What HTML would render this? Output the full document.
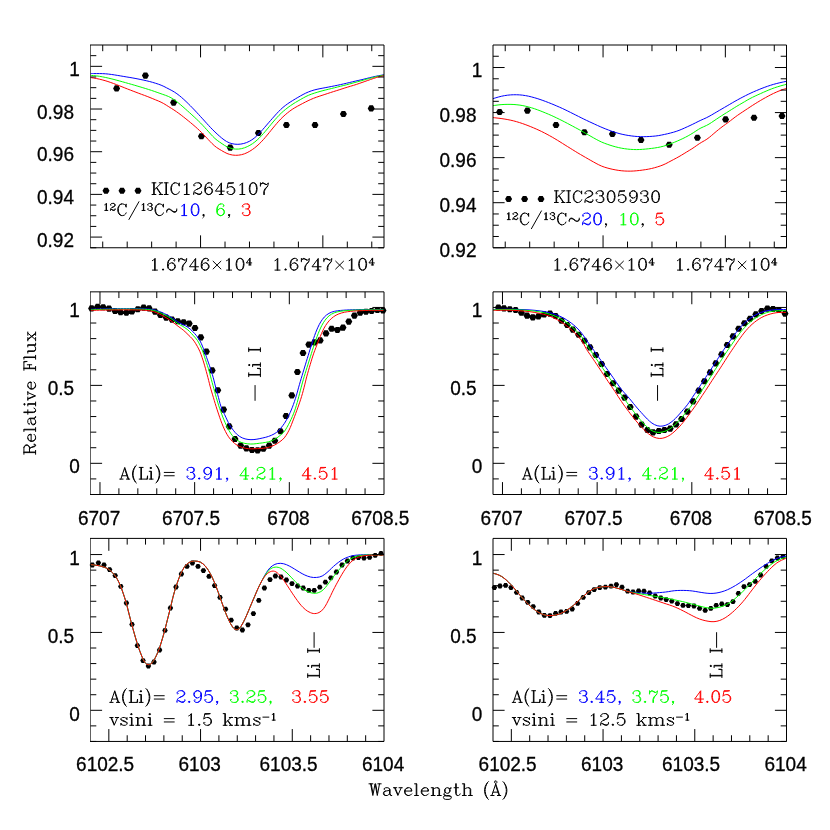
<!DOCTYPE html>
<html><head><meta charset="utf-8"><title>Spectra</title>
<style>
html,body{margin:0;padding:0;background:#fff;}
body{width:830px;height:830px;overflow:hidden;font-family:"Liberation Sans",sans-serif;}
svg{display:block;}
.t{font-family:"Liberation Sans",sans-serif;font-size:19px;fill:#000;stroke:#000;stroke-width:0.3px;}
.h{font-family:"Liberation Serif",serif;fill:#000;}
</style></head><body>
<svg width="830" height="830" viewBox="0 0 830 830">
<rect width="830" height="830" fill="#fff"/>
<clipPath id="c1"><rect x="90.5" y="45" width="293.5" height="202.75"/></clipPath>
<clipPath id="c2"><rect x="493" y="45" width="293.5" height="202.75"/></clipPath>
<clipPath id="c3"><rect x="90.5" y="291.85" width="293.5" height="202.65"/></clipPath>
<clipPath id="c4"><rect x="493" y="291.85" width="293.5" height="202.65"/></clipPath>
<clipPath id="c5"><rect x="90.5" y="538.4" width="293.5" height="203.05"/></clipPath>
<clipPath id="c6"><rect x="493" y="538.4" width="293.5" height="203.05"/></clipPath>
<g fill="#000">
<path d="M120.1 88.4l-1.75 3.03h-3.5l-1.75 -3.03l1.75 -3.03h3.5zM148.9 75.6l-1.75 3.03h-3.5l-1.75 -3.03l1.75 -3.03h3.5zM177.1 102.6l-1.75 3.03h-3.5l-1.75 -3.03l1.75 -3.03h3.5zM204.9 136.2l-1.75 3.03h-3.5l-1.75 -3.03l1.75 -3.03h3.5zM233.7 147.6l-1.75 3.03h-3.5l-1.75 -3.03l1.75 -3.03h3.5zM261.9 133l-1.75 3.03h-3.5l-1.75 -3.03l1.75 -3.03h3.5zM289.9 125l-1.75 3.03h-3.5l-1.75 -3.03l1.75 -3.03h3.5zM318.5 125l-1.75 3.03h-3.5l-1.75 -3.03l1.75 -3.03h3.5zM346.9 114l-1.75 3.03h-3.5l-1.75 -3.03l1.75 -3.03h3.5zM374.7 108.4l-1.75 3.03h-3.5l-1.75 -3.03l1.75 -3.03h3.5zM109.5 190.8l-1.75 3.03h-3.5l-1.75 -3.03l1.75 -3.03h3.5zM125.5 190.8l-1.75 3.03h-3.5l-1.75 -3.03l1.75 -3.03h3.5zM141.5 190.8l-1.75 3.03h-3.5l-1.75 -3.03l1.75 -3.03h3.5z"/>
</g>
<g clip-path="url(#c1)" fill="none" stroke-width="1" stroke-linejoin="round">
<path stroke="#0000ff" d="M90.41 73.55C90.91 73.55 92.41 73.55 93.41 73.55C94.41 73.55 95.41 73.55 96.41 73.55C97.41 73.56 98.41 73.56 99.41 73.57C100.41 73.58 101.41 73.59 102.41 73.63C103.41 73.67 104.41 73.72 105.4 73.79C106.4 73.86 107.39 73.96 108.39 74.07C109.38 74.18 110.37 74.31 111.36 74.44C112.35 74.58 113.34 74.73 114.33 74.89C115.32 75.04 116.3 75.21 117.29 75.37C118.28 75.54 119.26 75.71 120.25 75.87C121.23 76.04 122.22 76.2 123.21 76.37C124.19 76.53 125.18 76.7 126.17 76.86C127.15 77.02 128.14 77.18 129.13 77.35C130.11 77.52 131.1 77.68 132.08 77.85C133.07 78.03 134.05 78.21 135.04 78.39C136.02 78.58 137 78.77 137.98 78.96C138.96 79.16 139.94 79.36 140.92 79.56C141.9 79.77 142.88 79.97 143.86 80.18C144.83 80.39 145.81 80.61 146.78 80.84C147.76 81.07 148.73 81.31 149.69 81.56C150.66 81.81 151.63 82.08 152.59 82.35C153.55 82.63 154.5 82.92 155.46 83.22C156.41 83.52 157.36 83.82 158.31 84.15C159.25 84.48 160.19 84.82 161.11 85.2C162.04 85.57 162.95 85.98 163.85 86.41C164.75 86.84 165.63 87.32 166.51 87.78C167.4 88.23 168.29 88.7 169.17 89.16C170.06 89.63 170.95 90.07 171.83 90.55C172.7 91.03 173.57 91.52 174.42 92.05C175.26 92.57 176.09 93.14 176.9 93.72C177.71 94.3 178.5 94.91 179.28 95.53C180.06 96.16 180.83 96.8 181.59 97.45C182.35 98.1 183.09 98.77 183.83 99.44C184.57 100.12 185.3 100.8 186.02 101.49C186.75 102.18 187.47 102.87 188.18 103.58C188.89 104.28 189.6 104.99 190.3 105.7C191 106.41 191.7 107.13 192.39 107.84C193.09 108.56 193.78 109.29 194.47 110.01C195.16 110.74 195.84 111.47 196.53 112.2C197.21 112.93 197.89 113.66 198.57 114.4C199.24 115.13 199.92 115.87 200.59 116.61C201.27 117.35 201.94 118.09 202.61 118.83C203.28 119.57 203.95 120.31 204.62 121.06C205.29 121.8 205.96 122.54 206.63 123.28C207.31 124.02 207.98 124.76 208.66 125.49C209.34 126.23 210.02 126.96 210.71 127.68C211.4 128.4 212.1 129.12 212.81 129.83C213.51 130.54 214.22 131.24 214.94 131.94C215.66 132.63 216.38 133.32 217.12 134C217.85 134.68 218.6 135.35 219.35 136C220.1 136.66 220.86 137.31 221.64 137.94C222.41 138.57 223.19 139.21 223.99 139.79C224.8 140.37 225.61 140.95 226.47 141.44C227.33 141.94 228.22 142.38 229.13 142.75C230.04 143.12 231 143.42 231.95 143.66C232.91 143.9 233.9 144.07 234.88 144.18C235.86 144.29 236.86 144.34 237.85 144.32C238.84 144.31 239.84 144.22 240.82 144.09C241.8 143.95 242.78 143.75 243.73 143.49C244.69 143.24 245.64 142.93 246.57 142.57C247.49 142.21 248.41 141.8 249.29 141.35C250.17 140.89 251.03 140.38 251.86 139.83C252.69 139.29 253.49 138.69 254.27 138.07C255.05 137.45 255.8 136.8 256.54 136.12C257.27 135.45 257.98 134.74 258.68 134.03C259.37 133.31 260.05 132.57 260.72 131.83C261.39 131.09 262.05 130.34 262.71 129.58C263.37 128.83 264.02 128.08 264.68 127.32C265.33 126.57 265.98 125.81 266.64 125.05C267.29 124.29 267.94 123.53 268.59 122.78C269.25 122.02 269.9 121.26 270.56 120.51C271.21 119.75 271.87 119 272.53 118.25C273.19 117.5 273.85 116.75 274.52 116C275.19 115.26 275.85 114.51 276.53 113.78C277.21 113.04 277.88 112.3 278.58 111.58C279.27 110.86 279.97 110.15 280.69 109.46C281.42 108.77 282.16 108.1 282.91 107.45C283.67 106.8 284.45 106.18 285.24 105.57C286.03 104.96 286.84 104.37 287.66 103.79C288.48 103.22 289.31 102.66 290.15 102.12C290.98 101.57 291.83 101.05 292.68 100.52C293.53 100 294.39 99.48 295.25 98.97C296.11 98.45 296.97 97.94 297.83 97.44C298.69 96.93 299.56 96.43 300.43 95.94C301.3 95.45 302.18 94.96 303.06 94.5C303.94 94.03 304.83 93.57 305.73 93.14C306.64 92.72 307.55 92.31 308.47 91.93C309.4 91.56 310.33 91.21 311.28 90.89C312.22 90.57 313.18 90.28 314.14 90.01C315.1 89.75 316.08 89.51 317.05 89.29C318.02 89.06 319 88.86 319.98 88.67C320.96 88.47 321.95 88.29 322.93 88.11C323.91 87.92 324.9 87.74 325.88 87.56C326.86 87.37 327.85 87.18 328.83 86.99C329.81 86.8 330.79 86.6 331.77 86.41C332.75 86.21 333.73 86.02 334.71 85.82C335.69 85.62 336.67 85.42 337.65 85.22C338.63 85.01 339.61 84.81 340.59 84.59C341.56 84.38 342.54 84.16 343.51 83.94C344.49 83.72 345.46 83.49 346.44 83.26C347.41 83.03 348.38 82.8 349.35 82.56C350.33 82.33 351.3 82.09 352.27 81.86C353.24 81.63 354.22 81.4 355.19 81.17C356.17 80.95 357.14 80.73 358.12 80.5C359.09 80.28 360.07 80.06 361.04 79.84C362.01 79.61 362.99 79.37 363.96 79.13C364.93 78.89 365.9 78.64 366.86 78.4C367.83 78.15 368.8 77.9 369.77 77.67C370.75 77.43 371.72 77.19 372.69 76.97C373.67 76.75 374.64 76.53 375.62 76.32C376.6 76.11 377.58 75.92 378.56 75.73C379.54 75.54 380.61 75.35 381.51 75.18C382.41 75.02 383.57 74.83 383.98 74.76"/>
<path stroke="#00ff00" d="M90.41 75.36C90.91 75.4 92.4 75.51 93.4 75.59C94.4 75.68 95.39 75.77 96.38 75.89C97.38 76 98.37 76.14 99.36 76.29C100.34 76.44 101.33 76.62 102.31 76.8C103.29 76.99 104.27 77.19 105.25 77.4C106.23 77.6 107.2 77.82 108.18 78.05C109.15 78.27 110.12 78.51 111.09 78.75C112.07 78.99 113.04 79.23 114 79.48C114.97 79.73 115.94 79.99 116.9 80.25C117.87 80.51 118.83 80.78 119.8 81.04C120.76 81.31 121.72 81.58 122.69 81.85C123.65 82.12 124.61 82.4 125.57 82.67C126.54 82.94 127.5 83.22 128.46 83.49C129.42 83.76 130.38 84.03 131.35 84.31C132.31 84.58 133.27 84.86 134.23 85.14C135.19 85.42 136.15 85.71 137.1 85.99C138.06 86.28 139.02 86.57 139.98 86.85C140.94 87.14 141.9 87.43 142.85 87.71C143.81 88 144.77 88.29 145.73 88.58C146.68 88.87 147.64 89.17 148.59 89.47C149.54 89.77 150.5 90.08 151.45 90.4C152.39 90.71 153.34 91.03 154.29 91.36C155.23 91.69 156.17 92.02 157.12 92.36C158.06 92.69 159 93.04 159.94 93.37C160.88 93.71 161.82 94.04 162.77 94.37C163.71 94.69 164.66 95 165.6 95.35C166.53 95.7 167.47 96.05 168.38 96.45C169.28 96.86 170.18 97.3 171.05 97.78C171.92 98.26 172.78 98.78 173.61 99.33C174.44 99.88 175.25 100.46 176.05 101.06C176.85 101.66 177.62 102.29 178.4 102.92C179.17 103.56 179.93 104.2 180.69 104.85C181.45 105.5 182.21 106.16 182.96 106.82C183.71 107.48 184.46 108.15 185.21 108.81C185.95 109.47 186.7 110.14 187.44 110.81C188.19 111.48 188.93 112.14 189.68 112.81C190.42 113.48 191.16 114.15 191.9 114.83C192.64 115.5 193.38 116.17 194.12 116.85C194.85 117.53 195.59 118.21 196.31 118.89C197.04 119.58 197.76 120.27 198.48 120.97C199.2 121.67 199.9 122.37 200.61 123.08C201.31 123.79 202.01 124.51 202.69 125.24C203.38 125.96 204.06 126.7 204.73 127.44C205.41 128.18 206.07 128.93 206.73 129.67C207.4 130.42 208.05 131.18 208.72 131.92C209.38 132.67 210.05 133.42 210.72 134.15C211.4 134.89 212.07 135.63 212.77 136.34C213.47 137.06 214.17 137.77 214.91 138.44C215.64 139.11 216.41 139.75 217.19 140.35C217.98 140.96 218.81 141.51 219.63 142.08C220.45 142.64 221.29 143.19 222.12 143.75C222.94 144.31 223.76 144.89 224.6 145.41C225.45 145.93 226.3 146.46 227.18 146.89C228.07 147.32 229 147.69 229.93 147.99C230.87 148.3 231.85 148.54 232.82 148.72C233.79 148.9 234.78 149.03 235.77 149.09C236.76 149.14 237.75 149.14 238.74 149.06C239.72 148.98 240.7 148.83 241.67 148.61C242.64 148.4 243.59 148.11 244.53 147.78C245.47 147.45 246.39 147.07 247.29 146.65C248.2 146.23 249.08 145.77 249.95 145.28C250.81 144.78 251.66 144.25 252.48 143.69C253.3 143.13 254.11 142.53 254.89 141.92C255.67 141.3 256.43 140.65 257.18 139.98C257.92 139.32 258.64 138.62 259.35 137.92C260.06 137.21 260.74 136.49 261.42 135.76C262.1 135.02 262.77 134.28 263.43 133.53C264.09 132.78 264.74 132.02 265.39 131.25C266.03 130.49 266.67 129.72 267.31 128.95C267.94 128.18 268.58 127.4 269.21 126.63C269.85 125.86 270.48 125.09 271.12 124.32C271.76 123.55 272.4 122.78 273.04 122.01C273.69 121.25 274.33 120.49 274.99 119.73C275.65 118.98 276.31 118.23 276.99 117.49C277.66 116.76 278.35 116.03 279.04 115.31C279.74 114.59 280.45 113.89 281.17 113.2C281.9 112.51 282.64 111.84 283.39 111.18C284.14 110.53 284.91 109.89 285.69 109.26C286.47 108.64 287.26 108.02 288.06 107.42C288.86 106.83 289.67 106.24 290.49 105.67C291.31 105.1 292.15 104.55 292.98 104C293.82 103.46 294.68 102.94 295.53 102.42C296.38 101.9 297.25 101.39 298.11 100.88C298.97 100.38 299.84 99.88 300.71 99.38C301.58 98.89 302.44 98.39 303.32 97.91C304.2 97.43 305.07 96.95 305.96 96.5C306.86 96.05 307.76 95.62 308.67 95.23C309.59 94.83 310.52 94.47 311.46 94.13C312.4 93.78 313.35 93.47 314.3 93.16C315.25 92.85 316.2 92.56 317.16 92.27C318.12 91.98 319.08 91.7 320.04 91.44C321 91.17 321.97 90.91 322.94 90.65C323.9 90.4 324.87 90.15 325.84 89.91C326.81 89.67 327.79 89.43 328.76 89.19C329.73 88.95 330.7 88.72 331.67 88.48C332.64 88.24 333.61 87.99 334.58 87.74C335.55 87.5 336.52 87.25 337.49 87C338.46 86.76 339.43 86.52 340.4 86.28C341.37 86.04 342.34 85.81 343.31 85.57C344.29 85.33 345.26 85.09 346.22 84.84C347.19 84.59 348.16 84.34 349.13 84.08C350.09 83.82 351.06 83.56 352.02 83.29C352.99 83.03 353.95 82.76 354.92 82.5C355.88 82.23 356.85 81.98 357.81 81.72C358.78 81.46 359.75 81.2 360.71 80.94C361.67 80.67 362.64 80.4 363.6 80.13C364.56 79.86 365.52 79.57 366.48 79.3C367.44 79.02 368.4 78.74 369.37 78.48C370.33 78.21 371.3 77.96 372.27 77.71C373.23 77.46 374.2 77.21 375.17 76.97C376.15 76.73 377.12 76.5 378.09 76.28C379.07 76.06 380.05 75.86 381.03 75.66C382.01 75.47 383.48 75.21 383.98 75.12"/>
<path stroke="#ff0000" d="M90.41 77.53C90.9 77.61 92.39 77.84 93.37 78.01C94.36 78.18 95.34 78.35 96.33 78.53C97.31 78.72 98.29 78.92 99.26 79.14C100.24 79.36 101.21 79.6 102.18 79.85C103.15 80.1 104.11 80.37 105.07 80.65C106.03 80.94 106.98 81.24 107.93 81.54C108.88 81.85 109.83 82.18 110.78 82.51C111.72 82.84 112.66 83.18 113.6 83.53C114.54 83.88 115.47 84.23 116.4 84.59C117.34 84.95 118.27 85.32 119.2 85.68C120.13 86.05 121.06 86.42 121.99 86.79C122.92 87.16 123.85 87.53 124.78 87.9C125.71 88.27 126.64 88.63 127.57 89C128.5 89.36 129.44 89.72 130.37 90.08C131.31 90.44 132.24 90.8 133.17 91.16C134.11 91.51 135.04 91.87 135.98 92.23C136.91 92.59 137.85 92.95 138.78 93.3C139.72 93.65 140.65 94.01 141.59 94.35C142.53 94.7 143.47 95.05 144.41 95.39C145.34 95.74 146.28 96.09 147.22 96.45C148.15 96.81 149.08 97.18 150.01 97.55C150.94 97.92 151.86 98.31 152.79 98.69C153.71 99.07 154.64 99.45 155.56 99.83C156.48 100.21 157.41 100.58 158.33 100.98C159.25 101.37 160.17 101.76 161.07 102.19C161.97 102.63 162.85 103.09 163.72 103.59C164.58 104.08 165.42 104.62 166.27 105.15C167.11 105.68 167.95 106.23 168.8 106.76C169.64 107.29 170.5 107.81 171.35 108.34C172.19 108.87 173.05 109.4 173.88 109.94C174.72 110.49 175.55 111.05 176.37 111.62C177.19 112.19 178 112.78 178.81 113.37C179.61 113.97 180.41 114.57 181.21 115.17C182 115.78 182.79 116.39 183.58 117.01C184.37 117.63 185.15 118.25 185.93 118.87C186.72 119.5 187.5 120.12 188.27 120.76C189.05 121.39 189.82 122.02 190.59 122.66C191.36 123.3 192.13 123.94 192.89 124.59C193.65 125.24 194.41 125.89 195.16 126.55C195.91 127.21 196.66 127.87 197.4 128.55C198.14 129.22 198.87 129.91 199.59 130.6C200.31 131.29 201.02 132 201.73 132.7C202.44 133.41 203.13 134.13 203.83 134.85C204.52 135.57 205.2 136.3 205.89 137.03C206.57 137.76 207.25 138.5 207.93 139.23C208.61 139.96 209.3 140.69 209.99 141.41C210.68 142.13 211.38 142.86 212.09 143.55C212.81 144.25 213.52 144.95 214.27 145.61C215.02 146.26 215.79 146.89 216.6 147.47C217.4 148.05 218.25 148.57 219.1 149.09C219.95 149.62 220.82 150.1 221.68 150.61C222.55 151.11 223.4 151.63 224.28 152.1C225.16 152.57 226.03 153.04 226.94 153.44C227.85 153.83 228.79 154.17 229.74 154.44C230.69 154.71 231.67 154.92 232.64 155.06C233.62 155.2 234.62 155.28 235.61 155.3C236.6 155.32 237.6 155.28 238.58 155.17C239.57 155.07 240.55 154.9 241.52 154.68C242.48 154.45 243.44 154.17 244.38 153.83C245.31 153.49 246.23 153.1 247.12 152.66C248.02 152.23 248.89 151.75 249.75 151.24C250.61 150.73 251.45 150.19 252.27 149.62C253.09 149.06 253.9 148.46 254.69 147.85C255.47 147.24 256.24 146.6 257 145.95C257.75 145.29 258.49 144.61 259.21 143.92C259.93 143.23 260.64 142.52 261.33 141.8C262.02 141.08 262.7 140.35 263.37 139.6C264.04 138.86 264.69 138.1 265.34 137.34C265.99 136.58 266.63 135.81 267.26 135.04C267.9 134.26 268.53 133.49 269.16 132.71C269.79 131.93 270.41 131.15 271.04 130.37C271.67 129.59 272.29 128.81 272.93 128.04C273.56 127.26 274.19 126.48 274.83 125.72C275.47 124.95 276.12 124.18 276.77 123.43C277.42 122.67 278.08 121.92 278.76 121.18C279.43 120.44 280.11 119.71 280.81 118.99C281.51 118.28 282.22 117.57 282.95 116.89C283.67 116.2 284.41 115.53 285.16 114.87C285.92 114.21 286.68 113.56 287.45 112.93C288.23 112.3 289.01 111.68 289.81 111.08C290.62 110.48 291.43 109.9 292.26 109.35C293.09 108.79 293.94 108.27 294.8 107.75C295.65 107.24 296.53 106.76 297.4 106.27C298.28 105.79 299.16 105.32 300.05 104.85C300.93 104.38 301.81 103.91 302.7 103.45C303.59 102.98 304.47 102.52 305.36 102.06C306.25 101.61 307.15 101.16 308.05 100.73C308.95 100.29 309.86 99.87 310.77 99.47C311.69 99.06 312.61 98.67 313.54 98.31C314.47 97.94 315.4 97.59 316.34 97.25C317.29 96.91 318.24 96.6 319.18 96.28C320.13 95.97 321.09 95.66 322.04 95.35C322.99 95.04 323.94 94.74 324.89 94.43C325.84 94.11 326.79 93.8 327.74 93.48C328.69 93.17 329.64 92.85 330.59 92.54C331.54 92.23 332.49 91.92 333.45 91.62C334.4 91.32 335.36 91.03 336.31 90.73C337.27 90.43 338.22 90.13 339.17 89.82C340.13 89.52 341.07 89.2 342.02 88.88C342.98 88.57 343.93 88.26 344.88 87.96C345.83 87.66 346.79 87.36 347.75 87.07C348.7 86.78 349.66 86.5 350.62 86.21C351.58 85.93 352.54 85.64 353.5 85.35C354.45 85.05 355.41 84.75 356.35 84.44C357.3 84.12 358.25 83.79 359.19 83.46C360.14 83.14 361.08 82.8 362.02 82.47C362.97 82.14 363.91 81.81 364.86 81.48C365.8 81.15 366.75 80.82 367.69 80.49C368.64 80.16 369.58 79.83 370.52 79.5C371.47 79.17 372.41 78.83 373.36 78.51C374.31 78.19 375.25 77.87 376.21 77.58C377.17 77.29 378.13 77.01 379.09 76.76C380.06 76.51 381.2 76.27 382.01 76.1C382.83 75.92 383.65 75.79 383.98 75.72"/>
</g>
<g fill="#000">
<path d="M503.1 112l-1.75 3.03h-3.5l-1.75 -3.03l1.75 -3.03h3.5zM530.9 110.6l-1.75 3.03h-3.5l-1.75 -3.03l1.75 -3.03h3.5zM559.5 125l-1.75 3.03h-3.5l-1.75 -3.03l1.75 -3.03h3.5zM587.9 132.2l-1.75 3.03h-3.5l-1.75 -3.03l1.75 -3.03h3.5zM615.9 134l-1.75 3.03h-3.5l-1.75 -3.03l1.75 -3.03h3.5zM644.5 140l-1.75 3.03h-3.5l-1.75 -3.03l1.75 -3.03h3.5zM672.7 144.8l-1.75 3.03h-3.5l-1.75 -3.03l1.75 -3.03h3.5zM700.9 137.8l-1.75 3.03h-3.5l-1.75 -3.03l1.75 -3.03h3.5zM729.1 119.4l-1.75 3.03h-3.5l-1.75 -3.03l1.75 -3.03h3.5zM757.5 117.8l-1.75 3.03h-3.5l-1.75 -3.03l1.75 -3.03h3.5zM785.5 116l-1.75 3.03h-3.5l-1.75 -3.03l1.75 -3.03h3.5zM512.1 199l-1.75 3.03h-3.5l-1.75 -3.03l1.75 -3.03h3.5zM528.1 199l-1.75 3.03h-3.5l-1.75 -3.03l1.75 -3.03h3.5zM544.5 199l-1.75 3.03h-3.5l-1.75 -3.03l1.75 -3.03h3.5z"/>
</g>
<g clip-path="url(#c2)" fill="none" stroke-width="1" stroke-linejoin="round">
<path stroke="#0000ff" d="M493.01 98.67C493.49 98.52 494.92 98.06 495.88 97.77C496.84 97.48 497.79 97.2 498.76 96.93C499.73 96.67 500.7 96.43 501.67 96.21C502.65 95.99 503.63 95.79 504.61 95.62C505.6 95.45 506.59 95.3 507.58 95.18C508.57 95.06 509.57 94.97 510.57 94.9C511.57 94.83 512.57 94.79 513.57 94.76C514.57 94.74 515.57 94.74 516.57 94.76C517.57 94.78 518.57 94.81 519.57 94.88C520.56 94.95 521.56 95.05 522.55 95.17C523.54 95.29 524.53 95.44 525.52 95.61C526.51 95.78 527.49 95.97 528.47 96.18C529.44 96.4 530.42 96.63 531.39 96.88C532.36 97.13 533.32 97.39 534.28 97.67C535.25 97.94 536.2 98.23 537.16 98.53C538.12 98.83 539.07 99.14 540.02 99.46C540.96 99.78 541.91 100.11 542.85 100.45C543.8 100.79 544.73 101.14 545.67 101.49C546.61 101.84 547.54 102.2 548.48 102.57C549.41 102.93 550.34 103.31 551.27 103.68C552.19 104.06 553.12 104.44 554.04 104.82C554.97 105.21 555.89 105.6 556.81 106C557.73 106.39 558.65 106.79 559.56 107.2C560.48 107.6 561.39 108.01 562.3 108.43C563.21 108.85 564.12 109.27 565.02 109.71C565.93 110.14 566.83 110.58 567.72 111.02C568.62 111.47 569.52 111.92 570.41 112.37C571.31 112.81 572.2 113.26 573.1 113.71C573.99 114.16 574.89 114.61 575.78 115.06C576.68 115.51 577.57 115.96 578.47 116.41C579.36 116.85 580.26 117.3 581.15 117.75C582.05 118.2 582.95 118.65 583.84 119.09C584.74 119.53 585.64 119.97 586.55 120.4C587.45 120.83 588.36 121.25 589.27 121.67C590.18 122.1 591.09 122.51 592 122.93C592.9 123.35 593.81 123.78 594.72 124.2C595.63 124.62 596.54 125.04 597.45 125.45C598.36 125.87 599.28 126.28 600.19 126.67C601.11 127.07 602.04 127.46 602.96 127.85C603.89 128.23 604.81 128.61 605.74 128.97C606.68 129.34 607.61 129.7 608.55 130.05C609.49 130.41 610.43 130.75 611.37 131.08C612.31 131.41 613.26 131.74 614.21 132.05C615.17 132.36 616.12 132.66 617.08 132.95C618.04 133.23 619 133.5 619.97 133.75C620.94 134 621.92 134.23 622.89 134.45C623.87 134.66 624.85 134.85 625.84 135.04C626.82 135.22 627.81 135.39 628.8 135.54C629.79 135.7 630.78 135.84 631.77 135.97C632.76 136.09 633.76 136.21 634.75 136.3C635.75 136.4 636.75 136.48 637.75 136.54C638.75 136.6 639.75 136.64 640.75 136.67C641.75 136.69 642.75 136.7 643.75 136.69C644.75 136.68 645.75 136.65 646.75 136.62C647.75 136.58 648.75 136.53 649.75 136.48C650.75 136.42 651.75 136.36 652.75 136.28C653.75 136.2 654.74 136.11 655.74 135.99C656.73 135.88 657.72 135.73 658.71 135.57C659.7 135.41 660.68 135.22 661.66 135.03C662.64 134.84 663.62 134.63 664.6 134.42C665.58 134.2 666.56 133.98 667.53 133.75C668.51 133.52 669.48 133.29 670.45 133.04C671.42 132.79 672.39 132.53 673.35 132.25C674.31 131.97 675.27 131.68 676.22 131.37C677.17 131.05 678.11 130.72 679.04 130.36C679.98 130.01 680.9 129.63 681.83 129.24C682.75 128.85 683.66 128.44 684.57 128.03C685.49 127.62 686.4 127.2 687.31 126.78C688.22 126.37 689.13 125.95 690.04 125.52C690.94 125.1 691.85 124.67 692.75 124.23C693.65 123.79 694.54 123.34 695.44 122.89C696.33 122.44 697.22 121.98 698.12 121.54C699.02 121.1 699.92 120.66 700.83 120.24C701.73 119.82 702.66 119.43 703.57 119.02C704.48 118.61 705.4 118.22 706.3 117.79C707.21 117.36 708.1 116.91 708.98 116.43C709.86 115.96 710.73 115.46 711.59 114.96C712.46 114.46 713.32 113.94 714.18 113.43C715.04 112.92 715.91 112.41 716.77 111.91C717.63 111.4 718.5 110.9 719.36 110.39C720.23 109.89 721.09 109.38 721.96 108.88C722.82 108.37 723.69 107.87 724.55 107.36C725.42 106.86 726.28 106.35 727.15 105.85C728.01 105.34 728.88 104.84 729.74 104.33C730.61 103.83 731.47 103.32 732.33 102.81C733.2 102.31 734.07 101.81 734.94 101.31C735.81 100.82 736.68 100.33 737.56 99.85C738.44 99.37 739.32 98.89 740.2 98.42C741.09 97.95 741.97 97.48 742.86 97.02C743.75 96.56 744.64 96.1 745.53 95.65C746.43 95.2 747.32 94.75 748.22 94.31C749.12 93.87 750.03 93.44 750.94 93.02C751.84 92.6 752.76 92.19 753.67 91.78C754.59 91.38 755.51 90.99 756.43 90.6C757.36 90.21 758.28 89.82 759.21 89.44C760.13 89.06 761.06 88.69 761.99 88.32C762.92 87.95 763.86 87.59 764.8 87.25C765.74 86.9 766.68 86.56 767.63 86.24C768.57 85.91 769.52 85.6 770.48 85.3C771.43 84.99 772.39 84.7 773.35 84.42C774.32 84.15 775.28 83.88 776.25 83.62C777.22 83.37 778.19 83.13 779.16 82.9C780.14 82.66 781.11 82.45 782.09 82.24C783.07 82.02 784.3 81.77 785.03 81.62C785.77 81.47 786.26 81.37 786.51 81.33"/>
<path stroke="#00ff00" d="M493.01 105.66C493.51 105.59 494.99 105.36 495.98 105.22C496.97 105.08 497.96 104.95 498.96 104.84C499.95 104.74 500.95 104.65 501.95 104.58C502.95 104.51 503.94 104.46 504.94 104.42C505.94 104.39 506.95 104.37 507.95 104.36C508.95 104.35 509.95 104.36 510.95 104.38C511.95 104.41 512.95 104.45 513.94 104.51C514.94 104.58 515.94 104.66 516.93 104.77C517.93 104.87 518.92 105 519.91 105.14C520.9 105.29 521.89 105.45 522.87 105.64C523.85 105.82 524.83 106.02 525.81 106.25C526.78 106.47 527.75 106.71 528.72 106.97C529.68 107.23 530.65 107.51 531.6 107.81C532.56 108.1 533.51 108.41 534.46 108.73C535.4 109.06 536.35 109.39 537.29 109.73C538.23 110.08 539.16 110.43 540.1 110.79C541.03 111.15 541.96 111.52 542.89 111.89C543.82 112.26 544.75 112.64 545.67 113.02C546.6 113.4 547.52 113.79 548.44 114.19C549.36 114.58 550.28 114.98 551.19 115.39C552.1 115.8 553.01 116.22 553.92 116.64C554.83 117.06 555.73 117.49 556.64 117.93C557.54 118.36 558.44 118.8 559.34 119.24C560.23 119.68 561.13 120.13 562.02 120.58C562.92 121.03 563.81 121.49 564.7 121.95C565.59 122.41 566.47 122.87 567.36 123.34C568.24 123.81 569.12 124.28 570.01 124.75C570.89 125.22 571.78 125.69 572.66 126.16C573.55 126.63 574.43 127.09 575.31 127.57C576.2 128.04 577.08 128.51 577.95 128.99C578.83 129.48 579.71 129.96 580.58 130.45C581.45 130.95 582.32 131.44 583.19 131.94C584.06 132.43 584.93 132.93 585.8 133.43C586.66 133.93 587.53 134.43 588.4 134.93C589.27 135.42 590.14 135.92 591.01 136.42C591.88 136.91 592.74 137.41 593.62 137.9C594.49 138.39 595.36 138.88 596.24 139.36C597.12 139.84 598 140.32 598.89 140.76C599.79 141.21 600.68 141.65 601.6 142.06C602.51 142.46 603.44 142.83 604.37 143.19C605.3 143.56 606.25 143.89 607.19 144.22C608.13 144.55 609.08 144.87 610.03 145.18C610.98 145.49 611.94 145.79 612.9 146.08C613.86 146.36 614.82 146.64 615.79 146.89C616.76 147.14 617.73 147.38 618.7 147.6C619.68 147.82 620.66 148.03 621.64 148.21C622.62 148.39 623.61 148.55 624.6 148.7C625.59 148.84 626.58 148.97 627.58 149.08C628.57 149.19 629.57 149.29 630.57 149.36C631.56 149.44 632.56 149.49 633.56 149.53C634.56 149.57 635.56 149.58 636.56 149.58C637.56 149.58 638.56 149.55 639.56 149.51C640.56 149.47 641.56 149.41 642.56 149.34C643.56 149.27 644.55 149.18 645.55 149.09C646.55 148.99 647.54 148.89 648.54 148.77C649.53 148.66 650.53 148.55 651.52 148.42C652.51 148.29 653.5 148.16 654.49 148.02C655.48 147.87 656.47 147.71 657.46 147.54C658.44 147.36 659.42 147.17 660.4 146.96C661.38 146.74 662.35 146.51 663.31 146.24C664.28 145.98 665.23 145.69 666.18 145.38C667.13 145.07 668.08 144.73 669.02 144.39C669.96 144.05 670.89 143.69 671.82 143.32C672.75 142.96 673.68 142.58 674.61 142.2C675.53 141.81 676.45 141.42 677.37 141.02C678.29 140.63 679.2 140.22 680.12 139.81C681.03 139.4 681.94 138.98 682.84 138.55C683.74 138.12 684.64 137.68 685.53 137.22C686.42 136.76 687.31 136.29 688.18 135.81C689.05 135.32 689.92 134.82 690.78 134.31C691.64 133.79 692.49 133.26 693.33 132.73C694.17 132.19 695 131.62 695.84 131.08C696.67 130.53 697.5 129.96 698.35 129.44C699.2 128.93 700.07 128.43 700.95 127.97C701.84 127.52 702.76 127.13 703.66 126.72C704.57 126.31 705.5 125.94 706.39 125.5C707.28 125.06 708.16 124.59 709.02 124.08C709.88 123.58 710.71 123.02 711.55 122.48C712.38 121.93 713.2 121.35 714.03 120.79C714.86 120.23 715.69 119.66 716.52 119.11C717.35 118.55 718.18 117.99 719.01 117.44C719.85 116.89 720.69 116.34 721.53 115.8C722.37 115.26 723.22 114.72 724.07 114.19C724.92 113.66 725.77 113.14 726.62 112.61C727.47 112.08 728.32 111.56 729.17 111.03C730.02 110.49 730.86 109.96 731.71 109.43C732.56 108.89 733.4 108.36 734.25 107.83C735.1 107.3 735.96 106.77 736.81 106.26C737.67 105.74 738.53 105.23 739.39 104.72C740.25 104.21 741.12 103.71 741.98 103.21C742.85 102.7 743.71 102.19 744.58 101.69C745.44 101.18 746.3 100.67 747.17 100.17C748.04 99.68 748.91 99.18 749.79 98.71C750.67 98.23 751.56 97.77 752.45 97.33C753.35 96.89 754.26 96.46 755.16 96.04C756.07 95.61 756.98 95.2 757.89 94.79C758.8 94.37 759.72 93.96 760.63 93.55C761.54 93.14 762.45 92.73 763.37 92.32C764.29 91.92 765.2 91.52 766.12 91.12C767.04 90.73 767.96 90.33 768.89 89.95C769.81 89.57 770.74 89.2 771.68 88.84C772.61 88.48 773.55 88.14 774.49 87.81C775.44 87.48 776.39 87.16 777.34 86.86C778.29 86.56 779.25 86.27 780.22 85.99C781.18 85.72 782.14 85.46 783.11 85.2C784.08 84.95 785.46 84.6 786.02 84.46C786.59 84.32 786.43 84.36 786.51 84.34"/>
<path stroke="#ff0000" d="M493.01 117.59C493.51 117.64 495 117.8 495.99 117.91C496.99 118.02 497.98 118.13 498.97 118.26C499.97 118.38 500.96 118.51 501.95 118.65C502.94 118.79 503.93 118.94 504.91 119.1C505.9 119.26 506.88 119.44 507.87 119.63C508.85 119.81 509.83 120.01 510.8 120.23C511.78 120.44 512.75 120.67 513.72 120.92C514.69 121.17 515.66 121.43 516.62 121.7C517.58 121.98 518.53 122.27 519.49 122.57C520.44 122.87 521.39 123.19 522.33 123.51C523.28 123.84 524.22 124.17 525.16 124.52C526.1 124.86 527.03 125.22 527.97 125.58C528.9 125.94 529.83 126.31 530.75 126.69C531.68 127.06 532.6 127.45 533.52 127.84C534.44 128.23 535.36 128.63 536.27 129.04C537.19 129.44 538.1 129.86 539.01 130.28C539.91 130.7 540.82 131.13 541.71 131.56C542.61 132 543.51 132.45 544.4 132.91C545.29 133.36 546.17 133.83 547.05 134.3C547.93 134.77 548.81 135.25 549.69 135.74C550.56 136.22 551.43 136.71 552.3 137.21C553.17 137.71 554.03 138.21 554.89 138.72C555.75 139.23 556.61 139.74 557.46 140.27C558.32 140.79 559.16 141.32 560.01 141.85C560.86 142.38 561.7 142.91 562.55 143.45C563.39 143.98 564.24 144.52 565.09 145.05C565.93 145.58 566.78 146.1 567.63 146.63C568.48 147.16 569.34 147.68 570.18 148.21C571.03 148.74 571.88 149.27 572.73 149.8C573.58 150.32 574.43 150.86 575.28 151.38C576.13 151.9 576.99 152.42 577.84 152.94C578.7 153.45 579.56 153.96 580.43 154.46C581.29 154.97 582.15 155.47 583.02 155.97C583.88 156.47 584.75 156.97 585.62 157.47C586.48 157.97 587.35 158.47 588.22 158.97C589.09 159.47 589.95 159.96 590.82 160.46C591.69 160.95 592.56 161.44 593.44 161.93C594.31 162.42 595.18 162.9 596.06 163.38C596.94 163.85 597.83 164.32 598.72 164.77C599.62 165.21 600.52 165.64 601.44 166.02C602.36 166.4 603.29 166.75 604.23 167.07C605.18 167.4 606.14 167.68 607.1 167.95C608.06 168.23 609.03 168.48 610 168.71C610.97 168.95 611.94 169.17 612.92 169.38C613.9 169.59 614.88 169.78 615.86 169.95C616.85 170.13 617.83 170.29 618.82 170.43C619.81 170.57 620.8 170.69 621.8 170.79C622.79 170.89 623.79 170.97 624.79 171.03C625.78 171.09 626.78 171.12 627.78 171.14C628.78 171.16 629.78 171.15 630.78 171.13C631.78 171.1 632.78 171.06 633.77 171C634.77 170.94 635.77 170.86 636.76 170.76C637.76 170.67 638.75 170.55 639.74 170.44C640.74 170.32 641.73 170.19 642.72 170.05C643.71 169.91 644.7 169.78 645.69 169.62C646.67 169.46 647.66 169.3 648.64 169.11C649.62 168.92 650.6 168.71 651.57 168.49C652.55 168.26 653.52 168.01 654.48 167.75C655.44 167.49 656.41 167.21 657.36 166.92C658.32 166.63 659.27 166.32 660.21 165.99C661.15 165.66 662.09 165.31 663.01 164.93C663.93 164.54 664.84 164.12 665.74 163.69C666.63 163.25 667.52 162.78 668.4 162.32C669.28 161.85 670.16 161.37 671.04 160.9C671.92 160.43 672.81 159.96 673.69 159.49C674.58 159.02 675.46 158.57 676.34 158.09C677.22 157.61 678.1 157.14 678.97 156.64C679.84 156.15 680.7 155.64 681.55 155.12C682.41 154.61 683.26 154.08 684.11 153.56C684.97 153.03 685.82 152.51 686.67 151.99C687.53 151.47 688.39 150.96 689.24 150.44C690.09 149.92 690.95 149.4 691.79 148.86C692.63 148.32 693.46 147.77 694.29 147.21C695.12 146.64 695.92 146.06 696.74 145.48C697.56 144.91 698.38 144.33 699.21 143.78C700.04 143.24 700.89 142.71 701.75 142.2C702.61 141.69 703.49 141.23 704.35 140.72C705.21 140.22 706.07 139.72 706.9 139.16C707.72 138.61 708.52 138.01 709.3 137.39C710.09 136.78 710.84 136.12 711.6 135.47C712.36 134.82 713.1 134.15 713.86 133.5C714.62 132.85 715.38 132.2 716.15 131.57C716.92 130.93 717.7 130.29 718.48 129.67C719.26 129.04 720.04 128.42 720.83 127.81C721.63 127.2 722.43 126.61 723.23 126.01C724.04 125.42 724.85 124.84 725.66 124.25C726.47 123.67 727.28 123.08 728.09 122.49C728.89 121.89 729.68 121.29 730.48 120.68C731.27 120.07 732.05 119.45 732.85 118.84C733.64 118.23 734.43 117.61 735.23 117.02C736.03 116.42 736.84 115.84 737.66 115.26C738.48 114.69 739.31 114.13 740.14 113.57C740.97 113.02 741.81 112.47 742.64 111.92C743.47 111.36 744.31 110.81 745.14 110.26C745.97 109.7 746.8 109.15 747.64 108.6C748.47 108.04 749.3 107.49 750.14 106.94C750.98 106.4 751.82 105.85 752.66 105.31C753.5 104.77 754.34 104.24 755.19 103.7C756.04 103.17 756.89 102.65 757.74 102.13C758.6 101.61 759.45 101.09 760.31 100.58C761.18 100.07 762.04 99.57 762.91 99.07C763.77 98.57 764.64 98.08 765.52 97.6C766.39 97.11 767.27 96.63 768.15 96.16C769.03 95.68 769.92 95.22 770.81 94.76C771.7 94.31 772.59 93.86 773.49 93.43C774.4 93 775.3 92.58 776.22 92.18C777.13 91.77 778.05 91.38 778.98 91.01C779.9 90.64 780.84 90.28 781.78 89.94C782.72 89.6 783.82 89.22 784.61 88.95C785.4 88.68 786.19 88.42 786.51 88.31"/>
</g>
<g fill="#000">
<path d="M95.1 308.4l-1.75 3.03h-3.5l-1.75 -3.03l1.75 -3.03h3.5zM101.1 306.8l-1.75 3.03h-3.5l-1.75 -3.03l1.75 -3.03h3.5zM106.7 307.2l-1.75 3.03h-3.5l-1.75 -3.03l1.75 -3.03h3.5zM112.5 308.6l-1.75 3.03h-3.5l-1.75 -3.03l1.75 -3.03h3.5zM118.5 311l-1.75 3.03h-3.5l-1.75 -3.03l1.75 -3.03h3.5zM124.1 312.2l-1.75 3.03h-3.5l-1.75 -3.03l1.75 -3.03h3.5zM129.9 312.6l-1.75 3.03h-3.5l-1.75 -3.03l1.75 -3.03h3.5zM135.5 311.4l-1.75 3.03h-3.5l-1.75 -3.03l1.75 -3.03h3.5zM141.3 309.2l-1.75 3.03h-3.5l-1.75 -3.03l1.75 -3.03h3.5zM147.1 307.6l-1.75 3.03h-3.5l-1.75 -3.03l1.75 -3.03h3.5zM152.7 308.4l-1.75 3.03h-3.5l-1.75 -3.03l1.75 -3.03h3.5zM158.5 311.6l-1.75 3.03h-3.5l-1.75 -3.03l1.75 -3.03h3.5zM163.9 315l-1.75 3.03h-3.5l-1.75 -3.03l1.75 -3.03h3.5zM169.7 317.6l-1.75 3.03h-3.5l-1.75 -3.03l1.75 -3.03h3.5zM175.5 319.6l-1.75 3.03h-3.5l-1.75 -3.03l1.75 -3.03h3.5zM181.3 321.2l-1.75 3.03h-3.5l-1.75 -3.03l1.75 -3.03h3.5zM187.1 322.2l-1.75 3.03h-3.5l-1.75 -3.03l1.75 -3.03h3.5zM192.7 323.6l-1.75 3.03h-3.5l-1.75 -3.03l1.75 -3.03h3.5zM198.5 328l-1.75 3.03h-3.5l-1.75 -3.03l1.75 -3.03h3.5zM204.3 337.4l-1.75 3.03h-3.5l-1.75 -3.03l1.75 -3.03h3.5zM209.9 351.6l-1.75 3.03h-3.5l-1.75 -3.03l1.75 -3.03h3.5zM215.7 370.4l-1.75 3.03h-3.5l-1.75 -3.03l1.75 -3.03h3.5zM221.3 390.2l-1.75 3.03h-3.5l-1.75 -3.03l1.75 -3.03h3.5zM227.1 409.6l-1.75 3.03h-3.5l-1.75 -3.03l1.75 -3.03h3.5zM232.7 426.4l-1.75 3.03h-3.5l-1.75 -3.03l1.75 -3.03h3.5zM238.5 439l-1.75 3.03h-3.5l-1.75 -3.03l1.75 -3.03h3.5zM244.1 445.6l-1.75 3.03h-3.5l-1.75 -3.03l1.75 -3.03h3.5zM249.9 448.4l-1.75 3.03h-3.5l-1.75 -3.03l1.75 -3.03h3.5zM255.5 450l-1.75 3.03h-3.5l-1.75 -3.03l1.75 -3.03h3.5zM261.1 450.4l-1.75 3.03h-3.5l-1.75 -3.03l1.75 -3.03h3.5zM266.9 448.8l-1.75 3.03h-3.5l-1.75 -3.03l1.75 -3.03h3.5zM272.7 445.6l-1.75 3.03h-3.5l-1.75 -3.03l1.75 -3.03h3.5zM278.3 440.8l-1.75 3.03h-3.5l-1.75 -3.03l1.75 -3.03h3.5zM283.9 431.2l-1.75 3.03h-3.5l-1.75 -3.03l1.75 -3.03h3.5zM289.5 416l-1.75 3.03h-3.5l-1.75 -3.03l1.75 -3.03h3.5zM295.3 395.4l-1.75 3.03h-3.5l-1.75 -3.03l1.75 -3.03h3.5zM300.9 372l-1.75 3.03h-3.5l-1.75 -3.03l1.75 -3.03h3.5zM306.5 353l-1.75 3.03h-3.5l-1.75 -3.03l1.75 -3.03h3.5zM312.3 344.6l-1.75 3.03h-3.5l-1.75 -3.03l1.75 -3.03h3.5zM317.9 342.4l-1.75 3.03h-3.5l-1.75 -3.03l1.75 -3.03h3.5zM323.7 340.4l-1.75 3.03h-3.5l-1.75 -3.03l1.75 -3.03h3.5zM329.5 333.4l-1.75 3.03h-3.5l-1.75 -3.03l1.75 -3.03h3.5zM335.1 328.8l-1.75 3.03h-3.5l-1.75 -3.03l1.75 -3.03h3.5zM340.9 330l-1.75 3.03h-3.5l-1.75 -3.03l1.75 -3.03h3.5zM346.5 327.6l-1.75 3.03h-3.5l-1.75 -3.03l1.75 -3.03h3.5zM352.3 321.6l-1.75 3.03h-3.5l-1.75 -3.03l1.75 -3.03h3.5zM357.9 315.6l-1.75 3.03h-3.5l-1.75 -3.03l1.75 -3.03h3.5zM363.7 312.6l-1.75 3.03h-3.5l-1.75 -3.03l1.75 -3.03h3.5zM369.5 311.8l-1.75 3.03h-3.5l-1.75 -3.03l1.75 -3.03h3.5zM375.1 311l-1.75 3.03h-3.5l-1.75 -3.03l1.75 -3.03h3.5zM380.9 310l-1.75 3.03h-3.5l-1.75 -3.03l1.75 -3.03h3.5zM386.5 310.4l-1.75 3.03h-3.5l-1.75 -3.03l1.75 -3.03h3.5z"/>
</g>
<g clip-path="url(#c3)" fill="none" stroke-width="1" stroke-linejoin="round">
<path stroke="#0000ff" d="M90.41 309.22C90.91 309.2 92.41 309.17 93.41 309.14C94.41 309.12 95.41 309.09 96.41 309.07C97.41 309.04 98.41 309.02 99.41 309C100.42 308.97 101.42 308.95 102.42 308.93C103.42 308.91 104.42 308.89 105.42 308.87C106.42 308.85 107.42 308.83 108.42 308.81C109.42 308.8 110.42 308.78 111.42 308.76C112.42 308.75 113.42 308.73 114.42 308.71C115.43 308.7 116.43 308.69 117.43 308.67C118.43 308.66 119.43 308.65 120.43 308.64C121.43 308.63 122.43 308.63 123.43 308.62C124.43 308.62 125.43 308.61 126.43 308.61C127.44 308.61 128.44 308.61 129.44 308.61C130.44 308.62 131.44 308.62 132.44 308.62C133.44 308.63 134.44 308.64 135.44 308.64C136.44 308.65 137.44 308.66 138.44 308.68C139.45 308.69 140.45 308.7 141.45 308.73C142.45 308.75 143.45 308.77 144.45 308.81C145.45 308.84 146.45 308.88 147.45 308.95C148.44 309.02 149.44 309.11 150.43 309.23C151.43 309.35 152.42 309.49 153.4 309.68C154.38 309.87 155.35 310.1 156.31 310.38C157.27 310.66 158.21 310.99 159.15 311.34C160.08 311.69 161 312.1 161.92 312.49C162.84 312.89 163.75 313.31 164.65 313.74C165.56 314.17 166.46 314.6 167.34 315.06C168.23 315.53 169.11 316.01 169.96 316.53C170.82 317.05 171.65 317.6 172.47 318.17C173.3 318.73 174.11 319.32 174.93 319.89C175.76 320.46 176.57 321.04 177.42 321.57C178.27 322.09 179.14 322.59 180.02 323.06C180.9 323.53 181.81 323.94 182.7 324.4C183.59 324.85 184.5 325.29 185.37 325.78C186.23 326.27 187.1 326.78 187.92 327.34C188.74 327.91 189.53 328.52 190.29 329.17C191.05 329.82 191.76 330.52 192.47 331.23C193.17 331.94 193.85 332.67 194.52 333.42C195.19 334.16 195.86 334.91 196.49 335.68C197.12 336.45 197.74 337.24 198.31 338.06C198.88 338.88 199.4 339.73 199.89 340.61C200.37 341.48 200.8 342.38 201.22 343.29C201.64 344.2 202.02 345.13 202.4 346.05C202.78 346.98 203.15 347.91 203.51 348.84C203.87 349.77 204.23 350.71 204.57 351.65C204.92 352.59 205.25 353.53 205.58 354.48C205.91 355.42 206.23 356.37 206.56 357.32C206.88 358.26 207.21 359.21 207.55 360.15C207.88 361.09 208.22 362.03 208.55 362.98C208.89 363.92 209.22 364.87 209.55 365.81C209.87 366.76 210.19 367.71 210.51 368.66C210.82 369.61 211.12 370.56 211.42 371.52C211.72 372.47 212.01 373.43 212.3 374.39C212.58 375.35 212.86 376.31 213.13 377.27C213.4 378.24 213.66 379.2 213.91 380.17C214.16 381.14 214.39 382.11 214.63 383.09C214.87 384.06 215.11 385.03 215.35 386C215.6 386.97 215.85 387.94 216.11 388.91C216.37 389.87 216.63 390.84 216.9 391.8C217.17 392.77 217.45 393.73 217.71 394.69C217.98 395.66 218.25 396.62 218.51 397.59C218.77 398.56 219.01 399.53 219.26 400.5C219.51 401.46 219.74 402.44 220.01 403.4C220.28 404.36 220.55 405.33 220.88 406.27C221.2 407.22 221.57 408.15 221.96 409.07C222.36 409.98 222.81 410.88 223.24 411.78C223.68 412.68 224.14 413.57 224.57 414.47C225 415.37 225.42 416.28 225.84 417.19C226.26 418.1 226.65 419.02 227.08 419.93C227.5 420.83 227.93 421.74 228.4 422.62C228.86 423.51 229.35 424.38 229.87 425.24C230.38 426.09 230.92 426.94 231.48 427.76C232.04 428.59 232.63 429.41 233.24 430.2C233.85 430.99 234.47 431.77 235.14 432.51C235.81 433.25 236.51 433.98 237.25 434.63C238 435.29 238.79 435.91 239.62 436.44C240.46 436.98 241.34 437.47 242.24 437.87C243.15 438.27 244.1 438.6 245.06 438.87C246.01 439.13 247 439.31 247.99 439.45C248.97 439.58 249.98 439.65 250.97 439.67C251.97 439.69 252.97 439.65 253.96 439.56C254.96 439.48 255.95 439.34 256.93 439.17C257.92 439.01 258.9 438.79 259.88 438.59C260.86 438.38 261.84 438.18 262.81 437.96C263.79 437.74 264.77 437.53 265.73 437.27C266.7 437.01 267.66 436.73 268.6 436.4C269.54 436.07 270.48 435.71 271.39 435.3C272.3 434.9 273.21 434.47 274.08 433.98C274.94 433.48 275.79 432.95 276.58 432.35C277.36 431.74 278.09 431.06 278.8 430.36C279.51 429.65 280.17 428.9 280.82 428.14C281.47 427.38 282.1 426.6 282.7 425.8C283.3 425 283.88 424.18 284.43 423.35C284.98 422.51 285.5 421.66 286 420.79C286.5 419.93 286.97 419.04 287.43 418.16C287.89 417.27 288.34 416.37 288.78 415.47C289.21 414.57 289.64 413.67 290.05 412.75C290.46 411.84 290.87 410.93 291.25 410C291.64 409.08 292.02 408.16 292.39 407.22C292.75 406.29 293.1 405.36 293.44 404.41C293.79 403.47 294.11 402.53 294.43 401.58C294.75 400.63 295.06 399.68 295.36 398.72C295.66 397.77 295.96 396.81 296.25 395.86C296.54 394.9 296.82 393.94 297.1 392.98C297.37 392.01 297.63 391.05 297.89 390.08C298.16 389.12 298.41 388.15 298.68 387.18C298.95 386.22 299.22 385.26 299.5 384.29C299.77 383.33 300.06 382.37 300.34 381.41C300.63 380.45 300.91 379.5 301.2 378.54C301.49 377.58 301.78 376.62 302.06 375.66C302.35 374.7 302.64 373.74 302.93 372.79C303.22 371.83 303.51 370.87 303.8 369.91C304.09 368.95 304.38 368 304.67 367.04C304.96 366.08 305.25 365.12 305.54 364.16C305.83 363.21 306.12 362.25 306.41 361.29C306.71 360.33 307 359.38 307.29 358.42C307.58 357.46 307.87 356.51 308.17 355.55C308.46 354.59 308.76 353.64 309.05 352.68C309.35 351.72 309.65 350.77 309.95 349.81C310.25 348.86 310.56 347.91 310.86 346.95C311.17 346 311.48 345.05 311.79 344.1C312.09 343.14 312.4 342.19 312.71 341.24C313.02 340.29 313.32 339.33 313.64 338.38C313.96 337.44 314.27 336.49 314.61 335.54C314.94 334.6 315.28 333.66 315.64 332.72C316 331.79 316.37 330.86 316.76 329.94C317.14 329.01 317.54 328.1 317.96 327.19C318.38 326.28 318.82 325.38 319.28 324.49C319.75 323.61 320.23 322.73 320.75 321.88C321.27 321.03 321.82 320.18 322.41 319.38C322.99 318.57 323.61 317.78 324.29 317.05C324.96 316.33 325.69 315.63 326.47 315.02C327.24 314.4 328.08 313.84 328.94 313.36C329.81 312.87 330.72 312.45 331.65 312.11C332.58 311.77 333.56 311.53 334.53 311.31C335.5 311.09 336.49 310.95 337.48 310.8C338.47 310.66 339.47 310.55 340.46 310.45C341.46 310.35 342.46 310.27 343.45 310.2C344.45 310.12 345.45 310.06 346.45 310.01C347.45 309.95 348.45 309.91 349.45 309.87C350.45 309.83 351.45 309.8 352.45 309.77C353.45 309.74 354.45 309.72 355.45 309.7C356.45 309.68 357.45 309.66 358.45 309.64C359.46 309.63 360.46 309.61 361.46 309.6C362.46 309.59 363.46 309.58 364.46 309.58C365.46 309.58 366.46 309.58 367.46 309.58C368.46 309.58 369.46 309.58 370.46 309.58C371.47 309.58 372.47 309.59 373.47 309.59C374.47 309.59 375.47 309.59 376.47 309.59C377.47 309.59 378.47 309.59 379.47 309.59C380.47 309.59 381.72 309.59 382.47 309.59C383.23 309.59 383.73 309.59 383.98 309.59"/>
<path stroke="#00ff00" d="M90.41 309.7C90.91 309.69 92.41 309.65 93.41 309.62C94.41 309.6 95.41 309.58 96.41 309.55C97.42 309.53 98.42 309.5 99.42 309.48C100.42 309.46 101.42 309.43 102.42 309.41C103.42 309.39 104.42 309.37 105.42 309.35C106.42 309.33 107.42 309.31 108.42 309.3C109.43 309.28 110.43 309.26 111.43 309.24C112.43 309.23 113.43 309.21 114.43 309.2C115.43 309.18 116.43 309.17 117.43 309.15C118.43 309.14 119.44 309.13 120.44 309.12C121.44 309.11 122.44 309.11 123.44 309.1C124.44 309.1 125.44 309.09 126.44 309.09C127.44 309.09 128.44 309.09 129.45 309.09C130.45 309.09 131.45 309.1 132.45 309.1C133.45 309.1 134.45 309.11 135.45 309.12C136.45 309.13 137.45 309.14 138.46 309.15C139.46 309.17 140.46 309.18 141.46 309.21C142.46 309.23 143.46 309.26 144.46 309.31C145.46 309.35 146.46 309.41 147.46 309.49C148.45 309.58 149.45 309.68 150.44 309.83C151.42 309.98 152.41 310.15 153.38 310.38C154.36 310.61 155.32 310.88 156.27 311.19C157.22 311.5 158.15 311.87 159.07 312.26C159.99 312.64 160.9 313.07 161.81 313.49C162.71 313.91 163.62 314.34 164.52 314.78C165.42 315.22 166.32 315.66 167.2 316.13C168.08 316.61 168.95 317.1 169.79 317.64C170.63 318.17 171.45 318.76 172.26 319.34C173.07 319.93 173.85 320.56 174.65 321.16C175.45 321.76 176.23 322.38 177.05 322.95C177.87 323.53 178.71 324.07 179.57 324.59C180.42 325.1 181.32 325.56 182.18 326.06C183.05 326.56 183.92 327.05 184.76 327.6C185.59 328.15 186.41 328.72 187.19 329.34C187.97 329.97 188.71 330.64 189.43 331.33C190.14 332.03 190.8 332.79 191.47 333.53C192.15 334.26 192.8 335.02 193.47 335.76C194.15 336.49 194.88 337.18 195.52 337.94C196.17 338.69 196.78 339.48 197.34 340.3C197.89 341.12 198.37 342.01 198.85 342.88C199.33 343.76 199.79 344.65 200.23 345.55C200.67 346.45 201.11 347.35 201.51 348.27C201.91 349.18 202.29 350.11 202.64 351.04C203 351.98 203.31 352.93 203.62 353.88C203.94 354.83 204.22 355.79 204.53 356.74C204.83 357.7 205.13 358.65 205.45 359.6C205.76 360.55 206.08 361.5 206.4 362.45C206.71 363.4 207.04 364.35 207.34 365.3C207.65 366.25 207.96 367.21 208.25 368.16C208.54 369.12 208.82 370.08 209.09 371.05C209.36 372.01 209.62 372.98 209.88 373.95C210.13 374.91 210.39 375.88 210.64 376.85C210.9 377.82 211.16 378.78 211.42 379.75C211.68 380.72 211.94 381.68 212.2 382.65C212.46 383.62 212.72 384.58 212.99 385.55C213.25 386.52 213.51 387.48 213.78 388.45C214.04 389.41 214.31 390.38 214.57 391.34C214.84 392.31 215.11 393.27 215.38 394.24C215.65 395.2 215.92 396.16 216.2 397.13C216.47 398.09 216.75 399.05 217.03 400.01C217.31 400.97 217.59 401.93 217.88 402.89C218.17 403.85 218.47 404.8 218.78 405.76C219.08 406.71 219.4 407.66 219.72 408.61C220.05 409.55 220.38 410.5 220.72 411.44C221.06 412.38 221.4 413.32 221.75 414.26C222.1 415.2 222.46 416.13 222.82 417.07C223.18 418 223.55 418.93 223.93 419.85C224.32 420.78 224.71 421.7 225.11 422.62C225.52 423.53 225.94 424.44 226.36 425.35C226.79 426.25 227.23 427.15 227.68 428.05C228.13 428.94 228.59 429.83 229.09 430.69C229.59 431.56 230.11 432.42 230.67 433.24C231.23 434.07 231.82 434.88 232.45 435.65C233.09 436.42 233.75 437.17 234.46 437.87C235.17 438.57 235.92 439.24 236.71 439.84C237.5 440.44 238.34 441 239.21 441.47C240.08 441.94 241 442.34 241.94 442.66C242.88 442.98 243.86 443.2 244.84 443.4C245.81 443.59 246.81 443.73 247.8 443.84C248.79 443.95 249.8 444.02 250.79 444.04C251.79 444.06 252.79 444.02 253.79 443.95C254.78 443.87 255.77 443.72 256.77 443.6C257.76 443.48 258.75 443.34 259.74 443.21C260.74 443.09 261.73 442.99 262.72 442.85C263.71 442.71 264.71 442.57 265.69 442.39C266.67 442.21 267.66 442.01 268.62 441.75C269.58 441.49 270.53 441.18 271.46 440.82C272.39 440.46 273.3 440.03 274.18 439.57C275.06 439.1 275.92 438.59 276.75 438.03C277.57 437.47 278.35 436.83 279.13 436.21C279.91 435.59 280.68 434.95 281.43 434.3C282.17 433.66 282.95 433.05 283.61 432.33C284.27 431.6 284.84 430.78 285.39 429.96C285.94 429.13 286.43 428.25 286.92 427.38C287.42 426.51 287.9 425.63 288.37 424.75C288.84 423.87 289.3 422.98 289.75 422.08C290.2 421.19 290.63 420.29 291.06 419.38C291.48 418.47 291.9 417.56 292.3 416.64C292.7 415.73 293.09 414.81 293.46 413.88C293.83 412.95 294.19 412.01 294.53 411.07C294.86 410.13 295.18 409.18 295.49 408.23C295.79 407.27 296.08 406.31 296.36 405.35C296.65 404.39 296.92 403.43 297.19 402.47C297.46 401.5 297.73 400.54 298 399.57C298.26 398.61 298.52 397.64 298.78 396.67C299.03 395.71 299.28 394.74 299.53 393.77C299.78 392.8 300.02 391.83 300.27 390.86C300.52 389.89 300.78 388.92 301.03 387.95C301.29 386.98 301.54 386.01 301.8 385.05C302.06 384.08 302.32 383.11 302.59 382.15C302.86 381.19 303.14 380.22 303.42 379.26C303.7 378.3 303.98 377.34 304.27 376.38C304.56 375.43 304.85 374.47 305.15 373.51C305.44 372.55 305.74 371.6 306.04 370.64C306.33 369.69 306.63 368.73 306.93 367.78C307.23 366.82 307.53 365.86 307.83 364.91C308.13 363.95 308.43 363 308.73 362.04C309.03 361.09 309.33 360.13 309.63 359.18C309.93 358.22 310.23 357.27 310.53 356.31C310.82 355.36 311.12 354.4 311.42 353.45C311.72 352.49 312.01 351.53 312.31 350.58C312.61 349.62 312.91 348.67 313.22 347.72C313.53 346.76 313.84 345.81 314.15 344.86C314.47 343.91 314.79 342.96 315.11 342.02C315.44 341.07 315.76 340.12 316.1 339.18C316.43 338.24 316.77 337.29 317.12 336.36C317.47 335.42 317.83 334.48 318.2 333.55C318.57 332.62 318.94 331.69 319.33 330.77C319.73 329.85 320.12 328.93 320.55 328.03C320.97 327.12 321.41 326.22 321.89 325.34C322.36 324.46 322.86 323.59 323.38 322.74C323.91 321.89 324.46 321.05 325.04 320.24C325.63 319.44 326.23 318.63 326.9 317.9C327.57 317.16 328.29 316.46 329.06 315.83C329.83 315.21 330.66 314.65 331.52 314.15C332.38 313.65 333.28 313.22 334.21 312.85C335.13 312.48 336.09 312.2 337.06 311.95C338.02 311.7 339.01 311.52 339.99 311.35C340.98 311.19 341.97 311.06 342.97 310.95C343.96 310.83 344.96 310.73 345.96 310.64C346.95 310.55 347.95 310.48 348.95 310.41C349.95 310.34 350.95 310.28 351.95 310.24C352.95 310.19 353.95 310.16 354.95 310.13C355.95 310.1 356.95 310.08 357.95 310.06C358.95 310.04 359.95 310.02 360.95 310.01C361.95 309.99 362.96 309.98 363.96 309.96C364.96 309.95 365.96 309.93 366.96 309.91C367.96 309.9 368.96 309.88 369.96 309.87C370.96 309.86 371.96 309.85 372.96 309.84C373.97 309.84 374.97 309.84 375.97 309.84C376.97 309.85 377.97 309.86 378.97 309.88C379.97 309.89 381.14 309.91 381.97 309.92C382.81 309.93 383.64 309.95 383.98 309.95"/>
<path stroke="#ff0000" d="M90.41 310.42C90.91 310.41 92.41 310.37 93.41 310.35C94.41 310.32 95.41 310.3 96.41 310.27C97.41 310.25 98.41 310.23 99.41 310.2C100.41 310.18 101.41 310.16 102.41 310.13C103.41 310.11 104.42 310.09 105.42 310.07C106.42 310.05 107.42 310.04 108.42 310.02C109.42 310 110.42 309.98 111.42 309.96C112.42 309.95 113.42 309.93 114.42 309.91C115.42 309.9 116.42 309.88 117.42 309.87C118.42 309.86 119.42 309.85 120.42 309.84C121.42 309.83 122.42 309.83 123.43 309.82C124.43 309.82 125.43 309.82 126.43 309.82C127.43 309.83 128.43 309.83 129.43 309.84C130.43 309.84 131.43 309.85 132.43 309.86C133.43 309.87 134.43 309.88 135.43 309.9C136.43 309.91 137.43 309.93 138.43 309.95C139.43 309.98 140.44 310 141.43 310.04C142.43 310.08 143.43 310.12 144.43 310.19C145.43 310.26 146.43 310.34 147.42 310.46C148.41 310.57 149.4 310.72 150.38 310.91C151.36 311.09 152.34 311.32 153.3 311.59C154.26 311.87 155.21 312.19 156.14 312.55C157.07 312.91 157.98 313.32 158.89 313.75C159.79 314.17 160.67 314.64 161.56 315.11C162.44 315.58 163.31 316.07 164.18 316.56C165.05 317.06 165.92 317.56 166.78 318.08C167.63 318.6 168.48 319.13 169.31 319.69C170.14 320.24 170.96 320.82 171.76 321.41C172.57 322 173.36 322.62 174.15 323.23C174.95 323.83 175.73 324.46 176.53 325.06C177.32 325.67 178.12 326.28 178.92 326.87C179.73 327.47 180.55 328.04 181.35 328.64C182.15 329.25 182.95 329.84 183.71 330.49C184.48 331.13 185.21 331.81 185.93 332.5C186.65 333.19 187.34 333.92 188.05 334.62C188.77 335.32 189.51 335.99 190.23 336.69C190.94 337.38 191.67 338.06 192.33 338.81C192.98 339.56 193.57 340.37 194.14 341.18C194.71 342 195.24 342.86 195.76 343.71C196.29 344.56 196.79 345.42 197.28 346.3C197.76 347.17 198.24 348.05 198.68 348.95C199.12 349.85 199.54 350.76 199.94 351.67C200.33 352.59 200.69 353.53 201.04 354.46C201.39 355.4 201.72 356.35 202.04 357.29C202.37 358.24 202.69 359.19 202.99 360.14C203.3 361.09 203.6 362.05 203.89 363.01C204.18 363.96 204.45 364.93 204.73 365.89C205 366.85 205.28 367.81 205.55 368.78C205.82 369.74 206.09 370.7 206.35 371.67C206.62 372.63 206.88 373.6 207.14 374.56C207.4 375.53 207.65 376.5 207.9 377.47C208.15 378.44 208.4 379.41 208.64 380.38C208.88 381.35 209.12 382.32 209.36 383.29C209.6 384.26 209.84 385.24 210.09 386.2C210.34 387.17 210.61 388.14 210.88 389.1C211.15 390.06 211.44 391.02 211.72 391.98C212.01 392.94 212.3 393.9 212.59 394.85C212.88 395.81 213.17 396.77 213.46 397.73C213.75 398.68 214.03 399.64 214.32 400.6C214.61 401.56 214.89 402.52 215.18 403.48C215.47 404.44 215.77 405.39 216.07 406.35C216.37 407.3 216.67 408.25 216.98 409.21C217.29 410.16 217.6 411.11 217.91 412.06C218.22 413.01 218.54 413.96 218.86 414.91C219.17 415.86 219.49 416.81 219.82 417.75C220.15 418.7 220.48 419.64 220.82 420.58C221.17 421.52 221.51 422.46 221.88 423.39C222.24 424.33 222.61 425.25 223 426.17C223.39 427.1 223.8 428.01 224.22 428.92C224.64 429.83 225.07 430.73 225.52 431.62C225.97 432.51 226.44 433.4 226.94 434.26C227.44 435.13 227.97 435.98 228.54 436.8C229.11 437.62 229.71 438.42 230.34 439.19C230.98 439.96 231.64 440.71 232.35 441.41C233.06 442.12 233.8 442.79 234.58 443.41C235.36 444.03 236.17 444.61 237.02 445.13C237.87 445.65 238.76 446.11 239.67 446.51C240.58 446.92 241.53 447.25 242.48 447.54C243.43 447.83 244.41 448.06 245.39 448.26C246.37 448.45 247.36 448.59 248.35 448.69C249.34 448.79 250.34 448.84 251.34 448.86C252.34 448.87 253.34 448.81 254.34 448.77C255.34 448.73 256.33 448.65 257.33 448.6C258.33 448.55 259.33 448.53 260.33 448.47C261.33 448.41 262.33 448.37 263.32 448.26C264.31 448.15 265.3 448 266.28 447.81C267.26 447.61 268.24 447.38 269.2 447.1C270.16 446.83 271.11 446.52 272.04 446.17C272.97 445.81 273.9 445.43 274.79 444.98C275.68 444.53 276.54 444.01 277.37 443.48C278.21 442.94 279.02 442.34 279.82 441.75C280.63 441.16 281.46 440.59 282.2 439.94C282.95 439.29 283.66 438.59 284.3 437.84C284.95 437.09 285.51 436.25 286.06 435.42C286.61 434.59 287.13 433.73 287.62 432.86C288.12 431.99 288.59 431.11 289.03 430.21C289.47 429.32 289.89 428.4 290.28 427.49C290.68 426.57 291.05 425.64 291.41 424.71C291.78 423.78 292.13 422.84 292.49 421.9C292.85 420.97 293.2 420.03 293.56 419.1C293.91 418.16 294.27 417.23 294.63 416.29C294.98 415.36 295.34 414.42 295.68 413.48C296.03 412.55 296.38 411.61 296.72 410.67C297.07 409.73 297.41 408.79 297.75 407.85C298.08 406.9 298.42 405.96 298.75 405.02C299.08 404.07 299.42 403.13 299.74 402.18C300.06 401.23 300.38 400.29 300.69 399.34C301 398.38 301.3 397.43 301.59 396.47C301.88 395.51 302.16 394.55 302.44 393.59C302.71 392.63 302.97 391.66 303.23 390.7C303.49 389.73 303.74 388.76 303.99 387.79C304.24 386.82 304.49 385.85 304.73 384.88C304.97 383.91 305.2 382.94 305.43 381.96C305.66 380.99 305.89 380.02 306.14 379.05C306.38 378.08 306.64 377.11 306.9 376.14C307.16 375.18 307.43 374.21 307.7 373.25C307.97 372.29 308.24 371.32 308.52 370.36C308.8 369.4 309.07 368.44 309.35 367.48C309.63 366.52 309.91 365.56 310.2 364.6C310.48 363.64 310.76 362.68 311.05 361.72C311.34 360.76 311.63 359.8 311.93 358.85C312.22 357.89 312.52 356.94 312.83 355.99C313.14 355.04 313.46 354.09 313.79 353.14C314.12 352.2 314.47 351.26 314.83 350.32C315.18 349.39 315.55 348.46 315.91 347.53C316.28 346.6 316.65 345.66 317.01 344.73C317.37 343.8 317.73 342.87 318.1 341.93C318.46 341 318.82 340.07 319.19 339.14C319.56 338.21 319.94 337.28 320.32 336.36C320.71 335.43 321.1 334.51 321.5 333.59C321.9 332.68 322.3 331.76 322.72 330.86C323.15 329.95 323.58 329.05 324.06 328.17C324.53 327.29 325.03 326.42 325.56 325.58C326.09 324.73 326.66 323.91 327.26 323.11C327.85 322.31 328.48 321.52 329.14 320.78C329.81 320.03 330.51 319.32 331.24 318.65C331.98 317.98 332.76 317.35 333.57 316.76C334.38 316.18 335.22 315.64 336.09 315.16C336.96 314.68 337.88 314.27 338.8 313.9C339.73 313.53 340.68 313.22 341.64 312.94C342.6 312.66 343.57 312.43 344.55 312.23C345.53 312.02 346.52 311.86 347.51 311.72C348.49 311.57 349.49 311.47 350.49 311.36C351.48 311.26 352.48 311.19 353.48 311.11C354.47 311.04 355.47 310.97 356.47 310.91C357.47 310.85 358.47 310.8 359.47 310.75C360.47 310.7 361.47 310.65 362.47 310.61C363.47 310.57 364.47 310.53 365.47 310.49C366.47 310.46 367.47 310.43 368.47 310.4C369.47 310.38 370.47 310.36 371.47 310.34C372.47 310.33 373.47 310.32 374.47 310.32C375.47 310.32 376.47 310.32 377.47 310.33C378.47 310.34 379.47 310.36 380.47 310.37C381.47 310.39 382.89 310.41 383.48 310.42C384.06 310.43 383.89 310.43 383.98 310.43"/>
</g>
<g fill="#000">
<path d="M501.9 307.6l-1.75 3.03h-3.5l-1.75 -3.03l1.75 -3.03h3.5zM507.5 308.4l-1.75 3.03h-3.5l-1.75 -3.03l1.75 -3.03h3.5zM513.3 309.2l-1.75 3.03h-3.5l-1.75 -3.03l1.75 -3.03h3.5zM519.1 310l-1.75 3.03h-3.5l-1.75 -3.03l1.75 -3.03h3.5zM524.9 312.8l-1.75 3.03h-3.5l-1.75 -3.03l1.75 -3.03h3.5zM530.5 315.6l-1.75 3.03h-3.5l-1.75 -3.03l1.75 -3.03h3.5zM536.3 317.4l-1.75 3.03h-3.5l-1.75 -3.03l1.75 -3.03h3.5zM541.9 316.4l-1.75 3.03h-3.5l-1.75 -3.03l1.75 -3.03h3.5zM547.7 314.4l-1.75 3.03h-3.5l-1.75 -3.03l1.75 -3.03h3.5zM553.5 313.6l-1.75 3.03h-3.5l-1.75 -3.03l1.75 -3.03h3.5zM559.1 316l-1.75 3.03h-3.5l-1.75 -3.03l1.75 -3.03h3.5zM564.9 320.6l-1.75 3.03h-3.5l-1.75 -3.03l1.75 -3.03h3.5zM570.7 325l-1.75 3.03h-3.5l-1.75 -3.03l1.75 -3.03h3.5zM576.3 329.6l-1.75 3.03h-3.5l-1.75 -3.03l1.75 -3.03h3.5zM582.1 334.8l-1.75 3.03h-3.5l-1.75 -3.03l1.75 -3.03h3.5zM587.9 340.8l-1.75 3.03h-3.5l-1.75 -3.03l1.75 -3.03h3.5zM593.5 347.4l-1.75 3.03h-3.5l-1.75 -3.03l1.75 -3.03h3.5zM599.3 355l-1.75 3.03h-3.5l-1.75 -3.03l1.75 -3.03h3.5zM605.1 364l-1.75 3.03h-3.5l-1.75 -3.03l1.75 -3.03h3.5zM610.7 374l-1.75 3.03h-3.5l-1.75 -3.03l1.75 -3.03h3.5zM616.5 383.2l-1.75 3.03h-3.5l-1.75 -3.03l1.75 -3.03h3.5zM622.3 390.6l-1.75 3.03h-3.5l-1.75 -3.03l1.75 -3.03h3.5zM628.1 397.6l-1.75 3.03h-3.5l-1.75 -3.03l1.75 -3.03h3.5zM633.7 407l-1.75 3.03h-3.5l-1.75 -3.03l1.75 -3.03h3.5zM639.5 416.6l-1.75 3.03h-3.5l-1.75 -3.03l1.75 -3.03h3.5zM645.1 424.6l-1.75 3.03h-3.5l-1.75 -3.03l1.75 -3.03h3.5zM650.9 430l-1.75 3.03h-3.5l-1.75 -3.03l1.75 -3.03h3.5zM656.5 432.4l-1.75 3.03h-3.5l-1.75 -3.03l1.75 -3.03h3.5zM662.3 431l-1.75 3.03h-3.5l-1.75 -3.03l1.75 -3.03h3.5zM667.9 430l-1.75 3.03h-3.5l-1.75 -3.03l1.75 -3.03h3.5zM673.7 428.6l-1.75 3.03h-3.5l-1.75 -3.03l1.75 -3.03h3.5zM679.5 424.4l-1.75 3.03h-3.5l-1.75 -3.03l1.75 -3.03h3.5zM685.1 419l-1.75 3.03h-3.5l-1.75 -3.03l1.75 -3.03h3.5zM690.9 411.6l-1.75 3.03h-3.5l-1.75 -3.03l1.75 -3.03h3.5zM696.5 401.4l-1.75 3.03h-3.5l-1.75 -3.03l1.75 -3.03h3.5zM702.3 390.6l-1.75 3.03h-3.5l-1.75 -3.03l1.75 -3.03h3.5zM707.9 381.2l-1.75 3.03h-3.5l-1.75 -3.03l1.75 -3.03h3.5zM713.7 372.4l-1.75 3.03h-3.5l-1.75 -3.03l1.75 -3.03h3.5zM719.3 363.4l-1.75 3.03h-3.5l-1.75 -3.03l1.75 -3.03h3.5zM725.1 354.4l-1.75 3.03h-3.5l-1.75 -3.03l1.75 -3.03h3.5zM730.7 345l-1.75 3.03h-3.5l-1.75 -3.03l1.75 -3.03h3.5zM736.5 336.4l-1.75 3.03h-3.5l-1.75 -3.03l1.75 -3.03h3.5zM742.1 328.8l-1.75 3.03h-3.5l-1.75 -3.03l1.75 -3.03h3.5zM747.9 323.2l-1.75 3.03h-3.5l-1.75 -3.03l1.75 -3.03h3.5zM753.5 318.8l-1.75 3.03h-3.5l-1.75 -3.03l1.75 -3.03h3.5zM759.3 314.4l-1.75 3.03h-3.5l-1.75 -3.03l1.75 -3.03h3.5zM765.1 311l-1.75 3.03h-3.5l-1.75 -3.03l1.75 -3.03h3.5zM770.9 308.6l-1.75 3.03h-3.5l-1.75 -3.03l1.75 -3.03h3.5zM776.5 309l-1.75 3.03h-3.5l-1.75 -3.03l1.75 -3.03h3.5zM782.3 310l-1.75 3.03h-3.5l-1.75 -3.03l1.75 -3.03h3.5zM788.5 313.6l-1.75 3.03h-3.5l-1.75 -3.03l1.75 -3.03h3.5z"/>
</g>
<g clip-path="url(#c4)" fill="none" stroke-width="1" stroke-linejoin="round">
<path stroke="#0000ff" d="M493.01 309.46C493.51 309.45 495.01 309.41 496.01 309.39C497.01 309.37 498.01 309.34 499.01 309.32C500.01 309.3 501.01 309.28 502.01 309.26C503.01 309.25 504.01 309.24 505.01 309.23C506.01 309.23 507.01 309.22 508.01 309.23C509.01 309.23 510.01 309.24 511.01 309.26C512.01 309.27 513.01 309.29 514.01 309.31C515.01 309.33 516.01 309.35 517.01 309.38C518.01 309.41 519.01 309.44 520.01 309.47C521.01 309.5 522.01 309.53 523.01 309.57C524 309.61 525 309.65 526 309.7C527 309.75 528 309.81 529 309.87C530 309.93 530.99 310 531.99 310.08C532.99 310.15 533.98 310.24 534.98 310.34C535.97 310.43 536.97 310.54 537.96 310.66C538.95 310.78 539.95 310.9 540.94 311.04C541.93 311.19 542.91 311.34 543.9 311.51C544.88 311.68 545.87 311.86 546.85 312.06C547.82 312.27 548.8 312.48 549.77 312.73C550.74 312.97 551.7 313.24 552.66 313.53C553.61 313.82 554.56 314.14 555.5 314.47C556.44 314.81 557.38 315.16 558.3 315.54C559.23 315.92 560.14 316.32 561.04 316.75C561.95 317.18 562.83 317.64 563.71 318.12C564.58 318.6 565.44 319.11 566.29 319.64C567.14 320.17 567.97 320.72 568.79 321.29C569.62 321.85 570.43 322.44 571.23 323.04C572.03 323.64 572.82 324.25 573.59 324.89C574.36 325.52 575.11 326.18 575.84 326.86C576.58 327.54 577.28 328.24 577.98 328.96C578.67 329.68 579.34 330.43 580 331.18C580.65 331.93 581.3 332.69 581.92 333.48C582.54 334.26 583.13 335.06 583.69 335.88C584.26 336.7 584.77 337.55 585.32 338.39C585.87 339.22 586.41 340.05 586.98 340.87C587.55 341.69 588.15 342.5 588.73 343.31C589.32 344.11 589.92 344.92 590.51 345.73C591.1 346.53 591.69 347.34 592.27 348.15C592.86 348.96 593.44 349.78 594.02 350.59C594.6 351.41 595.18 352.22 595.75 353.04C596.33 353.86 596.9 354.67 597.48 355.49C598.05 356.31 598.63 357.13 599.21 357.95C599.78 358.76 600.36 359.58 600.93 360.4C601.51 361.22 602.09 362.03 602.66 362.85C603.24 363.67 603.82 364.48 604.39 365.3C604.97 366.12 605.55 366.93 606.12 367.75C606.7 368.57 607.28 369.39 607.85 370.2C608.43 371.02 609.01 371.84 609.58 372.65C610.16 373.47 610.74 374.29 611.31 375.1C611.89 375.92 612.47 376.74 613.04 377.56C613.62 378.37 614.19 379.19 614.76 380.01C615.33 380.84 615.9 381.66 616.47 382.48C617.04 383.31 617.6 384.13 618.18 384.95C618.75 385.77 619.33 386.58 619.92 387.39C620.52 388.19 621.13 388.98 621.75 389.76C622.38 390.54 623.03 391.3 623.68 392.06C624.34 392.81 625.01 393.55 625.68 394.29C626.35 395.03 627.03 395.77 627.7 396.51C628.36 397.26 629.02 398.01 629.66 398.78C630.31 399.54 630.94 400.32 631.57 401.1C632.19 401.87 632.81 402.66 633.44 403.44C634.06 404.22 634.69 405 635.33 405.77C635.96 406.54 636.61 407.3 637.26 408.06C637.92 408.82 638.58 409.57 639.24 410.31C639.91 411.06 640.58 411.8 641.25 412.55C641.92 413.29 642.59 414.03 643.26 414.77C643.94 415.51 644.61 416.25 645.3 416.97C645.98 417.7 646.67 418.43 647.38 419.13C648.09 419.83 648.8 420.54 649.55 421.19C650.3 421.85 651.07 422.49 651.88 423.05C652.7 423.62 653.55 424.15 654.43 424.59C655.31 425.04 656.24 425.43 657.18 425.7C658.11 425.97 659.1 426.15 660.07 426.2C661.04 426.25 662.03 426.17 663 426C663.96 425.84 664.92 425.54 665.85 425.2C666.77 424.85 667.67 424.41 668.53 423.93C669.4 423.44 670.23 422.89 671.03 422.3C671.84 421.71 672.6 421.07 673.35 420.41C674.1 419.75 674.81 419.05 675.52 418.34C676.22 417.64 676.91 416.91 677.59 416.17C678.26 415.44 678.92 414.69 679.58 413.93C680.24 413.18 680.88 412.41 681.54 411.66C682.19 410.9 682.84 410.15 683.5 409.39C684.16 408.64 684.83 407.9 685.47 407.13C686.11 406.37 686.75 405.6 687.35 404.8C687.96 404.01 688.53 403.19 689.09 402.36C689.66 401.54 690.21 400.7 690.76 399.87C691.31 399.03 691.86 398.2 692.41 397.36C692.96 396.53 693.52 395.7 694.07 394.87C694.63 394.04 695.19 393.21 695.75 392.38C696.31 391.55 696.87 390.72 697.43 389.89C697.98 389.06 698.54 388.23 699.09 387.4C699.65 386.56 700.19 385.73 700.74 384.89C701.29 384.06 701.84 383.22 702.39 382.38C702.93 381.54 703.48 380.71 704.03 379.87C704.58 379.04 705.13 378.2 705.69 377.37C706.24 376.54 706.8 375.71 707.35 374.88C707.91 374.04 708.47 373.21 709.02 372.38C709.57 371.55 710.12 370.71 710.67 369.88C711.22 369.04 711.76 368.2 712.31 367.36C712.85 366.52 713.39 365.68 713.93 364.84C714.47 364 715.01 363.16 715.55 362.31C716.09 361.47 716.62 360.63 717.16 359.78C717.7 358.94 718.23 358.09 718.76 357.25C719.3 356.4 719.83 355.56 720.38 354.72C720.92 353.88 721.47 353.04 722.02 352.21C722.58 351.38 723.14 350.55 723.71 349.73C724.28 348.91 724.86 348.09 725.44 347.28C726.01 346.46 726.6 345.65 727.18 344.83C727.76 344.02 728.34 343.21 728.93 342.4C729.51 341.58 730.1 340.77 730.68 339.96C731.27 339.15 731.85 338.34 732.44 337.53C733.03 336.72 733.62 335.91 734.21 335.11C734.81 334.31 735.41 333.51 736.01 332.71C736.62 331.92 737.23 331.13 737.85 330.34C738.48 329.56 739.1 328.78 739.75 328.02C740.39 327.25 741.04 326.5 741.72 325.76C742.4 325.02 743.09 324.3 743.8 323.6C744.51 322.91 745.25 322.23 746.01 321.58C746.76 320.92 747.54 320.29 748.33 319.68C749.11 319.07 749.91 318.47 750.73 317.89C751.55 317.32 752.38 316.76 753.23 316.24C754.08 315.72 754.95 315.23 755.84 314.77C756.72 314.31 757.63 313.88 758.54 313.49C759.46 313.09 760.39 312.72 761.33 312.38C762.27 312.04 763.22 311.73 764.18 311.46C765.14 311.19 766.11 310.95 767.09 310.75C768.06 310.55 769.05 310.38 770.04 310.24C771.03 310.1 772.02 310 773.02 309.91C774.01 309.82 775.01 309.76 776.01 309.7C777 309.64 778 309.6 779 309.57C780 309.54 781 309.53 782 309.53C783 309.53 784.25 309.56 785 309.57C785.75 309.58 786.25 309.59 786.5 309.6"/>
<path stroke="#00ff00" d="M493.01 309.82C493.51 309.81 495.01 309.77 496.01 309.74C497.01 309.72 498.01 309.69 499.01 309.67C500.01 309.65 501.01 309.63 502.01 309.61C503.01 309.6 504.01 309.58 505.02 309.58C506.02 309.58 507.02 309.58 508.02 309.59C509.02 309.6 510.02 309.62 511.02 309.65C512.02 309.67 513.02 309.7 514.02 309.73C515.02 309.76 516.02 309.8 517.02 309.84C518.02 309.88 519.02 309.92 520.02 309.97C521.02 310.01 522.01 310.06 523.01 310.12C524.01 310.18 525.01 310.24 526.01 310.31C527.01 310.38 528 310.45 529 310.54C530 310.63 530.99 310.72 531.99 310.83C532.98 310.94 533.98 311.05 534.97 311.19C535.96 311.32 536.95 311.46 537.94 311.62C538.93 311.77 539.91 311.94 540.89 312.13C541.88 312.31 542.86 312.51 543.83 312.73C544.81 312.95 545.78 313.18 546.75 313.43C547.72 313.68 548.69 313.94 549.64 314.23C550.6 314.51 551.55 314.82 552.49 315.16C553.43 315.49 554.37 315.85 555.29 316.24C556.21 316.62 557.12 317.04 558.02 317.47C558.92 317.9 559.81 318.36 560.69 318.85C561.56 319.33 562.42 319.84 563.27 320.37C564.12 320.9 564.95 321.45 565.77 322.02C566.59 322.59 567.4 323.18 568.2 323.78C569 324.39 569.78 325.01 570.55 325.64C571.33 326.28 572.09 326.93 572.84 327.59C573.58 328.25 574.32 328.93 575.04 329.62C575.77 330.31 576.48 331.02 577.17 331.73C577.87 332.45 578.55 333.18 579.22 333.92C579.89 334.66 580.56 335.41 581.19 336.18C581.82 336.96 582.44 337.74 582.99 338.57C583.54 339.39 584.01 340.26 584.5 341.12C584.99 341.99 585.42 342.88 585.93 343.74C586.44 344.59 586.99 345.43 587.54 346.26C588.1 347.08 588.69 347.89 589.26 348.71C589.84 349.53 590.43 350.34 591 351.16C591.58 351.97 592.16 352.79 592.73 353.61C593.3 354.44 593.86 355.26 594.43 356.09C595 356.91 595.56 357.74 596.12 358.57C596.68 359.39 597.25 360.22 597.81 361.05C598.37 361.88 598.93 362.7 599.5 363.53C600.06 364.35 600.63 365.18 601.2 366C601.76 366.83 602.33 367.65 602.9 368.48C603.46 369.3 604.03 370.13 604.6 370.95C605.17 371.77 605.74 372.59 606.31 373.42C606.88 374.24 607.45 375.06 608.03 375.88C608.6 376.7 609.18 377.51 609.76 378.33C610.33 379.15 610.91 379.97 611.49 380.78C612.07 381.6 612.64 382.42 613.22 383.23C613.8 384.05 614.38 384.87 614.95 385.68C615.53 386.5 616.11 387.32 616.68 388.14C617.26 388.96 617.83 389.77 618.41 390.59C618.99 391.41 619.56 392.23 620.14 393.04C620.72 393.86 621.3 394.67 621.88 395.49C622.46 396.3 623.05 397.12 623.63 397.93C624.21 398.74 624.8 399.56 625.38 400.37C625.97 401.18 626.55 401.99 627.14 402.8C627.73 403.61 628.32 404.42 628.92 405.22C629.51 406.02 630.11 406.83 630.71 407.63C631.31 408.43 631.92 409.22 632.52 410.02C633.13 410.81 633.75 411.6 634.36 412.39C634.98 413.18 635.6 413.97 636.22 414.75C636.84 415.54 637.46 416.32 638.09 417.1C638.71 417.88 639.34 418.65 639.99 419.42C640.63 420.19 641.28 420.95 641.94 421.7C642.61 422.44 643.28 423.18 643.97 423.91C644.66 424.63 645.36 425.35 646.08 426.04C646.8 426.73 647.53 427.42 648.3 428.06C649.06 428.7 649.84 429.33 650.67 429.87C651.49 430.42 652.35 430.93 653.25 431.32C654.15 431.71 655.1 432.02 656.06 432.2C657.02 432.39 658.01 432.46 659 432.45C659.98 432.43 660.97 432.31 661.95 432.12C662.92 431.94 663.89 431.67 664.82 431.35C665.76 431.03 666.68 430.64 667.57 430.2C668.46 429.76 669.32 429.25 670.15 428.7C670.97 428.14 671.76 427.53 672.53 426.89C673.3 426.26 674.04 425.58 674.77 424.9C675.5 424.22 676.2 423.51 676.9 422.79C677.6 422.08 678.28 421.35 678.96 420.61C679.63 419.87 680.29 419.11 680.94 418.36C681.6 417.6 682.25 416.84 682.9 416.08C683.54 415.32 684.19 414.55 684.83 413.78C685.47 413.02 686.11 412.25 686.75 411.48C687.39 410.71 688.03 409.94 688.66 409.16C689.29 408.38 689.92 407.61 690.54 406.82C691.16 406.04 691.77 405.25 692.37 404.44C692.97 403.64 693.55 402.83 694.11 402C694.68 401.18 695.23 400.34 695.78 399.51C696.34 398.68 696.89 397.84 697.45 397.01C698.01 396.18 698.57 395.36 699.13 394.53C699.69 393.7 700.25 392.87 700.81 392.04C701.36 391.2 701.91 390.37 702.46 389.53C703.01 388.7 703.56 387.86 704.1 387.02C704.64 386.18 705.17 385.33 705.71 384.49C706.25 383.64 706.78 382.8 707.32 381.95C707.85 381.11 708.39 380.26 708.92 379.42C709.46 378.57 709.99 377.72 710.53 376.88C711.06 376.03 711.6 375.19 712.13 374.34C712.67 373.5 713.21 372.65 713.74 371.81C714.28 370.97 714.82 370.12 715.36 369.28C715.9 368.44 716.45 367.6 716.99 366.76C717.53 365.92 718.07 365.08 718.62 364.24C719.16 363.39 719.7 362.55 720.23 361.71C720.77 360.86 721.31 360.02 721.84 359.17C722.38 358.33 722.91 357.48 723.45 356.64C723.99 355.8 724.53 354.96 725.08 354.12C725.63 353.29 726.19 352.46 726.76 351.63C727.33 350.81 727.9 349.99 728.48 349.17C729.05 348.35 729.63 347.54 730.21 346.72C730.78 345.9 731.35 345.08 731.92 344.26C732.49 343.43 733.06 342.61 733.62 341.78C734.19 340.96 734.76 340.14 735.33 339.32C735.91 338.5 736.48 337.68 737.06 336.86C737.65 336.05 738.23 335.24 738.83 334.44C739.43 333.64 740.04 332.84 740.66 332.06C741.29 331.28 741.93 330.52 742.59 329.76C743.24 329.01 743.92 328.27 744.61 327.54C745.29 326.81 745.98 326.09 746.68 325.37C747.38 324.66 748.09 323.95 748.82 323.27C749.55 322.6 750.3 321.93 751.08 321.3C751.85 320.67 752.65 320.07 753.46 319.49C754.27 318.9 755.1 318.34 755.94 317.8C756.78 317.26 757.63 316.73 758.49 316.23C759.36 315.73 760.24 315.25 761.13 314.81C762.03 314.37 762.94 313.96 763.87 313.59C764.79 313.22 765.74 312.89 766.69 312.6C767.65 312.31 768.62 312.07 769.59 311.85C770.56 311.64 771.55 311.46 772.54 311.3C773.52 311.15 774.52 311.02 775.51 310.92C776.5 310.82 777.5 310.76 778.5 310.71C779.5 310.66 780.5 310.64 781.5 310.63C782.5 310.62 783.67 310.65 784.5 310.66C785.33 310.67 786.17 310.69 786.5 310.7"/>
<path stroke="#ff0000" d="M493.01 310.42C493.51 310.41 495.01 310.36 496.01 310.34C497.01 310.31 498.01 310.28 499.01 310.25C500.01 310.23 501.01 310.2 502.01 310.19C503.01 310.18 504.01 310.17 505.01 310.17C506.01 310.17 507.01 310.18 508.01 310.2C509.01 310.22 510.01 310.25 511.01 310.29C512.01 310.33 513.01 310.37 514.01 310.42C515.01 310.47 516.01 310.53 517.01 310.59C518.01 310.65 519 310.71 520 310.78C521 310.85 522 310.92 522.99 311C523.99 311.09 524.99 311.17 525.98 311.27C526.98 311.37 527.97 311.48 528.97 311.6C529.96 311.72 530.95 311.85 531.94 312C532.93 312.15 533.92 312.31 534.9 312.48C535.89 312.65 536.87 312.83 537.85 313.03C538.83 313.22 539.81 313.42 540.79 313.64C541.76 313.86 542.74 314.09 543.7 314.34C544.67 314.59 545.64 314.86 546.59 315.15C547.55 315.44 548.5 315.76 549.44 316.1C550.37 316.44 551.3 316.82 552.22 317.21C553.13 317.61 554.04 318.04 554.93 318.48C555.83 318.93 556.71 319.4 557.58 319.88C558.46 320.37 559.32 320.88 560.17 321.4C561.02 321.93 561.86 322.47 562.69 323.03C563.52 323.59 564.34 324.16 565.14 324.75C565.95 325.34 566.75 325.95 567.53 326.57C568.32 327.18 569.1 327.82 569.86 328.46C570.63 329.1 571.39 329.75 572.13 330.42C572.87 331.09 573.61 331.77 574.33 332.46C575.04 333.16 575.75 333.87 576.43 334.6C577.12 335.32 577.79 336.07 578.45 336.82C579.1 337.58 579.75 338.34 580.37 339.12C580.99 339.9 581.62 340.69 582.18 341.51C582.74 342.32 583.26 343.17 583.75 344.03C584.23 344.9 584.61 345.82 585.07 346.69C585.54 347.57 586 348.45 586.51 349.31C587.02 350.16 587.59 350.99 588.15 351.82C588.7 352.64 589.29 353.46 589.86 354.28C590.43 355.1 591 355.92 591.57 356.75C592.14 357.57 592.7 358.4 593.26 359.22C593.82 360.05 594.38 360.88 594.93 361.72C595.49 362.55 596.04 363.38 596.6 364.21C597.15 365.05 597.7 365.88 598.26 366.71C598.81 367.55 599.37 368.38 599.92 369.21C600.47 370.05 601.03 370.88 601.58 371.71C602.14 372.54 602.69 373.38 603.24 374.21C603.8 375.04 604.35 375.88 604.91 376.71C605.46 377.54 606.02 378.37 606.58 379.2C607.14 380.03 607.7 380.86 608.26 381.68C608.83 382.51 609.39 383.34 609.96 384.16C610.52 384.99 611.09 385.81 611.65 386.64C612.22 387.46 612.78 388.29 613.34 389.12C613.89 389.95 614.45 390.79 614.99 391.62C615.54 392.46 616.08 393.3 616.63 394.14C617.17 394.98 617.7 395.83 618.25 396.67C618.79 397.51 619.33 398.35 619.88 399.18C620.44 400.02 620.99 400.85 621.56 401.67C622.12 402.5 622.7 403.32 623.27 404.13C623.85 404.95 624.44 405.76 625.02 406.57C625.61 407.38 626.2 408.19 626.8 408.99C627.39 409.8 627.98 410.6 628.58 411.4C629.18 412.21 629.78 413.01 630.39 413.8C631 414.6 631.61 415.39 632.23 416.17C632.85 416.96 633.47 417.74 634.1 418.52C634.73 419.29 635.37 420.07 636.01 420.83C636.65 421.6 637.3 422.36 637.96 423.11C638.62 423.87 639.28 424.62 639.95 425.36C640.62 426.1 641.29 426.84 641.98 427.57C642.66 428.3 643.36 429.02 644.06 429.73C644.77 430.43 645.49 431.13 646.22 431.81C646.96 432.48 647.7 433.16 648.48 433.78C649.26 434.4 650.06 435 650.89 435.53C651.73 436.06 652.61 436.54 653.52 436.94C654.42 437.34 655.36 437.69 656.32 437.94C657.27 438.19 658.25 438.38 659.23 438.44C660.2 438.5 661.2 438.45 662.17 438.3C663.13 438.16 664.1 437.89 665.03 437.56C665.97 437.24 666.88 436.83 667.76 436.38C668.65 435.92 669.5 435.4 670.33 434.85C671.16 434.3 671.95 433.69 672.72 433.06C673.5 432.43 674.24 431.75 674.97 431.08C675.71 430.4 676.42 429.7 677.13 429C677.84 428.3 678.55 427.59 679.24 426.86C679.92 426.14 680.6 425.4 681.25 424.64C681.91 423.89 682.54 423.11 683.16 422.33C683.79 421.55 684.39 420.75 685 419.96C685.61 419.16 686.21 418.36 686.81 417.56C687.41 416.76 688.01 415.96 688.6 415.15C689.2 414.35 689.79 413.55 690.38 412.74C690.97 411.93 691.56 411.12 692.15 410.32C692.74 409.51 693.33 408.7 693.92 407.89C694.5 407.08 695.09 406.27 695.66 405.45C696.24 404.63 696.81 403.81 697.37 402.98C697.94 402.16 698.48 401.32 699.03 400.48C699.58 399.64 700.11 398.8 700.66 397.96C701.2 397.12 701.75 396.29 702.31 395.45C702.86 394.62 703.42 393.79 703.97 392.96C704.52 392.12 705.08 391.29 705.63 390.46C706.18 389.62 706.73 388.79 707.28 387.95C707.83 387.11 708.37 386.27 708.91 385.43C709.45 384.59 709.99 383.75 710.53 382.9C711.08 382.06 711.62 381.22 712.16 380.39C712.71 379.55 713.26 378.71 713.81 377.88C714.37 377.04 714.92 376.21 715.48 375.38C716.03 374.55 716.59 373.72 717.14 372.89C717.7 372.05 718.25 371.22 718.8 370.38C719.34 369.54 719.89 368.7 720.43 367.86C720.97 367.02 721.51 366.18 722.06 365.34C722.6 364.5 723.14 363.66 723.68 362.81C724.22 361.97 724.76 361.13 725.3 360.29C725.84 359.45 726.38 358.61 726.92 357.76C727.46 356.92 728 356.08 728.55 355.24C729.09 354.4 729.64 353.57 730.19 352.73C730.74 351.89 731.29 351.06 731.85 350.23C732.41 349.4 732.97 348.57 733.52 347.74C734.08 346.91 734.64 346.08 735.21 345.25C735.77 344.43 736.33 343.6 736.89 342.77C737.46 341.95 738.03 341.13 738.6 340.31C739.18 339.49 739.76 338.68 740.35 337.87C740.94 337.06 741.53 336.25 742.13 335.45C742.73 334.65 743.33 333.85 743.95 333.06C744.56 332.28 745.19 331.5 745.84 330.74C746.49 329.97 747.15 329.23 747.83 328.49C748.51 327.76 749.2 327.03 749.91 326.33C750.62 325.63 751.34 324.93 752.08 324.27C752.83 323.6 753.59 322.96 754.38 322.34C755.16 321.71 755.95 321.11 756.77 320.53C757.58 319.95 758.4 319.38 759.25 318.85C760.09 318.32 760.96 317.82 761.84 317.35C762.72 316.89 763.63 316.46 764.54 316.06C765.46 315.66 766.39 315.3 767.33 314.97C768.27 314.63 769.23 314.33 770.19 314.06C771.15 313.78 772.11 313.53 773.09 313.31C774.06 313.1 775.05 312.92 776.03 312.77C777.02 312.63 778.02 312.52 779.01 312.45C780.01 312.38 781 312.36 782 312.36C783 312.36 784.25 312.41 785 312.44C785.75 312.46 786.25 312.49 786.5 312.5"/>
</g>
<g fill="#000">
<path d="M95.15 565l-1.38 2.38h-2.75l-1.38 -2.38l1.38 -2.38h2.75zM101.15 562.8l-1.38 2.38h-2.75l-1.38 -2.38l1.38 -2.38h2.75zM106.75 565l-1.38 2.38h-2.75l-1.38 -2.38l1.38 -2.38h2.75zM112.35 569.6l-1.38 2.38h-2.75l-1.38 -2.38l1.38 -2.38h2.75zM117.95 575.6l-1.38 2.38h-2.75l-1.38 -2.38l1.38 -2.38h2.75zM123.55 586.4l-1.38 2.38h-2.75l-1.38 -2.38l1.38 -2.38h2.75zM129.15 603l-1.38 2.38h-2.75l-1.38 -2.38l1.38 -2.38h2.75zM134.75 624.4l-1.38 2.38h-2.75l-1.38 -2.38l1.38 -2.38h2.75zM140.15 645.6l-1.38 2.38h-2.75l-1.38 -2.38l1.38 -2.38h2.75zM145.75 660.6l-1.38 2.38h-2.75l-1.38 -2.38l1.38 -2.38h2.75zM151.15 666l-1.38 2.38h-2.75l-1.38 -2.38l1.38 -2.38h2.75zM156.75 662l-1.38 2.38h-2.75l-1.38 -2.38l1.38 -2.38h2.75zM162.35 650l-1.38 2.38h-2.75l-1.38 -2.38l1.38 -2.38h2.75zM167.75 630.4l-1.38 2.38h-2.75l-1.38 -2.38l1.38 -2.38h2.75zM173.15 608l-1.38 2.38h-2.75l-1.38 -2.38l1.38 -2.38h2.75zM178.75 587l-1.38 2.38h-2.75l-1.38 -2.38l1.38 -2.38h2.75zM184.15 574l-1.38 2.38h-2.75l-1.38 -2.38l1.38 -2.38h2.75zM189.75 566.4l-1.38 2.38h-2.75l-1.38 -2.38l1.38 -2.38h2.75zM195.15 563l-1.38 2.38h-2.75l-1.38 -2.38l1.38 -2.38h2.75zM200.75 566.4l-1.38 2.38h-2.75l-1.38 -2.38l1.38 -2.38h2.75zM206.15 570.6l-1.38 2.38h-2.75l-1.38 -2.38l1.38 -2.38h2.75zM211.75 576.4l-1.38 2.38h-2.75l-1.38 -2.38l1.38 -2.38h2.75zM217.35 585.6l-1.38 2.38h-2.75l-1.38 -2.38l1.38 -2.38h2.75zM222.75 597.4l-1.38 2.38h-2.75l-1.38 -2.38l1.38 -2.38h2.75zM228.35 609.2l-1.38 2.38h-2.75l-1.38 -2.38l1.38 -2.38h2.75zM233.95 620.2l-1.38 2.38h-2.75l-1.38 -2.38l1.38 -2.38h2.75zM239.55 628l-1.38 2.38h-2.75l-1.38 -2.38l1.38 -2.38h2.75zM245.15 630l-1.38 2.38h-2.75l-1.38 -2.38l1.38 -2.38h2.75zM250.75 624.8l-1.38 2.38h-2.75l-1.38 -2.38l1.38 -2.38h2.75zM256.15 613.6l-1.38 2.38h-2.75l-1.38 -2.38l1.38 -2.38h2.75zM261.55 600.4l-1.38 2.38h-2.75l-1.38 -2.38l1.38 -2.38h2.75zM267.15 588l-1.38 2.38h-2.75l-1.38 -2.38l1.38 -2.38h2.75zM272.75 579.6l-1.38 2.38h-2.75l-1.38 -2.38l1.38 -2.38h2.75zM278.15 576l-1.38 2.38h-2.75l-1.38 -2.38l1.38 -2.38h2.75zM283.75 577l-1.38 2.38h-2.75l-1.38 -2.38l1.38 -2.38h2.75zM289.15 580l-1.38 2.38h-2.75l-1.38 -2.38l1.38 -2.38h2.75zM294.75 583.6l-1.38 2.38h-2.75l-1.38 -2.38l1.38 -2.38h2.75zM300.35 586l-1.38 2.38h-2.75l-1.38 -2.38l1.38 -2.38h2.75zM305.95 588l-1.38 2.38h-2.75l-1.38 -2.38l1.38 -2.38h2.75zM311.55 590.4l-1.38 2.38h-2.75l-1.38 -2.38l1.38 -2.38h2.75zM316.95 590.4l-1.38 2.38h-2.75l-1.38 -2.38l1.38 -2.38h2.75zM322.55 587.2l-1.38 2.38h-2.75l-1.38 -2.38l1.38 -2.38h2.75zM328.15 582.2l-1.38 2.38h-2.75l-1.38 -2.38l1.38 -2.38h2.75zM333.55 577.8l-1.38 2.38h-2.75l-1.38 -2.38l1.38 -2.38h2.75zM339.15 572l-1.38 2.38h-2.75l-1.38 -2.38l1.38 -2.38h2.75zM344.75 565l-1.38 2.38h-2.75l-1.38 -2.38l1.38 -2.38h2.75zM350.15 561l-1.38 2.38h-2.75l-1.38 -2.38l1.38 -2.38h2.75zM355.75 558l-1.38 2.38h-2.75l-1.38 -2.38l1.38 -2.38h2.75zM361.15 557.6l-1.38 2.38h-2.75l-1.38 -2.38l1.38 -2.38h2.75zM366.75 558l-1.38 2.38h-2.75l-1.38 -2.38l1.38 -2.38h2.75zM372.35 557.4l-1.38 2.38h-2.75l-1.38 -2.38l1.38 -2.38h2.75zM377.95 555.4l-1.38 2.38h-2.75l-1.38 -2.38l1.38 -2.38h2.75zM383.75 553.4l-1.38 2.38h-2.75l-1.38 -2.38l1.38 -2.38h2.75z"/>
</g>
<g clip-path="url(#c5)" fill="none" stroke-width="1" stroke-linejoin="round">
<path stroke="#0000ff" d="M90.41 564.64C90.91 564.68 92.4 564.81 93.4 564.92C94.39 565.03 95.39 565.14 96.37 565.29C97.36 565.44 98.35 565.61 99.33 565.82C100.3 566.02 101.28 566.25 102.24 566.54C103.2 566.82 104.15 567.14 105.07 567.5C106 567.87 106.94 568.24 107.8 568.73C108.67 569.23 109.48 569.82 110.24 570.45C111.01 571.09 111.7 571.83 112.38 572.55C113.07 573.28 113.73 574.03 114.36 574.81C114.99 575.59 115.59 576.38 116.14 577.22C116.68 578.06 117.15 578.95 117.62 579.83C118.09 580.71 118.55 581.6 118.98 582.5C119.41 583.4 119.82 584.31 120.22 585.23C120.61 586.15 120.97 587.09 121.32 588.02C121.68 588.96 122.01 589.9 122.34 590.84C122.67 591.79 122.98 592.74 123.3 593.69C123.62 594.63 123.94 595.58 124.25 596.53C124.56 597.48 124.87 598.43 125.17 599.39C125.47 600.34 125.76 601.3 126.04 602.26C126.32 603.22 126.58 604.18 126.84 605.15C127.09 606.12 127.33 607.09 127.57 608.06C127.82 609.03 128.05 610 128.29 610.97C128.53 611.94 128.77 612.91 129.02 613.88C129.26 614.85 129.52 615.82 129.77 616.79C130.02 617.76 130.27 618.73 130.52 619.69C130.77 620.66 131.03 621.63 131.28 622.59C131.54 623.56 131.8 624.53 132.06 625.49C132.33 626.46 132.59 627.42 132.86 628.39C133.12 629.35 133.39 630.31 133.66 631.28C133.93 632.24 134.2 633.2 134.47 634.16C134.75 635.13 135.03 636.09 135.31 637.05C135.59 638.01 135.87 638.97 136.16 639.92C136.45 640.88 136.74 641.84 137.04 642.79C137.33 643.75 137.64 644.7 137.95 645.65C138.26 646.6 138.58 647.55 138.9 648.49C139.23 649.44 139.56 650.38 139.9 651.32C140.24 652.26 140.59 653.2 140.96 654.13C141.33 655.06 141.7 655.99 142.09 656.91C142.49 657.83 142.87 658.76 143.31 659.65C143.76 660.54 144.16 661.49 144.76 662.27C145.35 663.04 146.06 663.92 146.88 664.31C147.69 664.7 148.79 664.85 149.64 664.61C150.49 664.37 151.31 663.57 151.99 662.88C152.67 662.19 153.21 661.3 153.75 660.46C154.29 659.62 154.76 658.73 155.22 657.85C155.69 656.96 156.12 656.06 156.55 655.16C156.98 654.25 157.39 653.34 157.78 652.42C158.17 651.5 158.53 650.57 158.88 649.63C159.22 648.69 159.54 647.74 159.86 646.8C160.18 645.85 160.48 644.89 160.78 643.94C161.08 642.99 161.37 642.03 161.66 641.07C161.95 640.12 162.25 639.16 162.53 638.2C162.81 637.24 163.1 636.28 163.37 635.32C163.64 634.36 163.91 633.4 164.18 632.43C164.44 631.47 164.7 630.5 164.95 629.53C165.21 628.57 165.45 627.6 165.7 626.63C165.94 625.66 166.18 624.69 166.42 623.71C166.66 622.74 166.9 621.77 167.15 620.8C167.39 619.83 167.64 618.86 167.88 617.89C168.13 616.93 168.38 615.96 168.63 614.99C168.87 614.02 169.12 613.05 169.37 612.08C169.62 611.11 169.86 610.14 170.1 609.17C170.34 608.2 170.58 607.23 170.82 606.26C171.05 605.28 171.27 604.31 171.5 603.34C171.73 602.36 171.95 601.39 172.18 600.41C172.42 599.44 172.65 598.47 172.9 597.5C173.14 596.53 173.4 595.56 173.66 594.6C173.92 593.63 174.19 592.67 174.47 591.71C174.74 590.75 175.03 589.79 175.32 588.83C175.62 587.88 175.92 586.93 176.23 585.98C176.54 585.02 176.86 584.08 177.19 583.13C177.51 582.18 177.84 581.24 178.18 580.3C178.53 579.36 178.88 578.42 179.24 577.49C179.61 576.56 179.98 575.63 180.37 574.72C180.77 573.8 181.17 572.88 181.6 571.98C182.03 571.08 182.47 570.18 182.97 569.31C183.47 568.44 183.99 567.59 184.58 566.78C185.17 565.98 185.8 565.19 186.51 564.5C187.23 563.81 188.01 563.16 188.86 562.65C189.7 562.15 190.64 561.73 191.59 561.46C192.54 561.19 193.55 561.06 194.54 561.03C195.53 561 196.54 561.1 197.51 561.29C198.49 561.47 199.48 561.73 200.37 562.14C201.27 562.55 202.11 563.13 202.89 563.74C203.66 564.35 204.37 565.08 205.04 565.82C205.71 566.56 206.32 567.36 206.91 568.16C207.5 568.97 208.05 569.8 208.58 570.65C209.11 571.5 209.61 572.37 210.09 573.24C210.58 574.12 211.03 575.01 211.48 575.9C211.93 576.8 212.35 577.7 212.77 578.61C213.18 579.52 213.57 580.44 213.96 581.36C214.35 582.28 214.73 583.21 215.11 584.14C215.48 585.06 215.85 585.99 216.22 586.93C216.58 587.86 216.93 588.79 217.28 589.73C217.63 590.67 217.98 591.61 218.32 592.54C218.67 593.48 219.01 594.42 219.35 595.36C219.68 596.3 220.02 597.25 220.35 598.19C220.68 599.13 221.01 600.08 221.34 601.02C221.67 601.97 222 602.91 222.33 603.85C222.67 604.8 223.01 605.74 223.35 606.68C223.69 607.62 224.03 608.56 224.38 609.5C224.72 610.43 225.07 611.37 225.43 612.31C225.79 613.24 226.16 614.17 226.54 615.09C226.92 616.02 227.32 616.94 227.73 617.85C228.14 618.76 228.56 619.67 228.99 620.57C229.43 621.47 229.87 622.37 230.35 623.24C230.83 624.12 231.31 625.01 231.87 625.83C232.42 626.66 232.99 627.54 233.7 628.19C234.41 628.85 235.26 629.63 236.11 629.75C236.95 629.87 237.99 629.42 238.77 628.91C239.54 628.4 240.15 627.49 240.74 626.7C241.33 625.9 241.82 625.01 242.31 624.14C242.81 623.27 243.26 622.38 243.71 621.49C244.16 620.6 244.59 619.69 245.02 618.79C245.45 617.88 245.86 616.98 246.27 616.06C246.68 615.15 247.07 614.23 247.46 613.31C247.86 612.39 248.24 611.47 248.63 610.54C249.02 609.62 249.4 608.7 249.79 607.78C250.17 606.85 250.56 605.93 250.94 605.01C251.33 604.09 251.73 603.17 252.12 602.25C252.52 601.33 252.91 600.41 253.31 599.49C253.7 598.57 254.1 597.65 254.49 596.73C254.88 595.81 255.27 594.89 255.65 593.97C256.04 593.05 256.43 592.12 256.82 591.21C257.22 590.29 257.62 589.37 258.04 588.46C258.46 587.56 258.89 586.65 259.34 585.76C259.78 584.86 260.24 583.97 260.69 583.08C261.15 582.19 261.6 581.3 262.06 580.41C262.52 579.52 262.97 578.63 263.45 577.75C263.92 576.87 264.41 576 264.91 575.13C265.41 574.27 265.91 573.4 266.44 572.55C266.98 571.71 267.52 570.87 268.12 570.07C268.72 569.27 269.35 568.48 270.04 567.77C270.74 567.07 271.51 566.4 272.32 565.83C273.13 565.26 274 564.74 274.91 564.35C275.82 563.96 276.8 563.68 277.78 563.51C278.75 563.34 279.77 563.29 280.76 563.34C281.75 563.38 282.75 563.54 283.71 563.77C284.68 564 285.63 564.35 286.55 564.72C287.48 565.09 288.37 565.55 289.26 566C290.15 566.46 291.02 566.95 291.89 567.45C292.75 567.95 293.61 568.47 294.46 569C295.31 569.52 296.16 570.05 297.01 570.58C297.86 571.11 298.7 571.65 299.56 572.16C300.41 572.68 301.28 573.19 302.15 573.66C303.03 574.14 303.92 574.6 304.83 575.02C305.74 575.44 306.66 575.83 307.6 576.17C308.54 576.5 309.5 576.8 310.47 577.02C311.44 577.24 312.44 577.41 313.43 577.48C314.42 577.55 315.43 577.52 316.42 577.44C317.41 577.36 318.42 577.27 319.39 577.03C320.35 576.79 321.3 576.45 322.19 576.01C323.07 575.57 323.9 574.98 324.71 574.4C325.52 573.81 326.28 573.16 327.04 572.51C327.8 571.86 328.53 571.18 329.25 570.49C329.98 569.8 330.68 569.09 331.4 568.39C332.12 567.7 332.84 567 333.58 566.33C334.32 565.66 335.09 565.02 335.86 564.38C336.63 563.75 337.41 563.12 338.21 562.52C339.01 561.92 339.82 561.33 340.65 560.77C341.48 560.22 342.32 559.68 343.2 559.2C344.07 558.72 344.98 558.29 345.9 557.89C346.81 557.49 347.75 557.13 348.69 556.8C349.64 556.48 350.59 556.17 351.56 555.93C352.53 555.69 353.51 555.51 354.5 555.37C355.49 555.22 356.49 555.13 357.48 555.04C358.48 554.95 359.48 554.89 360.48 554.84C361.48 554.8 362.48 554.78 363.48 554.75C364.48 554.72 365.48 554.71 366.48 554.69C367.48 554.67 368.48 554.65 369.48 554.64C370.48 554.62 371.48 554.61 372.48 554.6C373.48 554.59 374.48 554.58 375.48 554.56C376.48 554.55 377.48 554.54 378.48 554.53C379.48 554.51 380.56 554.5 381.48 554.49C382.39 554.48 383.56 554.46 383.98 554.46"/>
<path stroke="#00ff00" d="M90.41 564.64C90.91 564.68 92.4 564.81 93.4 564.92C94.39 565.03 95.38 565.14 96.37 565.29C97.36 565.44 98.35 565.61 99.33 565.82C100.3 566.02 101.28 566.25 102.24 566.53C103.19 566.82 104.15 567.14 105.07 567.5C106 567.87 106.94 568.24 107.8 568.73C108.66 569.22 109.48 569.82 110.24 570.45C111.01 571.09 111.7 571.83 112.38 572.55C113.07 573.28 113.73 574.03 114.36 574.81C114.98 575.58 115.59 576.38 116.14 577.22C116.68 578.05 117.15 578.94 117.62 579.82C118.09 580.7 118.54 581.6 118.98 582.5C119.41 583.4 119.82 584.31 120.21 585.23C120.61 586.15 120.97 587.08 121.32 588.02C121.68 588.95 122.01 589.9 122.34 590.84C122.67 591.78 122.98 592.73 123.3 593.68C123.62 594.63 123.94 595.58 124.25 596.53C124.56 597.48 124.87 598.43 125.17 599.38C125.47 600.34 125.76 601.29 126.04 602.25C126.32 603.21 126.58 604.18 126.84 605.15C127.09 606.11 127.33 607.08 127.57 608.05C127.81 609.02 128.05 610 128.29 610.97C128.53 611.94 128.77 612.91 129.02 613.88C129.26 614.85 129.51 615.81 129.76 616.78C130.01 617.75 130.26 618.72 130.52 619.69C130.77 620.65 131.02 621.62 131.28 622.59C131.54 623.55 131.8 624.52 132.06 625.48C132.32 626.45 132.59 627.41 132.85 628.38C133.12 629.34 133.39 630.31 133.66 631.27C133.93 632.23 134.2 633.19 134.47 634.16C134.75 635.12 135.03 636.08 135.31 637.04C135.59 638 135.87 638.96 136.16 639.91C136.44 640.87 136.73 641.83 137.03 642.78C137.33 643.74 137.64 644.69 137.95 645.64C138.26 646.59 138.58 647.54 138.9 648.48C139.23 649.43 139.55 650.37 139.9 651.31C140.24 652.25 140.59 653.19 140.96 654.12C141.32 655.05 141.7 655.98 142.09 656.9C142.48 657.82 142.86 658.75 143.31 659.64C143.75 660.53 144.16 661.48 144.75 662.26C145.34 663.04 146.05 663.91 146.87 664.3C147.68 664.69 148.78 664.85 149.63 664.61C150.48 664.38 151.3 663.58 151.98 662.89C152.67 662.2 153.2 661.31 153.74 660.47C154.28 659.63 154.75 658.74 155.22 657.86C155.68 656.98 156.12 656.07 156.54 655.17C156.97 654.27 157.39 653.36 157.77 652.43C158.16 651.51 158.53 650.58 158.87 649.64C159.22 648.71 159.54 647.76 159.85 646.81C160.17 645.86 160.47 644.91 160.77 643.95C161.07 643 161.37 642.04 161.66 641.09C161.95 640.13 162.24 639.17 162.53 638.22C162.81 637.26 163.09 636.3 163.37 635.34C163.64 634.37 163.91 633.41 164.17 632.45C164.44 631.48 164.7 630.52 164.95 629.55C165.2 628.58 165.45 627.61 165.69 626.64C165.94 625.67 166.18 624.7 166.42 623.73C166.66 622.76 166.9 621.79 167.14 620.82C167.39 619.85 167.63 618.88 167.88 617.91C168.13 616.94 168.37 615.97 168.62 615.01C168.87 614.04 169.12 613.07 169.36 612.1C169.61 611.13 169.86 610.16 170.1 609.19C170.34 608.22 170.58 607.25 170.81 606.28C171.04 605.3 171.27 604.33 171.5 603.35C171.72 602.38 171.95 601.41 172.18 600.43C172.41 599.46 172.65 598.49 172.89 597.52C173.14 596.55 173.39 595.58 173.66 594.62C173.92 593.65 174.18 592.69 174.46 591.73C174.74 590.77 175.02 589.81 175.32 588.85C175.61 587.9 175.92 586.95 176.23 585.99C176.54 585.04 176.85 584.1 177.18 583.15C177.5 582.2 177.83 581.26 178.18 580.32C178.52 579.38 178.87 578.44 179.23 577.51C179.6 576.58 179.97 575.65 180.37 574.74C180.76 573.82 181.16 572.9 181.59 572C182.02 571.1 182.46 570.2 182.96 569.33C183.46 568.46 183.98 567.61 184.57 566.8C185.16 566 185.79 565.2 186.5 564.51C187.21 563.82 187.99 563.17 188.84 562.67C189.68 562.16 190.62 561.74 191.57 561.47C192.51 561.2 193.53 561.06 194.51 561.03C195.5 561 196.52 561.1 197.49 561.28C198.46 561.47 199.45 561.73 200.35 562.13C201.25 562.54 202.09 563.11 202.87 563.72C203.65 564.34 204.35 565.07 205.02 565.8C205.69 566.54 206.31 567.33 206.9 568.14C207.49 568.94 208.04 569.78 208.57 570.63C209.1 571.48 209.6 572.35 210.08 573.22C210.56 574.09 211.02 574.98 211.47 575.88C211.91 576.77 212.34 577.68 212.75 578.59C213.17 579.5 213.56 580.42 213.95 581.34C214.34 582.26 214.72 583.18 215.1 584.11C215.47 585.04 215.84 585.97 216.21 586.9C216.57 587.83 216.92 588.77 217.27 589.7C217.62 590.64 217.97 591.58 218.31 592.52C218.66 593.46 219 594.4 219.34 595.34C219.68 596.28 220.01 597.22 220.34 598.16C220.67 599.11 221 600.05 221.33 601C221.66 601.94 221.99 602.88 222.32 603.83C222.66 604.77 223 605.71 223.34 606.65C223.68 607.59 224.02 608.53 224.37 609.47C224.71 610.41 225.06 611.35 225.42 612.28C225.78 613.21 226.15 614.14 226.53 615.06C226.91 615.99 227.31 616.91 227.72 617.82C228.12 618.73 228.54 619.64 228.98 620.54C229.42 621.44 229.86 622.34 230.34 623.21C230.81 624.09 231.29 624.98 231.85 625.8C232.4 626.63 232.97 627.51 233.68 628.17C234.38 628.83 235.24 629.61 236.08 629.74C236.92 629.87 237.97 629.44 238.74 628.93C239.52 628.43 240.13 627.52 240.72 626.72C241.32 625.93 241.8 625.04 242.29 624.17C242.79 623.3 243.25 622.41 243.7 621.52C244.15 620.63 244.58 619.72 245.01 618.82C245.43 617.92 245.85 617.01 246.26 616.09C246.67 615.18 247.06 614.26 247.45 613.34C247.84 612.42 248.23 611.5 248.61 610.58C249 609.65 249.39 608.73 249.77 607.81C250.16 606.89 250.54 605.96 250.93 605.04C251.32 604.12 251.72 603.2 252.11 602.28C252.5 601.36 252.9 600.44 253.29 599.52C253.69 598.61 254.08 597.69 254.47 596.77C254.87 595.85 255.25 594.92 255.64 594C256.03 593.08 256.41 592.16 256.81 591.24C257.21 590.32 257.6 589.41 258.02 588.5C258.44 587.59 258.87 586.69 259.31 585.79C259.75 584.89 260.21 584 260.66 583.11C261.12 582.22 261.58 581.33 262.06 580.45C262.54 579.58 263.03 578.7 263.54 577.85C264.05 576.99 264.59 576.14 265.14 575.31C265.69 574.47 266.25 573.64 266.84 572.84C267.44 572.04 268.04 571.22 268.73 570.51C269.42 569.8 270.15 569.08 270.98 568.56C271.81 568.05 272.77 567.65 273.72 567.41C274.67 567.17 275.7 567.06 276.68 567.11C277.65 567.17 278.66 567.4 279.58 567.74C280.5 568.08 281.37 568.61 282.22 569.14C283.06 569.67 283.86 570.28 284.64 570.9C285.43 571.52 286.18 572.18 286.91 572.87C287.63 573.55 288.31 574.29 289.01 575C289.71 575.72 290.39 576.45 291.08 577.17C291.78 577.89 292.46 578.62 293.15 579.34C293.84 580.07 294.54 580.79 295.23 581.5C295.93 582.22 296.63 582.94 297.34 583.64C298.05 584.35 298.76 585.05 299.49 585.73C300.22 586.41 300.96 587.09 301.72 587.73C302.49 588.37 303.27 589.01 304.09 589.58C304.91 590.15 305.75 590.7 306.63 591.16C307.51 591.62 308.43 592.04 309.37 592.36C310.31 592.68 311.3 592.92 312.28 593.08C313.26 593.24 314.26 593.38 315.25 593.33C316.23 593.28 317.23 593.05 318.17 592.76C319.12 592.47 320.06 592.07 320.91 591.57C321.76 591.06 322.53 590.4 323.27 589.74C324.01 589.07 324.69 588.33 325.34 587.57C326 586.82 326.6 586.02 327.2 585.22C327.81 584.43 328.39 583.62 328.98 582.81C329.57 582 330.16 581.19 330.74 580.38C331.33 579.57 331.9 578.75 332.49 577.94C333.08 577.14 333.69 576.34 334.3 575.55C334.91 574.76 335.53 573.97 336.16 573.2C336.79 572.42 337.42 571.64 338.07 570.88C338.71 570.11 339.36 569.35 340.01 568.6C340.67 567.85 341.34 567.1 342.02 566.36C342.7 565.63 343.39 564.91 344.09 564.2C344.79 563.49 345.5 562.77 346.24 562.11C346.99 561.44 347.75 560.79 348.55 560.2C349.36 559.61 350.2 559.06 351.07 558.57C351.93 558.07 352.83 557.62 353.75 557.24C354.67 556.85 355.62 556.53 356.58 556.27C357.54 556 358.53 555.81 359.51 555.64C360.5 555.48 361.5 555.38 362.49 555.28C363.48 555.18 364.48 555.11 365.48 555.05C366.48 554.99 367.48 554.95 368.48 554.92C369.48 554.88 370.48 554.85 371.48 554.83C372.48 554.81 373.48 554.79 374.48 554.78C375.48 554.76 376.48 554.75 377.48 554.74C378.48 554.74 379.48 554.73 380.48 554.72C381.48 554.72 382.89 554.71 383.48 554.7C384.06 554.7 383.89 554.7 383.98 554.7"/>
<path stroke="#ff0000" d="M90.41 564.64C90.91 564.68 92.4 564.81 93.4 564.92C94.39 565.03 95.39 565.14 96.38 565.29C97.36 565.44 98.35 565.61 99.33 565.82C100.31 566.02 101.28 566.26 102.24 566.54C103.2 566.82 104.15 567.14 105.08 567.5C106.01 567.87 106.95 568.24 107.81 568.74C108.67 569.23 109.49 569.82 110.25 570.46C111.01 571.1 111.7 571.83 112.39 572.56C113.08 573.29 113.74 574.04 114.37 574.82C114.99 575.6 115.6 576.39 116.14 577.23C116.69 578.07 117.15 578.96 117.63 579.84C118.1 580.72 118.55 581.61 118.98 582.51C119.42 583.42 119.83 584.33 120.22 585.25C120.61 586.17 120.98 587.1 121.33 588.04C121.68 588.97 122.01 589.92 122.34 590.86C122.67 591.81 122.99 592.76 123.31 593.7C123.63 594.65 123.95 595.6 124.26 596.55C124.57 597.5 124.88 598.45 125.18 599.41C125.48 600.36 125.77 601.32 126.05 602.28C126.33 603.24 126.59 604.21 126.84 605.17C127.1 606.14 127.34 607.11 127.58 608.08C127.82 609.06 128.05 610.03 128.29 611C128.54 611.97 128.78 612.94 129.03 613.91C129.27 614.88 129.52 615.85 129.77 616.82C130.02 617.79 130.27 618.75 130.53 619.72C130.78 620.69 131.03 621.66 131.29 622.63C131.55 623.59 131.81 624.56 132.07 625.52C132.34 626.49 132.6 627.45 132.86 628.42C133.13 629.38 133.4 630.35 133.67 631.31C133.94 632.27 134.21 633.24 134.48 634.2C134.76 635.16 135.04 636.12 135.32 637.08C135.6 638.04 135.88 639 136.17 639.96C136.46 640.92 136.75 641.88 137.05 642.83C137.35 643.79 137.65 644.74 137.96 645.69C138.27 646.64 138.59 647.59 138.92 648.53C139.24 649.48 139.57 650.43 139.92 651.37C140.26 652.31 140.61 653.24 140.98 654.17C141.34 655.1 141.72 656.03 142.11 656.95C142.5 657.87 142.89 658.8 143.33 659.69C143.78 660.59 144.19 661.53 144.79 662.31C145.38 663.08 146.1 663.95 146.92 664.33C147.74 664.71 148.84 664.84 149.69 664.59C150.54 664.34 151.34 663.54 152.02 662.84C152.71 662.14 153.24 661.25 153.78 660.41C154.31 659.57 154.78 658.68 155.25 657.8C155.71 656.92 156.15 656.01 156.57 655.11C157 654.2 157.41 653.29 157.8 652.37C158.19 651.45 158.55 650.51 158.9 649.58C159.24 648.64 159.56 647.69 159.88 646.74C160.19 645.79 160.49 644.84 160.79 643.88C161.09 642.93 161.39 641.97 161.68 641.01C161.97 640.06 162.26 639.1 162.55 638.14C162.83 637.18 163.11 636.22 163.39 635.26C163.66 634.3 163.93 633.33 164.2 632.37C164.46 631.4 164.72 630.44 164.97 629.47C165.22 628.5 165.47 627.53 165.71 626.56C165.96 625.59 166.2 624.62 166.44 623.65C166.68 622.68 166.92 621.71 167.16 620.73C167.41 619.76 167.65 618.79 167.9 617.83C168.15 616.86 168.4 615.89 168.64 614.92C168.89 613.95 169.14 612.98 169.39 612.01C169.63 611.04 169.88 610.07 170.12 609.1C170.36 608.13 170.6 607.16 170.83 606.18C171.07 605.21 171.29 604.23 171.52 603.26C171.75 602.29 171.97 601.31 172.2 600.34C172.43 599.37 172.67 598.39 172.92 597.42C173.16 596.45 173.42 595.49 173.68 594.52C173.94 593.56 174.21 592.59 174.49 591.63C174.77 590.67 175.05 589.71 175.35 588.75C175.64 587.8 175.95 586.85 176.26 585.89C176.57 584.94 176.89 583.99 177.21 583.05C177.54 582.1 177.87 581.16 178.21 580.22C178.56 579.28 178.91 578.34 179.27 577.41C179.64 576.48 180.01 575.55 180.41 574.63C180.8 573.71 181.2 572.79 181.64 571.89C182.07 570.99 182.52 570.09 183.02 569.23C183.52 568.37 184.04 567.51 184.64 566.71C185.23 565.91 185.87 565.12 186.58 564.43C187.3 563.75 188.09 563.1 188.94 562.6C189.79 562.1 190.73 561.7 191.68 561.44C192.63 561.17 193.65 561.05 194.64 561.03C195.63 561.01 196.64 561.12 197.61 561.31C198.58 561.5 199.57 561.77 200.46 562.18C201.36 562.6 202.19 563.19 202.97 563.81C203.74 564.42 204.44 565.16 205.11 565.9C205.77 566.64 206.39 567.44 206.97 568.24C207.56 569.05 208.11 569.89 208.64 570.74C209.16 571.59 209.66 572.46 210.14 573.34C210.63 574.21 211.08 575.1 211.53 576C211.97 576.9 212.4 577.8 212.81 578.71C213.22 579.62 213.62 580.54 214.01 581.47C214.4 582.39 214.77 583.31 215.15 584.24C215.52 585.17 215.89 586.1 216.26 587.03C216.62 587.96 216.97 588.9 217.32 589.84C217.67 590.77 218.02 591.71 218.36 592.65C218.71 593.59 219.05 594.53 219.39 595.47C219.72 596.41 220.06 597.36 220.39 598.3C220.72 599.25 221.05 600.19 221.38 601.14C221.71 602.08 222.04 603.02 222.38 603.97C222.71 604.91 223.05 605.85 223.39 606.79C223.73 607.73 224.07 608.67 224.42 609.61C224.77 610.55 225.11 611.49 225.47 612.42C225.83 613.35 226.2 614.28 226.59 615.21C226.97 616.13 227.37 617.05 227.78 617.96C228.19 618.88 228.61 619.78 229.05 620.68C229.49 621.58 229.93 622.48 230.41 623.36C230.89 624.23 231.37 625.12 231.94 625.94C232.5 626.76 233.07 627.65 233.79 628.29C234.51 628.92 235.39 629.67 236.23 629.76C237.08 629.85 238.11 629.36 238.87 628.83C239.64 628.3 240.24 627.39 240.82 626.58C241.4 625.78 241.88 624.89 242.38 624.02C242.87 623.15 243.32 622.26 243.77 621.37C244.22 620.47 244.65 619.57 245.08 618.66C245.51 617.76 245.92 616.85 246.33 615.93C246.74 615.02 247.13 614.1 247.52 613.18C247.91 612.26 248.3 611.33 248.68 610.41C249.07 609.49 249.46 608.57 249.84 607.64C250.23 606.72 250.61 605.8 251 604.87C251.39 603.95 251.79 603.03 252.18 602.11C252.57 601.2 252.97 600.28 253.36 599.36C253.76 598.44 254.15 597.52 254.55 596.6C254.94 595.68 255.32 594.75 255.71 593.83C256.1 592.91 256.48 591.99 256.88 591.07C257.28 590.15 257.68 589.23 258.1 588.32C258.52 587.42 258.95 586.51 259.39 585.62C259.83 584.72 260.28 583.82 260.74 582.94C261.21 582.05 261.66 581.16 262.17 580.3C262.67 579.43 263.2 578.58 263.77 577.76C264.34 576.94 264.93 576.12 265.58 575.37C266.24 574.62 266.91 573.86 267.69 573.25C268.47 572.65 269.35 572.1 270.26 571.73C271.16 571.36 272.18 571.04 273.13 571.06C274.08 571.08 275.07 571.42 275.93 571.86C276.79 572.29 277.56 573 278.3 573.67C279.04 574.33 279.7 575.1 280.36 575.85C281.01 576.61 281.62 577.4 282.23 578.2C282.84 578.99 283.42 579.8 284 580.62C284.58 581.43 285.15 582.26 285.7 583.09C286.26 583.92 286.8 584.77 287.34 585.61C287.88 586.45 288.42 587.29 288.97 588.13C289.51 588.97 290.05 589.81 290.59 590.65C291.14 591.49 291.68 592.33 292.24 593.16C292.79 594 293.34 594.83 293.91 595.66C294.47 596.48 295.04 597.31 295.61 598.13C296.19 598.94 296.77 599.76 297.36 600.57C297.95 601.38 298.53 602.19 299.15 602.98C299.76 603.77 300.38 604.55 301.04 605.3C301.7 606.06 302.38 606.79 303.09 607.49C303.8 608.2 304.53 608.88 305.31 609.52C306.08 610.15 306.87 610.78 307.72 611.29C308.57 611.81 309.48 612.25 310.4 612.62C311.32 612.98 312.29 613.36 313.26 613.5C314.23 613.64 315.24 613.62 316.21 613.46C317.17 613.3 318.15 612.95 319.04 612.52C319.93 612.09 320.78 611.52 321.52 610.88C322.27 610.24 322.91 609.45 323.53 608.67C324.15 607.88 324.7 607.04 325.23 606.19C325.76 605.35 326.23 604.46 326.71 603.58C327.18 602.7 327.62 601.8 328.07 600.91C328.52 600.02 328.97 599.12 329.41 598.23C329.86 597.33 330.29 596.42 330.72 595.52C331.15 594.62 331.57 593.71 332 592.81C332.43 591.91 332.87 591.01 333.32 590.11C333.77 589.22 334.23 588.33 334.7 587.44C335.16 586.56 335.63 585.68 336.1 584.79C336.58 583.91 337.06 583.04 337.54 582.16C338.02 581.28 338.5 580.4 338.98 579.53C339.47 578.65 339.95 577.78 340.44 576.9C340.94 576.03 341.43 575.16 341.94 574.3C342.45 573.44 342.98 572.59 343.51 571.75C344.05 570.9 344.59 570.06 345.15 569.23C345.72 568.41 346.29 567.58 346.89 566.78C347.49 565.98 348.11 565.2 348.76 564.44C349.4 563.68 350.07 562.92 350.78 562.22C351.49 561.52 352.22 560.83 353.01 560.23C353.8 559.62 354.65 559.08 355.52 558.59C356.39 558.1 357.3 557.66 358.22 557.28C359.14 556.91 360.1 556.59 361.06 556.33C362.02 556.08 363.01 555.9 364 555.75C364.99 555.59 365.99 555.51 366.98 555.42C367.98 555.32 368.98 555.25 369.97 555.18C370.97 555.12 371.97 555.07 372.97 555.03C373.97 554.98 374.97 554.95 375.97 554.94C376.97 554.92 377.97 554.92 378.97 554.92C379.97 554.91 381.14 554.92 381.97 554.93C382.81 554.93 383.64 554.94 383.98 554.94"/>
</g>
<g fill="#000">
<path d="M497.15 587.6l-1.38 2.38h-2.75l-1.38 -2.38l1.38 -2.38h2.75zM502.75 586l-1.38 2.38h-2.75l-1.38 -2.38l1.38 -2.38h2.75zM508.35 585.4l-1.38 2.38h-2.75l-1.38 -2.38l1.38 -2.38h2.75zM513.75 587.6l-1.38 2.38h-2.75l-1.38 -2.38l1.38 -2.38h2.75zM519.35 592.4l-1.38 2.38h-2.75l-1.38 -2.38l1.38 -2.38h2.75zM524.95 598l-1.38 2.38h-2.75l-1.38 -2.38l1.38 -2.38h2.75zM530.55 602.4l-1.38 2.38h-2.75l-1.38 -2.38l1.38 -2.38h2.75zM535.95 606.6l-1.38 2.38h-2.75l-1.38 -2.38l1.38 -2.38h2.75zM541.55 612l-1.38 2.38h-2.75l-1.38 -2.38l1.38 -2.38h2.75zM547.15 615.4l-1.38 2.38h-2.75l-1.38 -2.38l1.38 -2.38h2.75zM552.75 615.6l-1.38 2.38h-2.75l-1.38 -2.38l1.38 -2.38h2.75zM558.35 613.4l-1.38 2.38h-2.75l-1.38 -2.38l1.38 -2.38h2.75zM563.75 612l-1.38 2.38h-2.75l-1.38 -2.38l1.38 -2.38h2.75zM569.35 611.4l-1.38 2.38h-2.75l-1.38 -2.38l1.38 -2.38h2.75zM574.95 609l-1.38 2.38h-2.75l-1.38 -2.38l1.38 -2.38h2.75zM580.35 603.4l-1.38 2.38h-2.75l-1.38 -2.38l1.38 -2.38h2.75zM585.95 597.4l-1.38 2.38h-2.75l-1.38 -2.38l1.38 -2.38h2.75zM591.55 592.6l-1.38 2.38h-2.75l-1.38 -2.38l1.38 -2.38h2.75zM596.95 589.6l-1.38 2.38h-2.75l-1.38 -2.38l1.38 -2.38h2.75zM602.55 587.6l-1.38 2.38h-2.75l-1.38 -2.38l1.38 -2.38h2.75zM608.15 587.2l-1.38 2.38h-2.75l-1.38 -2.38l1.38 -2.38h2.75zM613.75 586.2l-1.38 2.38h-2.75l-1.38 -2.38l1.38 -2.38h2.75zM619.15 584.6l-1.38 2.38h-2.75l-1.38 -2.38l1.38 -2.38h2.75zM624.75 587.2l-1.38 2.38h-2.75l-1.38 -2.38l1.38 -2.38h2.75zM630.35 591.2l-1.38 2.38h-2.75l-1.38 -2.38l1.38 -2.38h2.75zM635.75 592l-1.38 2.38h-2.75l-1.38 -2.38l1.38 -2.38h2.75zM641.35 591l-1.38 2.38h-2.75l-1.38 -2.38l1.38 -2.38h2.75zM646.75 591.2l-1.38 2.38h-2.75l-1.38 -2.38l1.38 -2.38h2.75zM652.35 593l-1.38 2.38h-2.75l-1.38 -2.38l1.38 -2.38h2.75zM657.95 596l-1.38 2.38h-2.75l-1.38 -2.38l1.38 -2.38h2.75zM663.55 598l-1.38 2.38h-2.75l-1.38 -2.38l1.38 -2.38h2.75zM668.95 599.6l-1.38 2.38h-2.75l-1.38 -2.38l1.38 -2.38h2.75zM674.55 601.2l-1.38 2.38h-2.75l-1.38 -2.38l1.38 -2.38h2.75zM680.15 603.6l-1.38 2.38h-2.75l-1.38 -2.38l1.38 -2.38h2.75zM685.75 605.4l-1.38 2.38h-2.75l-1.38 -2.38l1.38 -2.38h2.75zM691.15 605.6l-1.38 2.38h-2.75l-1.38 -2.38l1.38 -2.38h2.75zM696.75 606l-1.38 2.38h-2.75l-1.38 -2.38l1.38 -2.38h2.75zM702.35 608.4l-1.38 2.38h-2.75l-1.38 -2.38l1.38 -2.38h2.75zM707.95 610.4l-1.38 2.38h-2.75l-1.38 -2.38l1.38 -2.38h2.75zM713.55 608.4l-1.38 2.38h-2.75l-1.38 -2.38l1.38 -2.38h2.75zM718.95 605.4l-1.38 2.38h-2.75l-1.38 -2.38l1.38 -2.38h2.75zM724.55 604l-1.38 2.38h-2.75l-1.38 -2.38l1.38 -2.38h2.75zM730.15 604.6l-1.38 2.38h-2.75l-1.38 -2.38l1.38 -2.38h2.75zM735.75 601.6l-1.38 2.38h-2.75l-1.38 -2.38l1.38 -2.38h2.75zM741.15 593.4l-1.38 2.38h-2.75l-1.38 -2.38l1.38 -2.38h2.75zM746.75 586.6l-1.38 2.38h-2.75l-1.38 -2.38l1.38 -2.38h2.75zM752.35 584.6l-1.38 2.38h-2.75l-1.38 -2.38l1.38 -2.38h2.75zM757.95 581.4l-1.38 2.38h-2.75l-1.38 -2.38l1.38 -2.38h2.75zM763.35 575l-1.38 2.38h-2.75l-1.38 -2.38l1.38 -2.38h2.75zM768.95 566.4l-1.38 2.38h-2.75l-1.38 -2.38l1.38 -2.38h2.75zM774.55 560.8l-1.38 2.38h-2.75l-1.38 -2.38l1.38 -2.38h2.75zM780.15 558l-1.38 2.38h-2.75l-1.38 -2.38l1.38 -2.38h2.75zM785.75 556.6l-1.38 2.38h-2.75l-1.38 -2.38l1.38 -2.38h2.75z"/>
</g>
<g clip-path="url(#c6)" fill="none" stroke-width="1" stroke-linejoin="round">
<path stroke="#0000ff" d="M493.37 573.31C493.85 573.44 495.31 573.8 496.26 574.1C497.21 574.41 498.15 574.74 499.06 575.14C499.96 575.55 500.85 576.01 501.7 576.53C502.54 577.05 503.35 577.64 504.14 578.25C504.92 578.86 505.68 579.52 506.42 580.19C507.17 580.85 507.89 581.54 508.61 582.24C509.32 582.94 510.02 583.65 510.71 584.38C511.4 585.1 512.07 585.84 512.74 586.59C513.4 587.34 514.05 588.1 514.69 588.87C515.34 589.63 515.98 590.4 516.62 591.17C517.26 591.94 517.9 592.71 518.54 593.48C519.18 594.25 519.82 595.01 520.47 595.77C521.12 596.53 521.78 597.28 522.45 598.03C523.12 598.77 523.8 599.5 524.49 600.23C525.17 600.96 525.86 601.69 526.56 602.41C527.25 603.12 527.95 603.84 528.66 604.54C529.38 605.24 530.1 605.94 530.84 606.61C531.58 607.28 532.34 607.93 533.11 608.56C533.89 609.19 534.68 609.8 535.49 610.39C536.3 610.97 537.12 611.54 537.97 612.06C538.82 612.58 539.69 613.08 540.59 613.5C541.49 613.92 542.42 614.28 543.37 614.58C544.32 614.87 545.29 615.1 546.27 615.26C547.25 615.43 548.24 615.53 549.24 615.57C550.23 615.62 551.23 615.59 552.22 615.51C553.21 615.44 554.2 615.3 555.18 615.11C556.16 614.93 557.13 614.69 558.08 614.4C559.03 614.11 559.97 613.76 560.89 613.37C561.8 612.98 562.7 612.53 563.58 612.07C564.46 611.6 565.33 611.1 566.19 610.59C567.04 610.07 567.89 609.53 568.71 608.97C569.54 608.41 570.35 607.82 571.14 607.21C571.93 606.6 572.71 605.97 573.47 605.32C574.23 604.68 574.97 604 575.71 603.33C576.45 602.65 577.17 601.96 577.9 601.28C578.63 600.59 579.37 599.91 580.11 599.24C580.85 598.57 581.6 597.91 582.35 597.25C583.1 596.59 583.85 595.92 584.6 595.26C585.35 594.59 586.08 593.91 586.84 593.27C587.61 592.63 588.37 591.98 589.19 591.41C590 590.85 590.85 590.32 591.73 589.86C592.6 589.4 593.52 589 594.45 588.64C595.38 588.28 596.33 587.97 597.29 587.71C598.25 587.45 599.23 587.25 600.21 587.08C601.2 586.92 602.19 586.82 603.19 586.74C604.18 586.66 605.18 586.63 606.18 586.62C607.18 586.62 608.18 586.65 609.17 586.72C610.17 586.79 611.16 586.89 612.15 587.04C613.14 587.19 614.12 587.39 615.09 587.62C616.06 587.84 617.03 588.11 617.99 588.38C618.95 588.66 619.9 588.96 620.86 589.26C621.81 589.56 622.76 589.88 623.72 590.16C624.68 590.44 625.64 590.71 626.61 590.95C627.58 591.18 628.56 591.38 629.54 591.57C630.53 591.76 631.51 591.92 632.5 592.08C633.49 592.24 634.48 592.39 635.47 592.52C636.46 592.65 637.45 592.76 638.45 592.85C639.45 592.94 640.44 593 641.44 593.06C642.44 593.11 643.44 593.14 644.44 593.17C645.44 593.2 646.44 593.22 647.44 593.22C648.44 593.23 649.44 593.22 650.44 593.2C651.44 593.18 652.44 593.13 653.44 593.08C654.44 593.02 655.44 592.93 656.43 592.85C657.43 592.77 658.43 592.68 659.42 592.6C660.42 592.52 661.42 592.45 662.41 592.36C663.41 592.27 664.41 592.18 665.4 592.06C666.39 591.94 667.38 591.79 668.37 591.64C669.35 591.48 670.34 591.28 671.32 591.13C672.31 590.98 673.3 590.83 674.29 590.73C675.29 590.63 676.29 590.57 677.28 590.51C678.28 590.46 679.28 590.44 680.28 590.42C681.28 590.4 682.28 590.4 683.28 590.41C684.28 590.42 685.28 590.45 686.28 590.49C687.28 590.53 688.28 590.59 689.28 590.67C690.27 590.75 691.27 590.85 692.26 590.98C693.25 591.11 694.24 591.27 695.23 591.42C696.21 591.58 697.2 591.76 698.19 591.93C699.17 592.09 700.16 592.27 701.14 592.43C702.13 592.59 703.12 592.75 704.11 592.89C705.1 593.02 706.09 593.15 707.09 593.24C708.08 593.33 709.08 593.41 710.08 593.44C711.07 593.46 712.07 593.45 713.07 593.39C714.06 593.33 715.06 593.21 716.04 593.07C717.03 592.92 718.02 592.74 718.99 592.52C719.97 592.31 720.93 592.06 721.89 591.78C722.85 591.5 723.8 591.18 724.74 590.84C725.67 590.49 726.6 590.11 727.52 589.71C728.43 589.31 729.33 588.88 730.22 588.43C731.12 587.98 732 587.51 732.87 587.02C733.75 586.54 734.61 586.03 735.47 585.52C736.33 585 737.18 584.47 738.02 583.94C738.87 583.4 739.71 582.86 740.54 582.3C741.37 581.75 742.2 581.18 743.02 580.61C743.83 580.03 744.65 579.45 745.45 578.86C746.26 578.27 747.06 577.66 747.86 577.06C748.66 576.46 749.46 575.86 750.26 575.26C751.06 574.67 751.87 574.07 752.68 573.48C753.49 572.89 754.3 572.31 755.11 571.72C755.92 571.13 756.73 570.55 757.55 569.97C758.36 569.39 759.18 568.81 760 568.24C760.82 567.67 761.65 567.1 762.48 566.55C763.31 565.99 764.14 565.44 764.99 564.9C765.83 564.36 766.67 563.83 767.53 563.3C768.38 562.78 769.24 562.26 770.11 561.77C770.97 561.27 771.85 560.79 772.74 560.33C773.63 559.88 774.53 559.44 775.45 559.05C776.37 558.66 777.3 558.31 778.25 558C779.19 557.69 780.16 557.44 781.13 557.19C782.1 556.95 783.16 556.73 784.06 556.53C784.95 556.34 786.1 556.11 786.51 556.02"/>
<path stroke="#00ff00" d="M493.37 573.31C493.86 573.44 495.32 573.8 496.26 574.1C497.21 574.41 498.16 574.74 499.06 575.14C499.97 575.55 500.85 576.02 501.7 576.53C502.55 577.05 503.35 577.64 504.14 578.25C504.93 578.86 505.68 579.53 506.43 580.19C507.17 580.86 507.9 581.55 508.61 582.25C509.33 582.95 510.03 583.66 510.72 584.39C511.41 585.11 512.08 585.85 512.75 586.6C513.41 587.35 514.06 588.12 514.7 588.88C515.35 589.64 515.99 590.41 516.63 591.18C517.27 591.95 517.91 592.72 518.55 593.49C519.19 594.26 519.83 595.03 520.49 595.79C521.14 596.55 521.8 597.3 522.47 598.04C523.14 598.79 523.82 599.52 524.5 600.25C525.19 600.98 525.88 601.71 526.58 602.42C527.27 603.14 527.97 603.86 528.68 604.56C529.4 605.26 530.12 605.96 530.86 606.63C531.6 607.3 532.36 607.95 533.14 608.58C533.91 609.21 534.71 609.82 535.52 610.41C536.33 610.99 537.15 611.56 538 612.08C538.86 612.6 539.73 613.1 540.63 613.51C541.53 613.93 542.46 614.29 543.41 614.59C544.35 614.88 545.33 615.11 546.31 615.27C547.29 615.44 548.29 615.54 549.28 615.58C550.27 615.62 551.27 615.59 552.26 615.51C553.26 615.43 554.25 615.29 555.23 615.1C556.2 614.92 557.18 614.68 558.13 614.38C559.08 614.09 560.02 613.74 560.93 613.35C561.85 612.96 562.74 612.51 563.63 612.04C564.51 611.58 565.38 611.08 566.24 610.56C567.09 610.04 567.93 609.5 568.76 608.94C569.59 608.38 570.39 607.79 571.19 607.18C571.98 606.57 572.75 605.93 573.52 605.28C574.28 604.64 575.02 603.96 575.75 603.29C576.49 602.61 577.21 601.91 577.95 601.23C578.68 600.55 579.41 599.87 580.16 599.2C580.9 598.53 581.65 597.87 582.4 597.21C583.15 596.54 583.9 595.88 584.65 595.21C585.4 594.55 586.13 593.87 586.9 593.23C587.66 592.59 588.43 591.94 589.24 591.37C590.06 590.81 590.91 590.29 591.79 589.83C592.67 589.37 593.59 588.97 594.52 588.61C595.45 588.26 596.4 587.95 597.37 587.69C598.33 587.43 599.31 587.23 600.29 587.07C601.28 586.91 602.27 586.81 603.27 586.73C604.26 586.66 605.26 586.62 606.26 586.62C607.26 586.62 608.26 586.65 609.26 586.72C610.25 586.8 611.25 586.91 612.23 587.06C613.22 587.21 614.2 587.41 615.17 587.64C616.15 587.86 617.11 588.13 618.07 588.41C619.04 588.68 619.99 588.99 620.95 589.28C621.9 589.58 622.85 589.9 623.81 590.19C624.77 590.48 625.72 590.77 626.69 591.04C627.65 591.3 628.62 591.54 629.6 591.77C630.57 592 631.55 592.21 632.53 592.42C633.51 592.62 634.49 592.82 635.48 593.01C636.46 593.2 637.44 593.38 638.43 593.56C639.41 593.73 640.4 593.9 641.39 594.06C642.38 594.23 643.36 594.39 644.35 594.55C645.34 594.72 646.33 594.88 647.31 595.05C648.3 595.21 649.29 595.37 650.28 595.54C651.26 595.7 652.25 595.87 653.24 596.04C654.23 596.2 655.21 596.37 656.2 596.53C657.19 596.69 658.18 596.85 659.17 596.99C660.16 597.14 661.15 597.27 662.14 597.41C663.13 597.55 664.13 597.67 665.11 597.83C666.1 598 667.08 598.18 668.06 598.39C669.04 598.59 670.01 598.83 670.99 599.05C671.97 599.28 672.94 599.51 673.92 599.72C674.89 599.94 675.88 600.13 676.86 600.34C677.84 600.55 678.82 600.75 679.79 600.97C680.77 601.18 681.74 601.41 682.72 601.65C683.69 601.88 684.66 602.12 685.63 602.37C686.6 602.61 687.57 602.86 688.54 603.11C689.51 603.37 690.48 603.62 691.45 603.88C692.41 604.14 693.38 604.4 694.35 604.66C695.31 604.92 696.28 605.18 697.25 605.44C698.21 605.7 699.18 605.97 700.14 606.23C701.11 606.49 702.08 606.75 703.05 606.98C704.02 607.21 705 607.44 705.98 607.63C706.96 607.81 707.95 607.98 708.94 608.09C709.93 608.19 710.93 608.26 711.92 608.26C712.92 608.26 713.92 608.19 714.91 608.08C715.9 607.97 716.89 607.8 717.86 607.6C718.84 607.39 719.81 607.15 720.77 606.86C721.72 606.58 722.67 606.25 723.59 605.88C724.52 605.51 725.43 605.09 726.32 604.65C727.22 604.2 728.09 603.71 728.94 603.2C729.8 602.68 730.63 602.12 731.44 601.54C732.25 600.95 733.03 600.33 733.81 599.7C734.58 599.07 735.33 598.4 736.09 597.75C736.84 597.09 737.59 596.42 738.33 595.75C739.07 595.07 739.81 594.4 740.54 593.72C741.27 593.03 742 592.34 742.72 591.65C743.44 590.95 744.15 590.25 744.86 589.54C745.57 588.84 746.27 588.12 746.98 587.41C747.68 586.7 748.38 585.98 749.08 585.27C749.78 584.55 750.48 583.84 751.18 583.12C751.88 582.4 752.58 581.68 753.27 580.97C753.97 580.25 754.67 579.53 755.37 578.82C756.07 578.1 756.77 577.38 757.47 576.67C758.17 575.96 758.88 575.25 759.59 574.54C760.31 573.84 761.03 573.15 761.76 572.46C762.48 571.77 763.22 571.1 763.96 570.42C764.7 569.75 765.45 569.09 766.21 568.43C766.97 567.78 767.73 567.13 768.5 566.49C769.27 565.86 770.05 565.23 770.85 564.62C771.65 564.02 772.45 563.43 773.28 562.87C774.11 562.31 774.96 561.77 775.82 561.28C776.69 560.79 777.58 560.34 778.49 559.93C779.4 559.52 780.34 559.16 781.27 558.82C782.21 558.47 783.25 558.15 784.12 557.86C784.99 557.58 786.11 557.23 786.51 557.11"/>
<path stroke="#ff0000" d="M493.37 573.31C493.86 573.44 495.31 573.8 496.26 574.1C497.21 574.41 498.15 574.74 499.06 575.14C499.97 575.55 500.85 576.01 501.7 576.53C502.55 577.05 503.35 577.64 504.14 578.25C504.93 578.86 505.68 579.53 506.43 580.19C507.17 580.86 507.9 581.55 508.61 582.25C509.33 582.94 510.03 583.66 510.72 584.38C511.41 585.11 512.08 585.85 512.74 586.6C513.41 587.35 514.05 588.11 514.7 588.88C515.35 589.64 515.99 590.41 516.63 591.18C517.27 591.95 517.91 592.72 518.55 593.49C519.19 594.26 519.83 595.03 520.48 595.79C521.13 596.54 521.79 597.3 522.46 598.04C523.13 598.78 523.82 599.52 524.5 600.25C525.18 600.98 525.88 601.7 526.57 602.42C527.27 603.14 527.97 603.86 528.68 604.56C529.39 605.26 530.11 605.96 530.85 606.63C531.6 607.3 532.36 607.95 533.13 608.58C533.91 609.21 534.7 609.82 535.51 610.4C536.32 610.99 537.15 611.56 538 612.08C538.85 612.59 539.72 613.09 540.62 613.51C541.52 613.93 542.45 614.29 543.4 614.58C544.34 614.88 545.32 615.1 546.3 615.27C547.28 615.43 548.28 615.53 549.27 615.58C550.26 615.62 551.26 615.59 552.25 615.51C553.25 615.43 554.24 615.29 555.22 615.11C556.19 614.92 557.17 614.68 558.12 614.39C559.07 614.1 560 613.74 560.92 613.35C561.84 612.96 562.73 612.51 563.62 612.05C564.5 611.58 565.37 611.08 566.22 610.57C567.08 610.05 567.92 609.51 568.75 608.95C569.57 608.38 570.38 607.79 571.18 607.19C571.97 606.58 572.74 605.94 573.5 605.29C574.27 604.65 575.01 603.97 575.74 603.3C576.48 602.62 577.2 601.92 577.93 601.24C578.67 600.56 579.4 599.88 580.14 599.21C580.89 598.54 581.64 597.88 582.39 597.22C583.14 596.55 583.89 595.89 584.63 595.22C585.38 594.56 586.12 593.88 586.88 593.24C587.65 592.6 588.41 591.95 589.23 591.38C590.04 590.82 590.9 590.3 591.78 589.83C592.65 589.37 593.58 588.98 594.5 588.62C595.43 588.26 596.39 587.95 597.35 587.69C598.31 587.44 599.29 587.24 600.27 587.08C601.26 586.92 602.25 586.81 603.25 586.73C604.24 586.66 605.24 586.62 606.24 586.62C607.24 586.62 608.24 586.65 609.24 586.72C610.23 586.79 611.23 586.9 612.21 587.05C613.2 587.21 614.18 587.41 615.15 587.63C616.13 587.86 617.09 588.13 618.05 588.4C619.02 588.67 619.97 588.98 620.93 589.27C621.88 589.57 622.83 589.89 623.79 590.19C624.74 590.49 625.69 590.79 626.65 591.09C627.61 591.38 628.57 591.67 629.52 591.96C630.48 592.25 631.44 592.53 632.4 592.82C633.36 593.1 634.32 593.39 635.28 593.68C636.24 593.97 637.19 594.27 638.15 594.57C639.1 594.88 640.05 595.19 641 595.51C641.95 595.82 642.9 596.14 643.85 596.46C644.8 596.78 645.75 597.09 646.7 597.41C647.65 597.73 648.59 598.05 649.54 598.36C650.49 598.68 651.44 599 652.39 599.31C653.34 599.63 654.29 599.94 655.24 600.26C656.19 600.58 657.14 600.89 658.09 601.21C659.04 601.53 659.99 601.84 660.94 602.16C661.89 602.48 662.84 602.79 663.79 603.11C664.74 603.42 665.69 603.74 666.64 604.05C667.59 604.37 668.54 604.67 669.49 604.99C670.44 605.31 671.39 605.64 672.33 605.98C673.26 606.33 674.19 606.7 675.12 607.09C676.04 607.47 676.95 607.88 677.86 608.3C678.77 608.72 679.67 609.15 680.57 609.59C681.47 610.03 682.37 610.47 683.26 610.93C684.15 611.38 685.04 611.85 685.92 612.31C686.81 612.78 687.69 613.26 688.57 613.73C689.45 614.2 690.33 614.68 691.22 615.15C692.11 615.61 692.99 616.08 693.89 616.52C694.78 616.97 695.68 617.41 696.6 617.81C697.51 618.21 698.44 618.6 699.37 618.94C700.31 619.29 701.26 619.61 702.22 619.9C703.17 620.18 704.14 620.43 705.12 620.65C706.09 620.87 707.07 621.07 708.06 621.24C709.04 621.4 710.03 621.57 711.01 621.65C712 621.72 713 621.75 713.99 621.68C714.97 621.62 715.96 621.47 716.93 621.26C717.9 621.05 718.86 620.77 719.8 620.44C720.73 620.1 721.65 619.7 722.55 619.26C723.44 618.82 724.31 618.33 725.16 617.81C726.02 617.29 726.84 616.73 727.66 616.15C728.47 615.57 729.26 614.95 730.05 614.33C730.83 613.71 731.59 613.06 732.35 612.41C733.11 611.76 733.85 611.09 734.59 610.41C735.32 609.73 736.04 609.03 736.75 608.33C737.47 607.63 738.16 606.91 738.86 606.19C739.55 605.46 740.22 604.73 740.9 603.98C741.57 603.24 742.23 602.49 742.88 601.73C743.53 600.97 744.17 600.2 744.8 599.42C745.43 598.64 746.04 597.85 746.66 597.06C747.27 596.27 747.87 595.47 748.48 594.68C749.08 593.88 749.69 593.08 750.29 592.28C750.9 591.49 751.51 590.69 752.11 589.89C752.72 589.1 753.33 588.3 753.94 587.51C754.55 586.72 755.17 585.93 755.79 585.14C756.41 584.36 757.04 583.58 757.67 582.8C758.3 582.03 758.94 581.25 759.58 580.49C760.22 579.72 760.87 578.96 761.53 578.2C762.18 577.44 762.84 576.69 763.51 575.95C764.18 575.2 764.86 574.47 765.54 573.73C766.22 573 766.9 572.27 767.59 571.54C768.28 570.82 768.97 570.09 769.67 569.38C770.38 568.66 771.08 567.95 771.8 567.26C772.52 566.56 773.25 565.88 774.01 565.23C774.76 564.57 775.53 563.93 776.34 563.34C777.14 562.75 777.97 562.19 778.82 561.68C779.68 561.17 780.57 560.72 781.47 560.28C782.36 559.84 783.36 559.42 784.2 559.05C785.04 558.68 786.12 558.24 786.51 558.07"/>
</g>
<path d="M90 45H384V247.75H90M493 45H786.5V247.75H493ZM90 291.85H384V494.5H90M493 291.85H786.5V494.5H493ZM90 538.4H384V741.45H90M493 538.4H786.5V741.45H493Z" fill="none" stroke="#000" stroke-width="1"/>
<path d="M90.5 45V247.75M90.5 291.85V494.5M90.5 538.4V741.45" fill="none" stroke="#000" stroke-opacity="0.62" stroke-width="1"/>
<path d="M102.73 247.75v-6.2M102.73 45v6.2M127.19 247.75v-6.2M127.19 45v6.2M151.65 247.75v-6.2M151.65 45v6.2M176.1 247.75v-6.2M176.1 45v6.2M200.56 247.75v-12.4M200.56 45v12.4M225.02 247.75v-6.2M225.02 45v6.2M249.48 247.75v-6.2M249.48 45v6.2M273.94 247.75v-6.2M273.94 45v6.2M298.4 247.75v-6.2M298.4 45v6.2M322.85 247.75v-12.4M322.85 45v12.4M347.31 247.75v-6.2M347.31 45v6.2M371.77 247.75v-6.2M371.77 45v6.2M90.5 247.75h5.8M384 247.75h-5.8M90.5 237.08h11.6M384 237.08h-11.6M90.5 226.41h5.8M384 226.41h-5.8M90.5 215.74h5.8M384 215.74h-5.8M90.5 205.07h5.8M384 205.07h-5.8M90.5 194.39h11.6M384 194.39h-11.6M90.5 183.72h5.8M384 183.72h-5.8M90.5 173.05h5.8M384 173.05h-5.8M90.5 162.38h5.8M384 162.38h-5.8M90.5 151.71h11.6M384 151.71h-11.6M90.5 141.04h5.8M384 141.04h-5.8M90.5 130.37h5.8M384 130.37h-5.8M90.5 119.7h5.8M384 119.7h-5.8M90.5 109.03h11.6M384 109.03h-11.6M90.5 98.36h5.8M384 98.36h-5.8M90.5 87.68h5.8M384 87.68h-5.8M90.5 77.01h5.8M384 77.01h-5.8M90.5 66.34h11.6M384 66.34h-11.6M90.5 55.67h5.8M384 55.67h-5.8M505.23 247.75v-6.2M505.23 45v6.2M529.69 247.75v-6.2M529.69 45v6.2M554.15 247.75v-6.2M554.15 45v6.2M578.6 247.75v-6.2M578.6 45v6.2M603.06 247.75v-12.4M603.06 45v12.4M627.52 247.75v-6.2M627.52 45v6.2M651.98 247.75v-6.2M651.98 45v6.2M676.44 247.75v-6.2M676.44 45v6.2M700.9 247.75v-6.2M700.9 45v6.2M725.35 247.75v-12.4M725.35 45v12.4M749.81 247.75v-6.2M749.81 45v6.2M774.27 247.75v-6.2M774.27 45v6.2M493 247.75h11.6M786.5 247.75h-11.6M493 236.49h5.8M786.5 236.49h-5.8M493 225.22h5.8M786.5 225.22h-5.8M493 213.96h5.8M786.5 213.96h-5.8M493 202.69h11.6M786.5 202.69h-11.6M493 191.43h5.8M786.5 191.43h-5.8M493 180.17h5.8M786.5 180.17h-5.8M493 168.9h5.8M786.5 168.9h-5.8M493 157.64h11.6M786.5 157.64h-11.6M493 146.38h5.8M786.5 146.38h-5.8M493 135.11h5.8M786.5 135.11h-5.8M493 123.85h5.8M786.5 123.85h-5.8M493 112.58h11.6M786.5 112.58h-11.6M493 101.32h5.8M786.5 101.32h-5.8M493 90.06h5.8M786.5 90.06h-5.8M493 78.79h5.8M786.5 78.79h-5.8M493 67.53h11.6M786.5 67.53h-11.6M493 56.26h5.8M786.5 56.26h-5.8M99.97 494.5v-12.4M99.97 291.85v12.4M118.9 494.5v-6.2M118.9 291.85v6.2M137.84 494.5v-6.2M137.84 291.85v6.2M156.77 494.5v-6.2M156.77 291.85v6.2M175.71 494.5v-6.2M175.71 291.85v6.2M194.65 494.5v-12.4M194.65 291.85v12.4M213.58 494.5v-6.2M213.58 291.85v6.2M232.52 494.5v-6.2M232.52 291.85v6.2M251.45 494.5v-6.2M251.45 291.85v6.2M270.39 494.5v-6.2M270.39 291.85v6.2M289.32 494.5v-12.4M289.32 291.85v12.4M308.26 494.5v-6.2M308.26 291.85v6.2M327.19 494.5v-6.2M327.19 291.85v6.2M346.13 494.5v-6.2M346.13 291.85v6.2M365.06 494.5v-6.2M365.06 291.85v6.2M90.5 494.5h5.8M384 494.5h-5.8M90.5 478.91h5.8M384 478.91h-5.8M90.5 463.32h11.6M384 463.32h-11.6M90.5 447.73h5.8M384 447.73h-5.8M90.5 432.15h5.8M384 432.15h-5.8M90.5 416.56h5.8M384 416.56h-5.8M90.5 400.97h5.8M384 400.97h-5.8M90.5 385.38h11.6M384 385.38h-11.6M90.5 369.79h5.8M384 369.79h-5.8M90.5 354.2h5.8M384 354.2h-5.8M90.5 338.62h5.8M384 338.62h-5.8M90.5 323.03h5.8M384 323.03h-5.8M90.5 307.44h11.6M384 307.44h-11.6M502.47 494.5v-12.4M502.47 291.85v12.4M521.4 494.5v-6.2M521.4 291.85v6.2M540.34 494.5v-6.2M540.34 291.85v6.2M559.27 494.5v-6.2M559.27 291.85v6.2M578.21 494.5v-6.2M578.21 291.85v6.2M597.15 494.5v-12.4M597.15 291.85v12.4M616.08 494.5v-6.2M616.08 291.85v6.2M635.02 494.5v-6.2M635.02 291.85v6.2M653.95 494.5v-6.2M653.95 291.85v6.2M672.89 494.5v-6.2M672.89 291.85v6.2M691.82 494.5v-12.4M691.82 291.85v12.4M710.76 494.5v-6.2M710.76 291.85v6.2M729.69 494.5v-6.2M729.69 291.85v6.2M748.63 494.5v-6.2M748.63 291.85v6.2M767.56 494.5v-6.2M767.56 291.85v6.2M493 494.5h5.8M786.5 494.5h-5.8M493 478.91h5.8M786.5 478.91h-5.8M493 463.32h11.6M786.5 463.32h-11.6M493 447.73h5.8M786.5 447.73h-5.8M493 432.15h5.8M786.5 432.15h-5.8M493 416.56h5.8M786.5 416.56h-5.8M493 400.97h5.8M786.5 400.97h-5.8M493 385.38h11.6M786.5 385.38h-11.6M493 369.79h5.8M786.5 369.79h-5.8M493 354.2h5.8M786.5 354.2h-5.8M493 338.62h5.8M786.5 338.62h-5.8M493 323.03h5.8M786.5 323.03h-5.8M493 307.44h11.6M786.5 307.44h-11.6M108.84 741.45v-12.4M108.84 538.4v12.4M127.19 741.45v-6.2M127.19 538.4v6.2M145.53 741.45v-6.2M145.53 538.4v6.2M163.88 741.45v-6.2M163.88 538.4v6.2M182.22 741.45v-6.2M182.22 538.4v6.2M200.56 741.45v-12.4M200.56 538.4v12.4M218.91 741.45v-6.2M218.91 538.4v6.2M237.25 741.45v-6.2M237.25 538.4v6.2M255.59 741.45v-6.2M255.59 538.4v6.2M273.94 741.45v-6.2M273.94 538.4v6.2M292.28 741.45v-12.4M292.28 538.4v12.4M310.63 741.45v-6.2M310.63 538.4v6.2M328.97 741.45v-6.2M328.97 538.4v6.2M347.31 741.45v-6.2M347.31 538.4v6.2M365.66 741.45v-6.2M365.66 538.4v6.2M90.5 741.45h5.8M384 741.45h-5.8M90.5 725.88h5.8M384 725.88h-5.8M90.5 710.3h11.6M384 710.3h-11.6M90.5 694.73h5.8M384 694.73h-5.8M90.5 679.15h5.8M384 679.15h-5.8M90.5 663.58h5.8M384 663.58h-5.8M90.5 648h5.8M384 648h-5.8M90.5 632.43h11.6M384 632.43h-11.6M90.5 616.85h5.8M384 616.85h-5.8M90.5 601.28h5.8M384 601.28h-5.8M90.5 585.7h5.8M384 585.7h-5.8M90.5 570.13h5.8M384 570.13h-5.8M90.5 554.55h11.6M384 554.55h-11.6M511.34 741.45v-12.4M511.34 538.4v12.4M529.69 741.45v-6.2M529.69 538.4v6.2M548.03 741.45v-6.2M548.03 538.4v6.2M566.38 741.45v-6.2M566.38 538.4v6.2M584.72 741.45v-6.2M584.72 538.4v6.2M603.06 741.45v-12.4M603.06 538.4v12.4M621.41 741.45v-6.2M621.41 538.4v6.2M639.75 741.45v-6.2M639.75 538.4v6.2M658.09 741.45v-6.2M658.09 538.4v6.2M676.44 741.45v-6.2M676.44 538.4v6.2M694.78 741.45v-12.4M694.78 538.4v12.4M713.13 741.45v-6.2M713.13 538.4v6.2M731.47 741.45v-6.2M731.47 538.4v6.2M749.81 741.45v-6.2M749.81 538.4v6.2M768.16 741.45v-6.2M768.16 538.4v6.2M493 741.45h5.8M786.5 741.45h-5.8M493 725.88h5.8M786.5 725.88h-5.8M493 710.3h11.6M786.5 710.3h-11.6M493 694.73h5.8M786.5 694.73h-5.8M493 679.15h5.8M786.5 679.15h-5.8M493 663.58h5.8M786.5 663.58h-5.8M493 648h5.8M786.5 648h-5.8M493 632.43h11.6M786.5 632.43h-11.6M493 616.85h5.8M786.5 616.85h-5.8M493 601.28h5.8M786.5 601.28h-5.8M493 585.7h5.8M786.5 585.7h-5.8M493 570.13h5.8M786.5 570.13h-5.8M493 554.55h11.6M786.5 554.55h-11.6" fill="none" stroke="#000" stroke-width="1"/>
<g opacity="0.999">
<text class="t" transform="translate(69.25 75.94) scale(1 1.05)">1</text>
<text class="t" transform="translate(37 118.63) scale(1 1.05)">0.98</text>
<text class="t" transform="translate(37 161.31) scale(1 1.05)">0.96</text>
<text class="t" transform="translate(37 203.99) scale(1 1.05)">0.94</text>
<text class="t" transform="translate(37 246.68) scale(1 1.05)">0.92</text>
<text class="t" transform="translate(471.75 77.13) scale(1 1.05)">1</text>
<text class="t" transform="translate(439.5 122.18) scale(1 1.05)">0.98</text>
<text class="t" transform="translate(439.5 167.24) scale(1 1.05)">0.96</text>
<text class="t" transform="translate(439.5 212.29) scale(1 1.05)">0.94</text>
<text class="t" transform="translate(439.5 257.35) scale(1 1.05)">0.92</text>
<text class="t" transform="translate(69.25 317.04) scale(1 1.05)">1</text>
<text class="t" transform="translate(47.75 394.98) scale(1 1.05)">0.5</text>
<text class="t" transform="translate(69.25 472.92) scale(1 1.05)">0</text>
<text class="t" transform="translate(471.75 317.04) scale(1 1.05)">1</text>
<text class="t" transform="translate(450.25 394.98) scale(1 1.05)">0.5</text>
<text class="t" transform="translate(471.75 472.92) scale(1 1.05)">0</text>
<text class="t" transform="translate(69.25 564.85) scale(1 1.05)">1</text>
<text class="t" transform="translate(47.75 642.73) scale(1 1.05)">0.5</text>
<text class="t" transform="translate(69.25 720.6) scale(1 1.05)">0</text>
<text class="t" transform="translate(471.75 564.85) scale(1 1.05)">1</text>
<text class="t" transform="translate(450.25 642.73) scale(1 1.05)">0.5</text>
<text class="t" transform="translate(471.75 720.6) scale(1 1.05)">0</text>
<text class="t" transform="translate(77.97 524.5) scale(1 1.05)">6707</text>
<text class="t" transform="translate(161.9 524.5) scale(1 1.05)">6707.5</text>
<text class="t" transform="translate(267.32 524.5) scale(1 1.05)">6708</text>
<text class="t" transform="translate(351.25 524.5) scale(1 1.05)">6708.5</text>
<text class="t" transform="translate(480.47 524.5) scale(1 1.05)">6707</text>
<text class="t" transform="translate(564.4 524.5) scale(1 1.05)">6707.5</text>
<text class="t" transform="translate(669.82 524.5) scale(1 1.05)">6708</text>
<text class="t" transform="translate(753.75 524.5) scale(1 1.05)">6708.5</text>
<text class="t" transform="translate(76.09 771.45) scale(1 1.05)">6102.5</text>
<text class="t" transform="translate(178.56 771.45) scale(1 1.05)">6103</text>
<text class="t" transform="translate(259.53 771.45) scale(1 1.05)">6103.5</text>
<text class="t" transform="translate(362 771.45) scale(1 1.05)">6104</text>
<text class="t" transform="translate(478.59 771.45) scale(1 1.05)">6102.5</text>
<text class="t" transform="translate(581.06 771.45) scale(1 1.05)">6103</text>
<text class="t" transform="translate(662.03 771.45) scale(1 1.05)">6103.5</text>
<text class="t" transform="translate(764.5 771.45) scale(1 1.05)">6104</text>
<path fill="none" stroke="#000000" stroke-width="1" stroke-linecap="round" stroke-linejoin="round" d="M152.01 182.82 155.9 182.82M152.01 194.5 155.9 194.5M153.68 182.82 153.68 194.5M154.24 182.82 154.24 194.5M154.24 190.05 161.46 182.82M156.46 187.83 160.91 194.5M157.02 187.83 161.46 194.5M159.24 182.82 162.58 182.82M159.24 194.5 162.58 194.5M164.24 182.82 168.14 182.82M164.24 194.5 168.14 194.5M165.91 182.82 165.91 194.5M166.47 182.82 166.47 194.5M174.81 182.82 173.14 183.38 172.03 184.49 171.47 185.6 170.92 187.27 170.92 190.05 171.47 191.72 172.03 192.83 173.14 193.94 174.81 194.5 173.7 193.94 172.58 192.83 172.03 191.72 171.47 190.05 171.47 187.27 172.03 185.6 172.58 184.49 173.7 183.38 174.81 182.82 175.92 182.82 177.59 183.38 178.7 184.49 179.26 182.82 179.26 186.16 178.7 184.49M174.81 194.5 175.92 194.5 177.59 193.94 178.7 192.83 179.26 191.72M184.26 185.05 185.37 184.49 187.04 182.82 187.04 194.5M184.26 194.5 189.26 194.5M186.48 183.38 186.48 194.5M193.71 193.39 194.27 192.83 195.38 192.83 198.16 194.5 200.38 194.5 200.94 193.94 201.5 192.83 201.5 191.72M193.71 194.5 193.71 192.83 194.27 191.16 195.38 190.05 198.72 188.38 200.38 187.27 200.94 186.16 200.94 185.05 200.38 183.94 199.83 183.38 198.72 182.82 196.49 182.82 194.82 183.38 194.27 183.94 193.71 185.05 193.71 185.6 194.27 186.16 194.82 185.6 194.27 185.05M195.38 192.83 198.16 193.94 199.83 193.94 200.94 193.39 201.5 192.83M196.49 189.5 199.27 188.38 200.94 187.27 201.5 186.16 201.5 185.05 200.94 183.94 200.38 183.38 198.72 182.82M205.39 190.61 205.94 188.94 207.06 187.83 208.72 187.27 209.28 187.27 210.95 187.83 212.06 188.94 212.62 190.61 212.62 191.16 212.06 192.83 210.95 193.94 209.28 194.5 210.39 193.94 211.5 192.83 212.06 191.16 212.06 190.61 211.5 188.94 210.39 187.83 209.28 187.27M208.17 194.5 206.5 193.94 205.39 192.83 204.83 191.16 204.83 187.83 205.39 185.6 205.94 184.49 207.06 183.38 208.72 182.82 210.39 182.82 211.5 183.38 212.06 184.49 212.06 185.05 211.5 185.6 210.95 185.05 211.5 184.49M208.17 194.5 207.06 193.94 205.94 192.83 205.39 191.16 205.39 187.83 205.94 185.6 206.5 184.49 207.61 183.38 208.72 182.82M208.17 194.5 209.28 194.5M219.29 194.5 223.18 194.5M220.96 183.94 220.96 194.5M221.51 194.5 221.51 182.82 215.4 191.16 224.29 191.16M227.63 192.28 228.18 191.72 227.63 191.16 227.07 191.72 227.07 192.28 227.63 193.39 228.18 193.94 229.85 194.5 231.52 194.5 233.19 193.94 234.3 192.83 234.86 191.16 234.86 190.05 234.3 188.38 233.19 187.27 231.52 186.72 229.85 186.72 228.18 187.27 227.07 188.38 228.18 182.82 233.74 182.82 230.96 183.38 228.18 183.38M231.52 186.72 232.63 187.27 233.74 188.38 234.3 190.05 234.3 191.16 233.74 192.83 232.63 193.94 231.52 194.5M239.86 185.05 240.97 184.49 242.64 182.82 242.64 194.5M239.86 194.5 244.86 194.5M242.08 183.38 242.08 194.5M252.65 182.82 250.98 183.38 249.87 185.05 249.31 187.83 249.31 189.5 249.87 192.28 250.98 193.94 252.65 194.5 251.54 193.94 250.98 193.39 250.42 192.28 249.87 189.5 249.87 187.83 250.42 185.05 250.98 183.94 251.54 183.38 252.65 182.82 253.76 182.82 255.43 183.38 256.54 185.05 257.1 187.83 257.1 189.5 256.54 192.28 255.43 193.94 253.76 194.5 254.87 193.94 255.43 193.39 255.98 192.28 256.54 189.5 256.54 187.83 255.98 185.05 255.43 183.94 254.87 183.38 253.76 182.82M252.65 194.5 253.76 194.5M260.43 182.82 260.43 186.16M260.43 185.05 260.99 183.94 262.1 182.82 263.21 182.82 265.99 184.49 263.21 183.38 262.1 183.38 260.99 183.94M263.77 194.5 263.77 191.72 264.32 190.05 264.88 188.94 267.66 186.16 265.44 188.94 264.88 190.05 264.32 191.72 264.32 194.5M265.99 184.49 267.1 184.49 267.66 183.94 268.22 182.82 268.22 184.49 267.66 186.16M104.8 204.76 105.47 204.42 106.47 203.42 106.47 210.43M104.8 210.43 107.8 210.43M106.14 203.76 106.14 210.43M110.47 209.76 110.81 209.43 111.47 209.43 113.14 210.43 114.48 210.43 114.81 210.1 115.14 209.43 115.14 208.76M110.47 210.43 110.47 209.43 110.81 208.43 111.47 207.76 113.48 206.76 114.48 206.09 114.81 205.43 114.81 204.76 114.48 204.09 114.14 203.76 113.48 203.42 112.14 203.42 111.14 203.76 110.81 204.09 110.47 204.76 110.47 205.09 110.81 205.43 111.14 205.09 110.81 204.76M111.47 209.43 113.14 210.1 114.14 210.1 114.81 209.76 115.14 209.43M112.14 207.43 113.81 206.76 114.81 206.09 115.14 205.43 115.14 204.76 114.81 204.09 114.48 203.76 113.48 203.42M121.7 203.92 120.04 204.48 118.92 205.59 118.37 206.7 117.81 208.37 117.81 211.15 118.37 212.82 118.92 213.93 120.04 215.04 121.7 215.6 120.59 215.04 119.48 213.93 118.92 212.82 118.37 211.15 118.37 208.37 118.92 206.7 119.48 205.59 120.59 204.48 121.7 203.92 122.82 203.92 124.48 204.48 125.6 205.59 126.15 203.92 126.15 207.26 125.6 205.59M121.7 215.6 122.82 215.6 124.48 215.04 125.6 213.93 126.15 212.82M128.93 219.49 138.94 201.7M142.05 204.76 142.72 204.42 143.72 203.42 143.72 210.43M142.05 210.43 145.06 210.43M143.39 203.76 143.39 210.43M148.06 204.76 148.39 205.09 148.06 205.43 147.72 205.09 147.72 204.76 148.06 204.09 148.39 203.76 149.39 203.42 150.73 203.42 151.73 203.76 152.06 204.42 152.06 205.43 151.73 206.09 150.73 206.43 149.73 206.43M148.06 209.09 148.39 208.76 148.06 208.43 147.72 208.76 147.72 209.09 148.06 209.76 148.39 210.1 149.39 210.43 150.73 210.43 151.73 210.1 152.06 209.76 152.4 209.09 152.4 208.09 152.06 207.43 151.39 206.76 150.73 206.43 151.39 206.09 151.73 205.43 151.73 204.42 151.39 203.76 150.73 203.42M150.73 210.43 151.39 210.1 151.73 209.76 152.06 209.09 152.06 208.09 151.73 207.09M158.96 203.92 157.29 204.48 156.18 205.59 155.62 206.7 155.06 208.37 155.06 211.15 155.62 212.82 156.18 213.93 157.29 215.04 158.96 215.6 157.84 215.04 156.73 213.93 156.18 212.82 155.62 211.15 155.62 208.37 156.18 206.7 156.73 205.59 157.84 204.48 158.96 203.92 160.07 203.92 161.74 204.48 162.85 205.59 163.4 203.92 163.4 207.26 162.85 205.59M158.96 215.6 160.07 215.6 161.74 215.04 162.85 213.93 163.4 212.82M166.74 211.15 167.3 209.48 168.41 208.93 169.52 208.93 170.63 209.48 172.86 211.15 173.97 211.71 175.08 211.71 176.19 211.15 176.75 210.04 176.19 211.71 175.08 212.26 173.97 212.26 172.86 211.71 170.63 210.04 169.52 209.48 168.41 209.48 167.3 210.04 166.74 211.15 166.74 212.26M176.75 208.93 176.75 210.04M202.88 217.82 203.44 217.27 203.99 216.16 203.99 215.04 203.44 214.49 202.88 215.04 203.44 215.6M202.88 215.04 203.99 215.04M203.44 214.49 203.44 215.6M203.44 215.6 203.99 215.04M228.46 217.82 229.01 217.27 229.57 216.16 229.57 215.04 229.01 214.49 228.46 215.04 229.01 215.6M228.46 215.04 229.57 215.04M229.01 214.49 229.01 215.6M229.01 215.6 229.57 215.04M554.41 190.82 558.3 190.82M554.41 202.5 558.3 202.5M556.08 190.82 556.08 202.5M556.64 190.82 556.64 202.5M556.64 198.05 563.86 190.82M558.86 195.83 563.31 202.5M559.42 195.83 563.86 202.5M561.64 190.82 564.98 190.82M561.64 202.5 564.98 202.5M566.64 190.82 570.54 190.82M566.64 202.5 570.54 202.5M568.31 190.82 568.31 202.5M568.87 190.82 568.87 202.5M577.21 190.82 575.54 191.38 574.43 192.49 573.87 193.6 573.32 195.27 573.32 198.05 573.87 199.72 574.43 200.83 575.54 201.94 577.21 202.5 576.1 201.94 574.98 200.83 574.43 199.72 573.87 198.05 573.87 195.27 574.43 193.6 574.98 192.49 576.1 191.38 577.21 190.82 578.32 190.82 579.99 191.38 581.1 192.49 581.66 190.82 581.66 194.16 581.1 192.49M577.21 202.5 578.32 202.5 579.99 201.94 581.1 200.83 581.66 199.72M584.99 201.39 585.55 200.83 586.66 200.83 589.44 202.5 591.66 202.5 592.22 201.94 592.78 200.83 592.78 199.72M584.99 202.5 584.99 200.83 585.55 199.16 586.66 198.05 590 196.38 591.66 195.27 592.22 194.16 592.22 193.05 591.66 191.94 591.11 191.38 590 190.82 587.77 190.82 586.1 191.38 585.55 191.94 584.99 193.05 584.99 193.6 585.55 194.16 586.1 193.6 585.55 193.05M586.66 200.83 589.44 201.94 591.11 201.94 592.22 201.39 592.78 200.83M587.77 197.5 590.55 196.38 592.22 195.27 592.78 194.16 592.78 193.05 592.22 191.94 591.66 191.38 590 190.82M596.67 193.05 597.22 193.6 596.67 194.16 596.11 193.6 596.11 193.05 596.67 191.94 597.22 191.38 598.89 190.82 601.12 190.82 602.78 191.38 603.34 192.49 603.34 194.16 602.78 195.27 601.12 195.83 599.45 195.83M596.67 200.28 597.22 199.72 596.67 199.16 596.11 199.72 596.11 200.28 596.67 201.39 597.22 201.94 598.89 202.5 601.12 202.5 602.78 201.94 603.34 201.39 603.9 200.28 603.9 198.61 603.34 197.5 602.23 196.38 601.12 195.83 602.23 195.27 602.78 194.16 602.78 192.49 602.23 191.38 601.12 190.82M601.12 202.5 602.23 201.94 602.78 201.39 603.34 200.28 603.34 198.61 602.78 196.94M610.57 190.82 608.9 191.38 607.79 193.05 607.23 195.83 607.23 197.5 607.79 200.28 608.9 201.94 610.57 202.5 609.46 201.94 608.9 201.39 608.34 200.28 607.79 197.5 607.79 195.83 608.34 193.05 608.9 191.94 609.46 191.38 610.57 190.82 611.68 190.82 613.35 191.38 614.46 193.05 615.02 195.83 615.02 197.5 614.46 200.28 613.35 201.94 611.68 202.5 612.79 201.94 613.35 201.39 613.9 200.28 614.46 197.5 614.46 195.83 613.9 193.05 613.35 191.94 612.79 191.38 611.68 190.82M610.57 202.5 611.68 202.5M618.91 200.28 619.46 199.72 618.91 199.16 618.35 199.72 618.35 200.28 618.91 201.39 619.46 201.94 621.13 202.5 622.8 202.5 624.47 201.94 625.58 200.83 626.14 199.16 626.14 198.05 625.58 196.38 624.47 195.27 622.8 194.72 621.13 194.72 619.46 195.27 618.35 196.38 619.46 190.82 625.02 190.82 622.24 191.38 619.46 191.38M622.8 194.72 623.91 195.27 625.02 196.38 625.58 198.05 625.58 199.16 625.02 200.83 623.91 201.94 622.8 202.5M630.58 200.83 631.14 200.28 630.58 199.72 630.03 200.28 630.03 200.83 630.58 201.94 631.7 202.5 633.36 202.5 635.03 201.94 636.14 200.83 636.7 199.72 637.26 197.5 637.26 194.16 636.7 192.49 635.59 191.38 633.92 190.82 635.03 191.38 636.14 192.49 636.7 194.16 636.7 197.5 636.14 199.72 635.59 200.83 634.48 201.94 633.36 202.5M632.81 190.82 631.14 191.38 630.03 192.49 629.47 194.16 629.47 194.72 630.03 196.38 631.14 197.5 632.81 198.05 631.7 197.5 630.58 196.38 630.03 194.72 630.03 194.16 630.58 192.49 631.7 191.38 632.81 190.82 633.92 190.82M632.81 198.05 633.36 198.05 635.03 197.5 636.14 196.38 636.7 194.72M641.15 193.05 641.7 193.6 641.15 194.16 640.59 193.6 640.59 193.05 641.15 191.94 641.7 191.38 643.37 190.82 645.6 190.82 647.26 191.38 647.82 192.49 647.82 194.16 647.26 195.27 645.6 195.83 643.93 195.83M641.15 200.28 641.7 199.72 641.15 199.16 640.59 199.72 640.59 200.28 641.15 201.39 641.7 201.94 643.37 202.5 645.6 202.5 647.26 201.94 647.82 201.39 648.38 200.28 648.38 198.61 647.82 197.5 646.71 196.38 645.6 195.83 646.71 195.27 647.26 194.16 647.26 192.49 646.71 191.38 645.6 190.82M645.6 202.5 646.71 201.94 647.26 201.39 647.82 200.28 647.82 198.61 647.26 196.94M655.05 190.82 653.38 191.38 652.27 193.05 651.71 195.83 651.71 197.5 652.27 200.28 653.38 201.94 655.05 202.5 653.94 201.94 653.38 201.39 652.82 200.28 652.27 197.5 652.27 195.83 652.82 193.05 653.38 191.94 653.94 191.38 655.05 190.82 656.16 190.82 657.83 191.38 658.94 193.05 659.5 195.83 659.5 197.5 658.94 200.28 657.83 201.94 656.16 202.5 657.27 201.94 657.83 201.39 658.38 200.28 658.94 197.5 658.94 195.83 658.38 193.05 657.83 191.94 657.27 191.38 656.16 190.82M655.05 202.5 656.16 202.5M507.3 213.96 507.97 213.62 508.97 212.62 508.97 219.63M507.3 219.63 510.3 219.63M508.64 212.96 508.64 219.63M512.97 218.96 513.31 218.63 513.97 218.63 515.64 219.63 516.98 219.63 517.31 219.3 517.64 218.63 517.64 217.96M512.97 219.63 512.97 218.63 513.31 217.63 513.97 216.96 515.98 215.96 516.98 215.29 517.31 214.63 517.31 213.96 516.98 213.29 516.64 212.96 515.98 212.62 514.64 212.62 513.64 212.96 513.31 213.29 512.97 213.96 512.97 214.29 513.31 214.63 513.64 214.29 513.31 213.96M513.97 218.63 515.64 219.3 516.64 219.3 517.31 218.96 517.64 218.63M514.64 216.63 516.31 215.96 517.31 215.29 517.64 214.63 517.64 213.96 517.31 213.29 516.98 212.96 515.98 212.62M524.2 213.12 522.54 213.68 521.42 214.79 520.87 215.9 520.31 217.57 520.31 220.35 520.87 222.02 521.42 223.13 522.54 224.24 524.2 224.8 523.09 224.24 521.98 223.13 521.42 222.02 520.87 220.35 520.87 217.57 521.42 215.9 521.98 214.79 523.09 213.68 524.2 213.12 525.32 213.12 526.98 213.68 528.1 214.79 528.65 213.12 528.65 216.46 528.1 214.79M524.2 224.8 525.32 224.8 526.98 224.24 528.1 223.13 528.65 222.02M531.43 228.69 541.44 210.9M544.55 213.96 545.22 213.62 546.22 212.62 546.22 219.63M544.55 219.63 547.56 219.63M545.89 212.96 545.89 219.63M550.56 213.96 550.89 214.29 550.56 214.63 550.22 214.29 550.22 213.96 550.56 213.29 550.89 212.96 551.89 212.62 553.23 212.62 554.23 212.96 554.56 213.62 554.56 214.63 554.23 215.29 553.23 215.63 552.23 215.63M550.56 218.29 550.89 217.96 550.56 217.63 550.22 217.96 550.22 218.29 550.56 218.96 550.89 219.3 551.89 219.63 553.23 219.63 554.23 219.3 554.56 218.96 554.9 218.29 554.9 217.29 554.56 216.63 553.89 215.96 553.23 215.63 553.89 215.29 554.23 214.63 554.23 213.62 553.89 212.96 553.23 212.62M553.23 219.63 553.89 219.3 554.23 218.96 554.56 218.29 554.56 217.29 554.23 216.29M561.46 213.12 559.79 213.68 558.68 214.79 558.12 215.9 557.56 217.57 557.56 220.35 558.12 222.02 558.68 223.13 559.79 224.24 561.46 224.8 560.34 224.24 559.23 223.13 558.68 222.02 558.12 220.35 558.12 217.57 558.68 215.9 559.23 214.79 560.34 213.68 561.46 213.12 562.57 213.12 564.24 213.68 565.35 214.79 565.9 213.12 565.9 216.46 565.35 214.79M561.46 224.8 562.57 224.8 564.24 224.24 565.35 223.13 565.9 222.02M569.24 220.35 569.8 218.68 570.91 218.13 572.02 218.13 573.13 218.68 575.36 220.35 576.47 220.91 577.58 220.91 578.69 220.35 579.25 219.24 578.69 220.91 577.58 221.46 576.47 221.46 575.36 220.91 573.13 219.24 572.02 218.68 570.91 218.68 569.8 219.24 569.24 220.35 569.24 221.46M579.25 218.13 579.25 219.24M605.38 227.02 605.94 226.47 606.49 225.36 606.49 224.24 605.94 223.69 605.38 224.24 605.94 224.8M605.38 224.24 606.49 224.24M605.94 223.69 605.94 224.8M605.94 224.8 606.49 224.24M642.08 227.02 642.63 226.47 643.19 225.36 643.19 224.24 642.63 223.69 642.08 224.24 642.63 224.8M642.08 224.24 643.19 224.24M642.63 223.69 642.63 224.8M642.63 224.8 643.19 224.24M152.37 260.65 153.5 260.09 155.18 258.42 155.18 270.1M152.37 270.1 157.43 270.1M154.62 258.98 154.62 270.1M162.49 269.54 163.05 270.1 163.61 269.54 163.05 268.99 162.49 269.54M162.49 269.54 163.61 269.54M163.05 268.99 163.05 270.1M168.11 266.21 168.67 264.54 169.79 263.43 171.48 262.87 172.04 262.87 173.73 263.43 174.85 264.54 175.41 266.21 175.41 266.76 174.85 268.43 173.73 269.54 172.04 270.1 173.17 269.54 174.29 268.43 174.85 266.76 174.85 266.21 174.29 264.54 173.17 263.43 172.04 262.87M170.92 270.1 169.23 269.54 168.11 268.43 167.55 266.76 167.55 263.43 168.11 261.2 168.67 260.09 169.79 258.98 171.48 258.42 173.17 258.42 174.29 258.98 174.85 260.09 174.85 260.65 174.29 261.2 173.73 260.65 174.29 260.09M170.92 270.1 169.79 269.54 168.67 268.43 168.11 266.76 168.11 263.43 168.67 261.2 169.23 260.09 170.36 258.98 171.48 258.42M170.92 270.1 172.04 270.1M178.79 258.42 178.79 261.76M178.79 260.65 179.35 259.54 180.47 258.42 181.6 258.42 184.41 260.09 181.6 258.98 180.47 258.98 179.35 259.54M182.16 270.1 182.16 267.32 182.72 265.65 183.28 264.54 186.09 261.76 183.84 264.54 183.28 265.65 182.72 267.32 182.72 270.1M184.41 260.09 185.53 260.09 186.09 259.54 186.65 258.42 186.65 260.09 186.09 261.76M193.4 270.1 197.33 270.1M195.08 259.54 195.08 270.1M195.65 270.1 195.65 258.42 189.46 266.76 198.46 266.76M201.83 266.21 202.39 264.54 203.51 263.43 205.2 262.87 205.76 262.87 207.45 263.43 208.57 264.54 209.13 266.21 209.13 266.76 208.57 268.43 207.45 269.54 205.76 270.1 206.89 269.54 208.01 268.43 208.57 266.76 208.57 266.21 208.01 264.54 206.89 263.43 205.76 262.87M204.64 270.1 202.95 269.54 201.83 268.43 201.27 266.76 201.27 263.43 201.83 261.2 202.39 260.09 203.51 258.98 205.2 258.42 206.89 258.42 208.01 258.98 208.57 260.09 208.57 260.65 208.01 261.2 207.45 260.65 208.01 260.09M204.64 270.1 203.51 269.54 202.39 268.43 201.83 266.76 201.83 263.43 202.39 261.2 202.95 260.09 204.08 258.98 205.2 258.42M204.64 270.1 205.76 270.1M213.07 261.2 220.94 268.99M220.94 261.2 213.07 268.99M226.56 260.65 227.68 260.09 229.37 258.42 229.37 270.1M226.56 270.1 231.61 270.1M228.8 258.98 228.8 270.1M239.48 258.42 237.8 258.98 236.67 260.65 236.11 263.43 236.11 265.1 236.67 267.88 237.8 269.54 239.48 270.1 238.36 269.54 237.8 268.99 237.23 267.88 236.67 265.1 236.67 263.43 237.23 260.65 237.8 259.54 238.36 258.98 239.48 258.42 240.61 258.42 242.29 258.98 243.42 260.65 243.98 263.43 243.98 265.1 243.42 267.88 242.29 269.54 240.61 270.1 241.73 269.54 242.29 268.99 242.85 267.88 243.42 265.1 243.42 263.43 242.85 260.65 242.29 259.54 241.73 258.98 240.61 258.42M239.48 270.1 240.61 270.1M248.7 264.93 251.06 264.93M249.71 258.59 249.71 264.93M250.05 264.93 250.05 257.92 246.34 262.93 251.73 262.93M274.97 260.65 276.1 260.09 277.78 258.42 277.78 270.1M274.97 270.1 280.03 270.1M277.22 258.98 277.22 270.1M285.09 269.54 285.65 270.1 286.21 269.54 285.65 268.99 285.09 269.54M285.09 269.54 286.21 269.54M285.65 268.99 285.65 270.1M290.71 266.21 291.27 264.54 292.39 263.43 294.08 262.87 294.64 262.87 296.33 263.43 297.45 264.54 298.01 266.21 298.01 266.76 297.45 268.43 296.33 269.54 294.64 270.1 295.77 269.54 296.89 268.43 297.45 266.76 297.45 266.21 296.89 264.54 295.77 263.43 294.64 262.87M293.52 270.1 291.83 269.54 290.71 268.43 290.15 266.76 290.15 263.43 290.71 261.2 291.27 260.09 292.39 258.98 294.08 258.42 295.77 258.42 296.89 258.98 297.45 260.09 297.45 260.65 296.89 261.2 296.33 260.65 296.89 260.09M293.52 270.1 292.39 269.54 291.27 268.43 290.71 266.76 290.71 263.43 291.27 261.2 291.83 260.09 292.96 258.98 294.08 258.42M293.52 270.1 294.64 270.1M301.39 258.42 301.39 261.76M301.39 260.65 301.95 259.54 303.07 258.42 304.2 258.42 307.01 260.09 304.2 258.98 303.07 258.98 301.95 259.54M304.76 270.1 304.76 267.32 305.32 265.65 305.88 264.54 308.69 261.76 306.44 264.54 305.88 265.65 305.32 267.32 305.32 270.1M307.01 260.09 308.13 260.09 308.69 259.54 309.25 258.42 309.25 260.09 308.69 261.76M316 270.1 319.93 270.1M317.68 259.54 317.68 270.1M318.25 270.1 318.25 258.42 312.06 266.76 321.06 266.76M323.87 258.42 323.87 261.76M323.87 260.65 324.43 259.54 325.55 258.42 326.68 258.42 329.49 260.09 326.68 258.98 325.55 258.98 324.43 259.54M327.24 270.1 327.24 267.32 327.8 265.65 328.36 264.54 331.17 261.76 328.92 264.54 328.36 265.65 327.8 267.32 327.8 270.1M329.49 260.09 330.61 260.09 331.17 259.54 331.73 258.42 331.73 260.09 331.17 261.76M335.67 261.2 343.54 268.99M343.54 261.2 335.67 268.99M349.16 260.65 350.28 260.09 351.97 258.42 351.97 270.1M349.16 270.1 354.21 270.1M351.4 258.98 351.4 270.1M362.08 258.42 360.4 258.98 359.27 260.65 358.71 263.43 358.71 265.1 359.27 267.88 360.4 269.54 362.08 270.1 360.96 269.54 360.4 268.99 359.83 267.88 359.27 265.1 359.27 263.43 359.83 260.65 360.4 259.54 360.96 258.98 362.08 258.42 363.21 258.42 364.89 258.98 366.02 260.65 366.58 263.43 366.58 265.1 366.02 267.88 364.89 269.54 363.21 270.1 364.33 269.54 364.89 268.99 365.45 267.88 366.02 265.1 366.02 263.43 365.45 260.65 364.89 259.54 364.33 258.98 363.21 258.42M362.08 270.1 363.21 270.1M371.3 264.93 373.66 264.93M372.31 258.59 372.31 264.93M372.65 264.93 372.65 257.92 368.94 262.93 374.33 262.93M554.87 260.65 556 260.09 557.68 258.42 557.68 270.1M554.87 270.1 559.93 270.1M557.12 258.98 557.12 270.1M564.99 269.54 565.55 270.1 566.11 269.54 565.55 268.99 564.99 269.54M564.99 269.54 566.11 269.54M565.55 268.99 565.55 270.1M570.61 266.21 571.17 264.54 572.29 263.43 573.98 262.87 574.54 262.87 576.23 263.43 577.35 264.54 577.91 266.21 577.91 266.76 577.35 268.43 576.23 269.54 574.54 270.1 575.67 269.54 576.79 268.43 577.35 266.76 577.35 266.21 576.79 264.54 575.67 263.43 574.54 262.87M573.42 270.1 571.73 269.54 570.61 268.43 570.05 266.76 570.05 263.43 570.61 261.2 571.17 260.09 572.29 258.98 573.98 258.42 575.67 258.42 576.79 258.98 577.35 260.09 577.35 260.65 576.79 261.2 576.23 260.65 576.79 260.09M573.42 270.1 572.29 269.54 571.17 268.43 570.61 266.76 570.61 263.43 571.17 261.2 571.73 260.09 572.86 258.98 573.98 258.42M573.42 270.1 574.54 270.1M581.29 258.42 581.29 261.76M581.29 260.65 581.85 259.54 582.97 258.42 584.1 258.42 586.91 260.09 584.1 258.98 582.97 258.98 581.85 259.54M584.66 270.1 584.66 267.32 585.22 265.65 585.78 264.54 588.59 261.76 586.34 264.54 585.78 265.65 585.22 267.32 585.22 270.1M586.91 260.09 588.03 260.09 588.59 259.54 589.15 258.42 589.15 260.09 588.59 261.76M595.9 270.1 599.83 270.1M597.58 259.54 597.58 270.1M598.15 270.1 598.15 258.42 591.96 266.76 600.96 266.76M604.33 266.21 604.89 264.54 606.01 263.43 607.7 262.87 608.26 262.87 609.95 263.43 611.07 264.54 611.63 266.21 611.63 266.76 611.07 268.43 609.95 269.54 608.26 270.1 609.39 269.54 610.51 268.43 611.07 266.76 611.07 266.21 610.51 264.54 609.39 263.43 608.26 262.87M607.14 270.1 605.45 269.54 604.33 268.43 603.77 266.76 603.77 263.43 604.33 261.2 604.89 260.09 606.01 258.98 607.7 258.42 609.39 258.42 610.51 258.98 611.07 260.09 611.07 260.65 610.51 261.2 609.95 260.65 610.51 260.09M607.14 270.1 606.01 269.54 604.89 268.43 604.33 266.76 604.33 263.43 604.89 261.2 605.45 260.09 606.58 258.98 607.7 258.42M607.14 270.1 608.26 270.1M615.57 261.2 623.44 268.99M623.44 261.2 615.57 268.99M629.06 260.65 630.18 260.09 631.87 258.42 631.87 270.1M629.06 270.1 634.11 270.1M631.3 258.98 631.3 270.1M641.98 258.42 640.3 258.98 639.17 260.65 638.61 263.43 638.61 265.1 639.17 267.88 640.3 269.54 641.98 270.1 640.86 269.54 640.3 268.99 639.73 267.88 639.17 265.1 639.17 263.43 639.73 260.65 640.3 259.54 640.86 258.98 641.98 258.42 643.11 258.42 644.79 258.98 645.92 260.65 646.48 263.43 646.48 265.1 645.92 267.88 644.79 269.54 643.11 270.1 644.23 269.54 644.79 268.99 645.35 267.88 645.92 265.1 645.92 263.43 645.35 260.65 644.79 259.54 644.23 258.98 643.11 258.42M641.98 270.1 643.11 270.1M651.2 264.93 653.56 264.93M652.21 258.59 652.21 264.93M652.55 264.93 652.55 257.92 648.84 262.93 654.23 262.93M677.47 260.65 678.6 260.09 680.28 258.42 680.28 270.1M677.47 270.1 682.53 270.1M679.72 258.98 679.72 270.1M687.59 269.54 688.15 270.1 688.71 269.54 688.15 268.99 687.59 269.54M687.59 269.54 688.71 269.54M688.15 268.99 688.15 270.1M693.21 266.21 693.77 264.54 694.89 263.43 696.58 262.87 697.14 262.87 698.83 263.43 699.95 264.54 700.51 266.21 700.51 266.76 699.95 268.43 698.83 269.54 697.14 270.1 698.27 269.54 699.39 268.43 699.95 266.76 699.95 266.21 699.39 264.54 698.27 263.43 697.14 262.87M696.02 270.1 694.33 269.54 693.21 268.43 692.65 266.76 692.65 263.43 693.21 261.2 693.77 260.09 694.89 258.98 696.58 258.42 698.27 258.42 699.39 258.98 699.95 260.09 699.95 260.65 699.39 261.2 698.83 260.65 699.39 260.09M696.02 270.1 694.89 269.54 693.77 268.43 693.21 266.76 693.21 263.43 693.77 261.2 694.33 260.09 695.46 258.98 696.58 258.42M696.02 270.1 697.14 270.1M703.89 258.42 703.89 261.76M703.89 260.65 704.45 259.54 705.57 258.42 706.7 258.42 709.51 260.09 706.7 258.98 705.57 258.98 704.45 259.54M707.26 270.1 707.26 267.32 707.82 265.65 708.38 264.54 711.19 261.76 708.94 264.54 708.38 265.65 707.82 267.32 707.82 270.1M709.51 260.09 710.63 260.09 711.19 259.54 711.75 258.42 711.75 260.09 711.19 261.76M718.5 270.1 722.43 270.1M720.18 259.54 720.18 270.1M720.75 270.1 720.75 258.42 714.56 266.76 723.56 266.76M726.37 258.42 726.37 261.76M726.37 260.65 726.93 259.54 728.05 258.42 729.18 258.42 731.99 260.09 729.18 258.98 728.05 258.98 726.93 259.54M729.74 270.1 729.74 267.32 730.3 265.65 730.86 264.54 733.67 261.76 731.42 264.54 730.86 265.65 730.3 267.32 730.3 270.1M731.99 260.09 733.11 260.09 733.67 259.54 734.23 258.42 734.23 260.09 733.67 261.76M738.17 261.2 746.04 268.99M746.04 261.2 738.17 268.99M751.66 260.65 752.78 260.09 754.47 258.42 754.47 270.1M751.66 270.1 756.71 270.1M753.9 258.98 753.9 270.1M764.58 258.42 762.9 258.98 761.77 260.65 761.21 263.43 761.21 265.1 761.77 267.88 762.9 269.54 764.58 270.1 763.46 269.54 762.9 268.99 762.33 267.88 761.77 265.1 761.77 263.43 762.33 260.65 762.9 259.54 763.46 258.98 764.58 258.42 765.71 258.42 767.39 258.98 768.52 260.65 769.08 263.43 769.08 265.1 768.52 267.88 767.39 269.54 765.71 270.1 766.83 269.54 767.39 268.99 767.95 267.88 768.52 265.1 768.52 263.43 767.95 260.65 767.39 259.54 766.83 258.98 765.71 258.42M764.58 270.1 765.71 270.1M773.8 264.93 776.16 264.93M774.81 258.59 774.81 264.93M775.15 264.93 775.15 257.92 771.44 262.93 776.83 262.93M119.76 479.1 123.09 479.1M120.87 479.1 124.76 467.42 128.65 479.1M121.98 475.76 126.98 475.76M124.76 469.09 128.1 479.1M126.43 479.1 129.76 479.1M135.32 466.31 134.21 468.54 133.66 470.2 133.1 472.98 133.1 475.21 133.66 477.99 134.21 479.66 135.32 481.88 134.21 480.21 133.1 477.99 132.54 475.21 132.54 472.98 133.1 470.2 134.21 467.98 135.32 466.31 136.44 465.2M135.32 481.88 136.44 482.99M139.22 467.42 143.11 467.42M139.22 479.1 147.56 479.1 147.56 475.76 147 479.1M140.88 467.42 140.88 479.1M141.44 467.42 141.44 479.1M149.22 471.32 151.45 471.32 151.45 479.1M149.22 479.1 153.12 479.1M150.89 471.32 150.89 479.1M150.34 467.98 150.89 467.42 151.45 467.98 150.89 468.54 150.34 467.98M150.34 467.98 151.45 467.98M150.89 467.42 150.89 468.54M155.9 465.2 157.01 466.31 158.12 468.54 158.68 470.2 159.23 472.98 159.23 475.21 158.68 477.99 158.12 479.66 157.01 481.88 158.12 480.21 159.23 477.99 159.79 475.21 159.79 472.98 159.23 470.2 158.12 467.98 157.01 466.31M155.9 482.99 157.01 481.88M164.24 472.43 174.24 472.43M164.24 475.76 174.24 475.76M522.26 479.1 525.59 479.1M523.37 479.1 527.26 467.42 531.15 479.1M524.48 475.76 529.48 475.76M527.26 469.09 530.6 479.1M528.93 479.1 532.26 479.1M537.82 466.31 536.71 468.54 536.16 470.2 535.6 472.98 535.6 475.21 536.16 477.99 536.71 479.66 537.82 481.88 536.71 480.21 535.6 477.99 535.04 475.21 535.04 472.98 535.6 470.2 536.71 467.98 537.82 466.31 538.94 465.2M537.82 481.88 538.94 482.99M541.72 467.42 545.61 467.42M541.72 479.1 550.06 479.1 550.06 475.76 549.5 479.1M543.38 467.42 543.38 479.1M543.94 467.42 543.94 479.1M551.72 471.32 553.95 471.32 553.95 479.1M551.72 479.1 555.62 479.1M553.39 471.32 553.39 479.1M552.84 467.98 553.39 467.42 553.95 467.98 553.39 468.54 552.84 467.98M552.84 467.98 553.95 467.98M553.39 467.42 553.39 468.54M558.4 465.2 559.51 466.31 560.62 468.54 561.18 470.2 561.73 472.98 561.73 475.21 561.18 477.99 560.62 479.66 559.51 481.88 560.62 480.21 561.73 477.99 562.29 475.21 562.29 472.98 561.73 470.2 560.62 467.98 559.51 466.31M558.4 482.99 559.51 481.88M566.74 472.43 576.74 472.43M566.74 475.76 576.74 475.76M109.76 702.4 113.09 702.4M110.87 702.4 114.76 690.72 118.65 702.4M111.98 699.06 116.98 699.06M114.76 692.39 118.1 702.4M116.43 702.4 119.76 702.4M125.32 689.61 124.21 691.84 123.66 693.5 123.1 696.28 123.1 698.51 123.66 701.29 124.21 702.96 125.32 705.18 124.21 703.51 123.1 701.29 122.54 698.51 122.54 696.28 123.1 693.5 124.21 691.28 125.32 689.61 126.44 688.5M125.32 705.18 126.44 706.29M129.22 690.72 133.11 690.72M129.22 702.4 137.56 702.4 137.56 699.06 137 702.4M130.88 690.72 130.88 702.4M131.44 690.72 131.44 702.4M139.22 694.62 141.45 694.62 141.45 702.4M139.22 702.4 143.12 702.4M140.89 694.62 140.89 702.4M140.34 691.28 140.89 690.72 141.45 691.28 140.89 691.84 140.34 691.28M140.34 691.28 141.45 691.28M140.89 690.72 140.89 691.84M145.9 688.5 147.01 689.61 148.12 691.84 148.68 693.5 149.23 696.28 149.23 698.51 148.68 701.29 148.12 702.96 147.01 705.18 148.12 703.51 149.23 701.29 149.79 698.51 149.79 696.28 149.23 693.5 148.12 691.28 147.01 689.61M145.9 706.29 147.01 705.18M154.24 695.73 164.24 695.73M154.24 699.06 164.24 699.06M109.76 717.52 113.09 717.52M110.87 717.52 114.2 725.3 117.54 717.52M111.42 717.52 114.2 724.19M115.32 717.52 118.65 717.52M120.88 719.18 121.43 719.74 122.54 720.3 125.32 721.41 126.44 721.96 126.99 722.52 126.99 724.19 126.44 724.74 125.32 725.3 123.1 725.3 121.99 724.74 121.43 724.19 120.88 725.3 120.88 723.08 121.43 724.19M126.44 718.63 126.99 719.74 126.99 717.52 126.44 718.63 125.88 718.07 124.77 717.52 122.54 717.52 121.43 718.07 120.88 718.63 120.88 719.74 121.43 720.3 122.54 720.85 125.32 721.96 126.44 722.52 126.99 723.08M129.77 717.52 132 717.52 132 725.3M129.77 725.3 133.66 725.3M131.44 717.52 131.44 725.3M130.88 714.18 131.44 713.62 132 714.18 131.44 714.74 130.88 714.18M130.88 714.18 132 714.18M131.44 713.62 131.44 714.74M135.89 717.52 138.11 717.52 138.11 725.3M135.89 725.3 139.78 725.3M137.56 717.52 137.56 725.3M138.11 719.18 139.22 718.07 140.89 717.52 142 717.52 143.67 718.07 144.23 719.18 144.23 725.3M142 717.52 143.12 718.07 143.67 719.18 143.67 725.3M142 725.3 145.9 725.3M148.12 717.52 150.34 717.52 150.34 725.3M148.12 725.3 152.01 725.3M149.79 717.52 149.79 725.3M149.23 714.18 149.79 713.62 150.34 714.18 149.79 714.74 149.23 714.18M149.23 714.18 150.34 714.18M149.79 713.62 149.79 714.74M164.24 718.63 174.25 718.63M164.24 721.96 174.25 721.96M188.71 715.85 189.82 715.29 191.49 713.62 191.49 725.3M188.71 725.3 193.71 725.3M190.93 714.18 190.93 725.3M198.72 724.74 199.27 725.3 199.83 724.74 199.27 724.19 198.72 724.74M198.72 724.74 199.83 724.74M199.27 724.19 199.27 725.3M204.28 723.08 204.83 722.52 204.28 721.96 203.72 722.52 203.72 723.08 204.28 724.19 204.83 724.74 206.5 725.3 208.17 725.3 209.84 724.74 210.95 723.63 211.5 721.96 211.5 720.85 210.95 719.18 209.84 718.07 208.17 717.52 206.5 717.52 204.83 718.07 203.72 719.18 204.83 713.62 210.39 713.62 207.61 714.18 204.83 714.18M208.17 717.52 209.28 718.07 210.39 719.18 210.95 720.85 210.95 721.96 210.39 723.63 209.28 724.74 208.17 725.3M223.18 713.62 225.4 713.62 225.4 725.3M223.18 725.3 227.07 725.3M224.85 713.62 224.85 725.3M225.4 723.08 230.96 717.52M227.63 720.85 230.96 725.3M228.18 720.85 231.52 725.3M229.3 717.52 232.63 717.52M229.3 725.3 232.63 725.3M234.86 717.52 237.08 717.52 237.08 725.3M234.86 725.3 238.75 725.3M236.52 717.52 236.52 725.3M237.08 719.18 238.19 718.07 239.86 717.52 240.97 717.52 242.64 718.07 243.2 719.18 243.2 725.3M240.97 717.52 242.08 718.07 242.64 719.18 242.64 725.3M240.97 725.3 244.86 725.3M243.2 719.18 244.31 718.07 245.98 717.52 247.09 717.52 248.76 718.07 249.31 719.18 249.31 725.3M247.09 717.52 248.2 718.07 248.76 719.18 248.76 725.3M247.09 725.3 250.98 725.3M253.76 719.18 254.32 719.74 255.43 720.3 258.21 721.41 259.32 721.96 259.88 722.52 259.88 724.19 259.32 724.74 258.21 725.3 255.98 725.3 254.87 724.74 254.32 724.19 253.76 725.3 253.76 723.08 254.32 724.19M259.32 718.63 259.88 719.74 259.88 717.52 259.32 718.63 258.76 718.07 257.65 717.52 255.43 717.52 254.32 718.07 253.76 718.63 253.76 719.74 254.32 720.3 255.43 720.85 258.21 721.96 259.32 722.52 259.88 723.08M262.88 717.13 268.88 717.13M272.22 714.46 272.89 714.12 273.89 713.12 273.89 720.13M272.22 720.13 275.22 720.13M273.55 713.46 273.55 720.13M512.26 702.4 515.59 702.4M513.37 702.4 517.26 690.72 521.15 702.4M514.48 699.06 519.48 699.06M517.26 692.39 520.6 702.4M518.93 702.4 522.26 702.4M527.82 689.61 526.71 691.84 526.16 693.5 525.6 696.28 525.6 698.51 526.16 701.29 526.71 702.96 527.82 705.18 526.71 703.51 525.6 701.29 525.04 698.51 525.04 696.28 525.6 693.5 526.71 691.28 527.82 689.61 528.94 688.5M527.82 705.18 528.94 706.29M531.72 690.72 535.61 690.72M531.72 702.4 540.06 702.4 540.06 699.06 539.5 702.4M533.38 690.72 533.38 702.4M533.94 690.72 533.94 702.4M541.72 694.62 543.95 694.62 543.95 702.4M541.72 702.4 545.62 702.4M543.39 694.62 543.39 702.4M542.84 691.28 543.39 690.72 543.95 691.28 543.39 691.84 542.84 691.28M542.84 691.28 543.95 691.28M543.39 690.72 543.39 691.84M548.4 688.5 549.51 689.61 550.62 691.84 551.18 693.5 551.73 696.28 551.73 698.51 551.18 701.29 550.62 702.96 549.51 705.18 550.62 703.51 551.73 701.29 552.29 698.51 552.29 696.28 551.73 693.5 550.62 691.28 549.51 689.61M548.4 706.29 549.51 705.18M556.74 695.73 566.74 695.73M556.74 699.06 566.74 699.06M512.26 717.52 515.59 717.52M513.37 717.52 516.7 725.3 520.04 717.52M513.92 717.52 516.7 724.19M517.82 717.52 521.15 717.52M523.38 719.18 523.93 719.74 525.04 720.3 527.82 721.41 528.94 721.96 529.49 722.52 529.49 724.19 528.94 724.74 527.82 725.3 525.6 725.3 524.49 724.74 523.93 724.19 523.38 725.3 523.38 723.08 523.93 724.19M528.94 718.63 529.49 719.74 529.49 717.52 528.94 718.63 528.38 718.07 527.27 717.52 525.04 717.52 523.93 718.07 523.38 718.63 523.38 719.74 523.93 720.3 525.04 720.85 527.82 721.96 528.94 722.52 529.49 723.08M532.27 717.52 534.5 717.52 534.5 725.3M532.27 725.3 536.16 725.3M533.94 717.52 533.94 725.3M533.38 714.18 533.94 713.62 534.5 714.18 533.94 714.74 533.38 714.18M533.38 714.18 534.5 714.18M533.94 713.62 533.94 714.74M538.39 717.52 540.61 717.52 540.61 725.3M538.39 725.3 542.28 725.3M540.06 717.52 540.06 725.3M540.61 719.18 541.72 718.07 543.39 717.52 544.5 717.52 546.17 718.07 546.73 719.18 546.73 725.3M544.5 717.52 545.62 718.07 546.17 719.18 546.17 725.3M544.5 725.3 548.4 725.3M550.62 717.52 552.84 717.52 552.84 725.3M550.62 725.3 554.51 725.3M552.29 717.52 552.29 725.3M551.73 714.18 552.29 713.62 552.84 714.18 552.29 714.74 551.73 714.18M551.73 714.18 552.84 714.18M552.29 713.62 552.29 714.74M566.74 718.63 576.75 718.63M566.74 721.96 576.75 721.96M591.21 715.85 592.32 715.29 593.99 713.62 593.99 725.3M591.21 725.3 596.21 725.3M593.43 714.18 593.43 725.3M600.66 724.19 601.22 723.63 602.33 723.63 605.11 725.3 607.33 725.3 607.89 724.74 608.44 723.63 608.44 722.52M600.66 725.3 600.66 723.63 601.22 721.96 602.33 720.85 605.66 719.18 607.33 718.07 607.89 716.96 607.89 715.85 607.33 714.74 606.78 714.18 605.66 713.62 603.44 713.62 601.77 714.18 601.22 714.74 600.66 715.85 600.66 716.4 601.22 716.96 601.77 716.4 601.22 715.85M602.33 723.63 605.11 724.74 606.78 724.74 607.89 724.19 608.44 723.63M603.44 720.3 606.22 719.18 607.89 718.07 608.44 716.96 608.44 715.85 607.89 714.74 607.33 714.18 605.66 713.62M612.34 724.74 612.89 725.3 613.45 724.74 612.89 724.19 612.34 724.74M612.34 724.74 613.45 724.74M612.89 724.19 612.89 725.3M617.9 723.08 618.45 722.52 617.9 721.96 617.34 722.52 617.34 723.08 617.9 724.19 618.45 724.74 620.12 725.3 621.79 725.3 623.46 724.74 624.57 723.63 625.12 721.96 625.12 720.85 624.57 719.18 623.46 718.07 621.79 717.52 620.12 717.52 618.45 718.07 617.34 719.18 618.45 713.62 624.01 713.62 621.23 714.18 618.45 714.18M621.79 717.52 622.9 718.07 624.01 719.18 624.57 720.85 624.57 721.96 624.01 723.63 622.9 724.74 621.79 725.3M636.8 713.62 639.02 713.62 639.02 725.3M636.8 725.3 640.69 725.3M638.47 713.62 638.47 725.3M639.02 723.08 644.58 717.52M641.25 720.85 644.58 725.3M641.8 720.85 645.14 725.3M642.92 717.52 646.25 717.52M642.92 725.3 646.25 725.3M648.48 717.52 650.7 717.52 650.7 725.3M648.48 725.3 652.37 725.3M650.14 717.52 650.14 725.3M650.7 719.18 651.81 718.07 653.48 717.52 654.59 717.52 656.26 718.07 656.82 719.18 656.82 725.3M654.59 717.52 655.7 718.07 656.26 719.18 656.26 725.3M654.59 725.3 658.48 725.3M656.82 719.18 657.93 718.07 659.6 717.52 660.71 717.52 662.38 718.07 662.93 719.18 662.93 725.3M660.71 717.52 661.82 718.07 662.38 719.18 662.38 725.3M660.71 725.3 664.6 725.3M667.38 719.18 667.94 719.74 669.05 720.3 671.83 721.41 672.94 721.96 673.5 722.52 673.5 724.19 672.94 724.74 671.83 725.3 669.6 725.3 668.49 724.74 667.94 724.19 667.38 725.3 667.38 723.08 667.94 724.19M672.94 718.63 673.5 719.74 673.5 717.52 672.94 718.63 672.38 718.07 671.27 717.52 669.05 717.52 667.94 718.07 667.38 718.63 667.38 719.74 667.94 720.3 669.05 720.85 671.83 721.96 672.94 722.52 673.5 723.08M676.5 717.13 682.5 717.13M685.84 714.46 686.51 714.12 687.51 713.12 687.51 720.13M685.84 720.13 688.84 720.13M687.17 713.46 687.17 720.13M23.92 454.29 23.92 447.62 24.48 445.95 25.04 445.39 26.15 444.84 27.26 444.84 28.37 445.39 28.93 445.95 29.48 447.62 29.48 452.06M35.6 454.29 35.6 450.4M23.92 452.62 35.6 452.62M23.92 452.06 35.6 452.06M29.48 449.28 30.04 448.17 31.15 447.62 35.04 446.5 35.6 445.95 35.6 444.84 34.49 444.28 35.04 444.84 35.04 445.39 34.49 445.95 30.6 447.62 30.04 448.17M23.92 447.62 24.48 446.5 25.04 445.95 26.15 445.39 27.26 445.39 28.37 445.95 28.93 446.5 29.48 447.62M33.93 444.28 34.49 444.28M31.15 440.94 31.15 434.27 30.04 434.27 28.93 434.83 28.37 435.38 27.82 436.5 27.82 438.16 28.37 439.83 29.48 440.94 31.15 441.5 32.26 441.5 33.93 440.94 35.04 439.83 35.6 438.16 35.04 439.28 33.93 440.39 32.26 440.94 31.15 440.94 29.48 440.39 28.37 439.28 27.82 438.16M35.6 438.16 35.6 437.05 35.04 435.38 33.93 434.27M28.37 435.38 29.48 434.83 31.15 434.83M23.92 431.49 23.92 429.27 35.6 429.27M35.6 431.49 35.6 427.6M23.92 429.82 35.6 429.82M28.93 423.71 29.48 423.71 29.48 424.26 28.93 424.26 28.37 423.71 27.82 422.6 27.82 420.37 28.37 419.26 28.93 418.7 33.93 418.7 35.04 419.82 35.6 420.93 35.6 422.6 35.04 424.26 33.93 424.82 32.82 424.82 31.71 424.26 31.15 422.6 30.6 419.26 30.04 418.7M31.15 422.6 31.71 423.71 32.82 424.26 33.93 424.26 35.04 423.71 35.6 422.6M28.93 418.7 30.04 418.15 33.93 418.15 35.04 417.59 35.6 417.04 35.04 418.15 33.93 418.7M35.6 417.04 35.6 416.48M27.82 414.26 27.82 409.81M23.92 412.59 33.38 412.59 35.04 412.03 35.6 410.92 35.6 409.81 35.04 408.7 33.93 408.14M23.92 412.03 33.38 412.03 35.04 411.48 35.6 410.92M27.82 405.92 27.82 403.69 35.6 403.69M35.6 405.92 35.6 402.02M27.82 404.25 35.6 404.25M24.48 404.8 23.92 404.25 24.48 403.69 25.04 404.25 24.48 404.8M24.48 404.8 24.48 403.69M23.92 404.25 25.04 404.25M27.82 400.36 27.82 397.02M27.82 399.24 35.6 395.91 27.82 392.57M27.82 398.69 34.49 395.91M27.82 394.8 27.82 391.46M31.15 388.68 31.15 382.01 30.04 382.01 28.93 382.56 28.37 383.12 27.82 384.23 27.82 385.9 28.37 387.57 29.48 388.68 31.15 389.24 32.26 389.24 33.93 388.68 35.04 387.57 35.6 385.9 35.04 387.01 33.93 388.12 32.26 388.68 31.15 388.68 29.48 388.12 28.37 387.01 27.82 385.9M35.6 385.9 35.6 384.79 35.04 383.12 33.93 382.01M28.37 383.12 29.48 382.56 31.15 382.56M23.92 370.33 23.92 361.44 27.26 361.44 23.92 361.99M35.6 370.33 35.6 366.44M23.92 368.66 35.6 368.66M23.92 368.11 35.6 368.11M29.48 368.11 29.48 364.77M27.26 364.77 31.71 364.77M23.92 359.21 23.92 356.99 35.6 356.99M35.6 359.21 35.6 355.32M23.92 357.54 35.6 357.54M27.82 353.1 27.82 350.87 33.93 350.87 35.04 350.32 35.6 349.2 35.04 350.87 33.93 351.43 27.82 351.43M35.6 349.2 35.6 348.09 35.04 346.42 33.93 345.31M27.82 346.98 27.82 344.76 35.6 344.76M27.82 345.31 35.6 345.31 35.6 343.09M27.82 340.86 27.82 337.53M35.6 340.86 35.6 337.53M27.82 339.75 35.6 333.64M35.6 339.75 27.82 333.08M27.82 339.2 35.6 333.08M27.82 335.3 27.82 331.97M35.6 335.3 35.6 331.97M368.96 783.82 372.85 783.82M370.62 783.82 372.85 795.5 375.07 783.82 377.3 795.5 379.52 783.82M371.18 783.82 372.85 792.72M375.63 783.82 377.3 792.72M377.85 783.82 381.19 783.82M384.52 788.83 384.52 789.38 383.97 789.38 383.97 788.83 384.52 788.27 385.64 787.72 387.86 787.72 388.97 788.27 389.53 788.83 389.53 793.83 388.42 794.94 387.3 795.5 385.64 795.5 383.97 794.94 383.41 793.83 383.41 792.72 383.97 791.61 385.64 791.05 388.97 790.5 389.53 789.94M385.64 791.05 384.52 791.61 383.97 792.72 383.97 793.83 384.52 794.94 385.64 795.5M389.53 788.83 390.08 789.94 390.08 793.83 390.64 794.94 391.2 795.5 390.08 794.94 389.53 793.83M391.2 795.5 391.75 795.5M393.42 787.72 396.76 787.72M394.53 787.72 397.87 795.5 401.2 787.72M395.09 787.72 397.87 794.39M398.98 787.72 402.32 787.72M405.1 791.05 411.77 791.05 411.77 789.94 411.21 788.83 410.66 788.27 409.54 787.72 407.88 787.72 406.21 788.27 405.1 789.38 404.54 791.05 404.54 792.16 405.1 793.83 406.21 794.94 407.88 795.5 406.76 794.94 405.65 793.83 405.1 792.16 405.1 791.05 405.65 789.38 406.76 788.27 407.88 787.72M407.88 795.5 408.99 795.5 410.66 794.94 411.77 793.83M410.66 788.27 411.21 789.38 411.21 791.05M414.55 783.82 416.77 783.82 416.77 795.5M414.55 795.5 418.44 795.5M416.22 783.82 416.22 795.5M421.78 791.05 428.45 791.05 428.45 789.94 427.89 788.83 427.34 788.27 426.22 787.72 424.56 787.72 422.89 788.27 421.78 789.38 421.22 791.05 421.22 792.16 421.78 793.83 422.89 794.94 424.56 795.5 423.44 794.94 422.33 793.83 421.78 792.16 421.78 791.05 422.33 789.38 423.44 788.27 424.56 787.72M424.56 795.5 425.67 795.5 427.34 794.94 428.45 793.83M427.34 788.27 427.89 789.38 427.89 791.05M431.23 787.72 433.45 787.72 433.45 795.5M431.23 795.5 435.12 795.5M432.9 787.72 432.9 795.5M433.45 789.38 434.56 788.27 436.23 787.72 437.34 787.72 439.01 788.27 439.57 789.38 439.57 795.5M437.34 787.72 438.46 788.27 439.01 789.38 439.01 795.5M437.34 795.5 441.24 795.5M444.02 794.39 444.57 795.5 446.24 796.06 449.02 796.06 450.69 796.61 451.24 797.17 450.69 796.06 449.02 795.5 446.24 795.5 444.57 794.94 444.02 794.39 444.02 793.83 444.57 792.72 445.13 792.16 444.57 791.05 444.57 789.94 445.13 788.83 445.68 788.27 445.13 789.38 445.13 791.61 445.68 792.72 446.8 793.28 447.91 793.28 449.02 792.72 449.58 791.61 449.58 789.38 449.02 788.27 447.91 787.72 446.8 787.72 445.68 788.27M445.13 792.16 445.68 792.72M445.68 795.5 444.02 796.06 443.46 797.17 443.46 797.72 444.02 798.84 445.68 799.39 449.02 799.39 450.69 798.84 451.24 797.72 451.24 797.17M449.02 788.27 449.58 788.83 450.13 789.94 450.13 791.05 449.58 792.16 449.02 792.72M449.58 788.83 450.13 788.27 451.24 787.72 451.24 788.27 450.13 788.27M454.02 787.72 458.47 787.72M455.69 783.82 455.69 793.28 456.25 794.94 457.36 795.5 458.47 795.5 459.58 794.94 460.14 793.83M456.25 783.82 456.25 793.28 456.8 794.94 457.36 795.5M462.36 783.82 464.59 783.82 464.59 795.5M462.36 795.5 466.26 795.5M464.03 783.82 464.03 795.5M464.59 789.38 465.7 788.27 467.37 787.72 468.48 787.72 470.15 788.27 470.7 789.38 470.7 795.5M468.48 787.72 469.59 788.27 470.15 789.38 470.15 795.5M468.48 795.5 472.37 795.5M487.38 782.71 486.27 784.94 485.72 786.6 485.16 789.38 485.16 791.61 485.72 794.39 486.27 796.06 487.38 798.28 486.27 796.61 485.16 794.39 484.6 791.61 484.6 789.38 485.16 786.6 486.27 784.38 487.38 782.71 488.5 781.6M487.38 798.28 488.5 799.39M490.72 795.5 494.06 795.5M491.83 795.5 495.72 783.82 499.62 795.5M492.94 792.16 497.95 792.16M495.72 785.49 499.06 795.5M497.39 795.5 500.73 795.5M495.17 781.04 494.61 781.6 494.61 782.71 495.17 783.27 496.28 783.27 496.84 782.71 496.84 781.6 496.28 781.04 495.17 781.04M502.95 781.6 504.06 782.71 505.18 784.94 505.73 786.6 506.29 789.38 506.29 791.61 505.73 794.39 505.18 796.06 504.06 798.28 505.18 796.61 506.29 794.39 506.84 791.61 506.84 789.38 506.29 786.6 505.18 784.38 504.06 782.71M502.95 799.39 504.06 798.28M248.72 376.69 248.72 372.8M260.4 376.69 260.4 368.35 257.06 368.35 260.4 368.9M248.72 375.02 260.4 375.02M248.72 374.46 260.4 374.46M252.62 366.68 252.62 364.46 260.4 364.46M260.4 366.68 260.4 362.79M252.62 365.01 260.4 365.01M249.28 365.57 248.72 365.01 249.28 364.46 249.84 365.01 249.28 365.57M249.28 365.57 249.28 364.46M248.72 365.01 249.84 365.01M248.72 351.67 248.72 347.78M260.4 351.67 260.4 347.78M248.72 350 260.4 350M248.72 349.44 260.4 349.44M255.06 400.4V385.5M307.72 677.59 307.72 673.7M319.4 677.59 319.4 669.25 316.06 669.25 319.4 669.8M307.72 675.92 319.4 675.92M307.72 675.36 319.4 675.36M311.62 667.58 311.62 665.36 319.4 665.36M319.4 667.58 319.4 663.69M311.62 665.91 319.4 665.91M308.28 666.47 307.72 665.91 308.28 665.36 308.84 665.91 308.28 666.47M308.28 666.47 308.28 665.36M307.72 665.91 308.84 665.91M307.72 652.57 307.72 648.68M319.4 652.57 319.4 648.68M307.72 650.9 319.4 650.9M307.72 650.34 319.4 650.34M314.1 647.4V632.6M651.22 376.69 651.22 372.8M662.9 376.69 662.9 368.35 659.56 368.35 662.9 368.9M651.22 375.02 662.9 375.02M651.22 374.46 662.9 374.46M655.12 366.68 655.12 364.46 662.9 364.46M662.9 366.68 662.9 362.79M655.12 365.01 662.9 365.01M651.78 365.57 651.22 365.01 651.78 364.46 652.34 365.01 651.78 365.57M651.78 365.57 651.78 364.46M651.22 365.01 652.34 365.01M651.22 351.67 651.22 347.78M662.9 351.67 662.9 347.78M651.22 350 662.9 350M651.22 349.44 662.9 349.44M657.56 400.4V385.5M710.22 677.59 710.22 673.7M721.9 677.59 721.9 669.25 718.56 669.25 721.9 669.8M710.22 675.92 721.9 675.92M710.22 675.36 721.9 675.36M714.12 667.58 714.12 665.36 721.9 665.36M721.9 667.58 721.9 663.69M714.12 665.91 721.9 665.91M710.78 666.47 710.22 665.91 710.78 665.36 711.34 665.91 710.78 666.47M710.78 666.47 710.78 665.36M710.22 665.91 711.34 665.91M710.22 652.57 710.22 648.68M721.9 652.57 721.9 648.68M710.22 650.9 721.9 650.9M710.22 650.34 721.9 650.34M716.6 647.4V632.6"/>
<path fill="none" stroke="#0000ff" stroke-width="1" stroke-linecap="round" stroke-linejoin="round" d="M181.75 206.15 182.86 205.59 184.53 203.92 184.53 215.6M181.75 215.6 186.76 215.6M183.98 204.48 183.98 215.6M194.54 203.92 192.87 204.48 191.76 206.15 191.2 208.93 191.2 210.6 191.76 213.38 192.87 215.04 194.54 215.6 193.43 215.04 192.87 214.49 192.32 213.38 191.76 210.6 191.76 208.93 192.32 206.15 192.87 205.04 193.43 204.48 194.54 203.92 195.65 203.92 197.32 204.48 198.43 206.15 198.99 208.93 198.99 210.6 198.43 213.38 197.32 215.04 195.65 215.6 196.76 215.04 197.32 214.49 197.88 213.38 198.43 210.6 198.43 208.93 197.88 206.15 197.32 205.04 196.76 204.48 195.65 203.92M194.54 215.6 195.65 215.6M582.58 223.69 583.14 223.13 584.25 223.13 587.03 224.8 589.26 224.8 589.81 224.24 590.37 223.13 590.37 222.02M582.58 224.8 582.58 223.13 583.14 221.46 584.25 220.35 587.59 218.68 589.26 217.57 589.81 216.46 589.81 215.35 589.26 214.24 588.7 213.68 587.59 213.12 585.36 213.12 583.7 213.68 583.14 214.24 582.58 215.35 582.58 215.9 583.14 216.46 583.7 215.9 583.14 215.35M584.25 223.13 587.03 224.24 588.7 224.24 589.81 223.69 590.37 223.13M585.36 219.8 588.14 218.68 589.81 217.57 590.37 216.46 590.37 215.35 589.81 214.24 589.26 213.68 587.59 213.12M597.04 213.12 595.37 213.68 594.26 215.35 593.7 218.13 593.7 219.8 594.26 222.58 595.37 224.24 597.04 224.8 595.93 224.24 595.37 223.69 594.82 222.58 594.26 219.8 594.26 218.13 594.82 215.35 595.37 214.24 595.93 213.68 597.04 213.12 598.15 213.12 599.82 213.68 600.93 215.35 601.49 218.13 601.49 219.8 600.93 222.58 599.82 224.24 598.15 224.8 599.26 224.24 599.82 223.69 600.38 222.58 600.93 219.8 600.93 218.13 600.38 215.35 599.82 214.24 599.26 213.68 598.15 213.12M597.04 224.8 598.15 224.8M187.59 469.65 188.14 470.2 187.59 470.76 187.03 470.2 187.03 469.65 187.59 468.54 188.14 467.98 189.81 467.42 192.04 467.42 193.7 467.98 194.26 469.09 194.26 470.76 193.7 471.87 192.04 472.43 190.37 472.43M187.59 476.88 188.14 476.32 187.59 475.76 187.03 476.32 187.03 476.88 187.59 477.99 188.14 478.54 189.81 479.1 192.04 479.1 193.7 478.54 194.26 477.99 194.82 476.88 194.82 475.21 194.26 474.1 193.15 472.98 192.04 472.43 193.15 471.87 193.7 470.76 193.7 469.09 193.15 467.98 192.04 467.42M192.04 479.1 193.15 478.54 193.7 477.99 194.26 476.88 194.26 475.21 193.7 473.54M198.71 478.54 199.26 479.1 199.82 478.54 199.26 477.99 198.71 478.54M198.71 478.54 199.82 478.54M199.26 477.99 199.26 479.1M204.82 477.43 205.38 476.88 204.82 476.32 204.27 476.88 204.27 477.43 204.82 478.54 205.94 479.1 207.6 479.1 209.27 478.54 210.38 477.43 210.94 476.32 211.5 474.1 211.5 470.76 210.94 469.09 209.83 467.98 208.16 467.42 209.27 467.98 210.38 469.09 210.94 470.76 210.94 474.1 210.38 476.32 209.83 477.43 208.72 478.54 207.6 479.1M207.05 467.42 205.38 467.98 204.27 469.09 203.71 470.76 203.71 471.32 204.27 472.98 205.38 474.1 207.05 474.65 205.94 474.1 204.82 472.98 204.27 471.32 204.27 470.76 204.82 469.09 205.94 467.98 207.05 467.42 208.16 467.42M207.05 474.65 207.6 474.65 209.27 474.1 210.38 472.98 210.94 471.32M216.5 469.65 217.61 469.09 219.28 467.42 219.28 479.1M216.5 479.1 221.5 479.1M218.72 467.98 218.72 479.1M226.51 481.32 227.06 480.77 227.62 479.66 227.62 478.54 227.06 477.99 226.51 478.54 227.06 479.1M226.51 478.54 227.62 478.54M227.06 477.99 227.06 479.1M227.06 479.1 227.62 478.54M590.09 469.65 590.64 470.2 590.09 470.76 589.53 470.2 589.53 469.65 590.09 468.54 590.64 467.98 592.31 467.42 594.54 467.42 596.2 467.98 596.76 469.09 596.76 470.76 596.2 471.87 594.54 472.43 592.87 472.43M590.09 476.88 590.64 476.32 590.09 475.76 589.53 476.32 589.53 476.88 590.09 477.99 590.64 478.54 592.31 479.1 594.54 479.1 596.2 478.54 596.76 477.99 597.32 476.88 597.32 475.21 596.76 474.1 595.65 472.98 594.54 472.43 595.65 471.87 596.2 470.76 596.2 469.09 595.65 467.98 594.54 467.42M594.54 479.1 595.65 478.54 596.2 477.99 596.76 476.88 596.76 475.21 596.2 473.54M601.21 478.54 601.76 479.1 602.32 478.54 601.76 477.99 601.21 478.54M601.21 478.54 602.32 478.54M601.76 477.99 601.76 479.1M607.32 477.43 607.88 476.88 607.32 476.32 606.77 476.88 606.77 477.43 607.32 478.54 608.44 479.1 610.1 479.1 611.77 478.54 612.88 477.43 613.44 476.32 614 474.1 614 470.76 613.44 469.09 612.33 467.98 610.66 467.42 611.77 467.98 612.88 469.09 613.44 470.76 613.44 474.1 612.88 476.32 612.33 477.43 611.22 478.54 610.1 479.1M609.55 467.42 607.88 467.98 606.77 469.09 606.21 470.76 606.21 471.32 606.77 472.98 607.88 474.1 609.55 474.65 608.44 474.1 607.32 472.98 606.77 471.32 606.77 470.76 607.32 469.09 608.44 467.98 609.55 467.42 610.66 467.42M609.55 474.65 610.1 474.65 611.77 474.1 612.88 472.98 613.44 471.32M619 469.65 620.11 469.09 621.78 467.42 621.78 479.1M619 479.1 624 479.1M621.22 467.98 621.22 479.1M629.01 481.32 629.56 480.77 630.12 479.66 630.12 478.54 629.56 477.99 629.01 478.54 629.56 479.1M629.01 478.54 630.12 478.54M629.56 477.99 629.56 479.1M629.56 479.1 630.12 478.54M177.03 701.29 177.59 700.73 178.7 700.73 181.48 702.4 183.7 702.4 184.26 701.84 184.82 700.73 184.82 699.62M177.03 702.4 177.03 700.73 177.59 699.06 178.7 697.95 182.04 696.28 183.7 695.17 184.26 694.06 184.26 692.95 183.7 691.84 183.15 691.28 182.04 690.72 179.81 690.72 178.14 691.28 177.59 691.84 177.03 692.95 177.03 693.5 177.59 694.06 178.14 693.5 177.59 692.95M178.7 700.73 181.48 701.84 183.15 701.84 184.26 701.29 184.82 700.73M179.81 697.4 182.59 696.28 184.26 695.17 184.82 694.06 184.82 692.95 184.26 691.84 183.7 691.28 182.04 690.72M188.71 701.84 189.26 702.4 189.82 701.84 189.26 701.29 188.71 701.84M188.71 701.84 189.82 701.84M189.26 701.29 189.26 702.4M194.82 700.73 195.38 700.18 194.82 699.62 194.27 700.18 194.27 700.73 194.82 701.84 195.94 702.4 197.6 702.4 199.27 701.84 200.38 700.73 200.94 699.62 201.5 697.4 201.5 694.06 200.94 692.39 199.83 691.28 198.16 690.72 199.27 691.28 200.38 692.39 200.94 694.06 200.94 697.4 200.38 699.62 199.83 700.73 198.72 701.84 197.6 702.4M197.05 690.72 195.38 691.28 194.27 692.39 193.71 694.06 193.71 694.62 194.27 696.28 195.38 697.4 197.05 697.95 195.94 697.4 194.82 696.28 194.27 694.62 194.27 694.06 194.82 692.39 195.94 691.28 197.05 690.72 198.16 690.72M197.05 697.95 197.6 697.95 199.27 697.4 200.38 696.28 200.94 694.62M205.39 700.18 205.94 699.62 205.39 699.06 204.83 699.62 204.83 700.18 205.39 701.29 205.94 701.84 207.61 702.4 209.28 702.4 210.95 701.84 212.06 700.73 212.62 699.06 212.62 697.95 212.06 696.28 210.95 695.17 209.28 694.62 207.61 694.62 205.94 695.17 204.83 696.28 205.94 690.72 211.5 690.72 208.72 691.28 205.94 691.28M209.28 694.62 210.39 695.17 211.5 696.28 212.06 697.95 212.06 699.06 211.5 700.73 210.39 701.84 209.28 702.4M216.51 704.62 217.06 704.07 217.62 702.96 217.62 701.84 217.06 701.29 216.51 701.84 217.06 702.4M216.51 701.84 217.62 701.84M217.06 701.29 217.06 702.4M217.06 702.4 217.62 701.84M580.09 692.95 580.64 693.5 580.09 694.06 579.53 693.5 579.53 692.95 580.09 691.84 580.64 691.28 582.31 690.72 584.54 690.72 586.2 691.28 586.76 692.39 586.76 694.06 586.2 695.17 584.54 695.73 582.87 695.73M580.09 700.18 580.64 699.62 580.09 699.06 579.53 699.62 579.53 700.18 580.09 701.29 580.64 701.84 582.31 702.4 584.54 702.4 586.2 701.84 586.76 701.29 587.32 700.18 587.32 698.51 586.76 697.4 585.65 696.28 584.54 695.73 585.65 695.17 586.2 694.06 586.2 692.39 585.65 691.28 584.54 690.72M584.54 702.4 585.65 701.84 586.2 701.29 586.76 700.18 586.76 698.51 586.2 696.84M591.21 701.84 591.76 702.4 592.32 701.84 591.76 701.29 591.21 701.84M591.21 701.84 592.32 701.84M591.76 701.29 591.76 702.4M599.55 702.4 603.44 702.4M601.22 691.84 601.22 702.4M601.77 702.4 601.77 690.72 595.66 699.06 604.55 699.06M607.89 700.18 608.44 699.62 607.89 699.06 607.33 699.62 607.33 700.18 607.89 701.29 608.44 701.84 610.11 702.4 611.78 702.4 613.45 701.84 614.56 700.73 615.12 699.06 615.12 697.95 614.56 696.28 613.45 695.17 611.78 694.62 610.11 694.62 608.44 695.17 607.33 696.28 608.44 690.72 614 690.72 611.22 691.28 608.44 691.28M611.78 694.62 612.89 695.17 614 696.28 614.56 697.95 614.56 699.06 614 700.73 612.89 701.84 611.78 702.4M619.01 704.62 619.56 704.07 620.12 702.96 620.12 701.84 619.56 701.29 619.01 701.84 619.56 702.4M619.01 701.84 620.12 701.84M619.56 701.29 619.56 702.4M619.56 702.4 620.12 701.84"/>
<path fill="none" stroke="#00ff00" stroke-width="1" stroke-linecap="round" stroke-linejoin="round" d="M217.34 211.71 217.89 210.04 219 208.93 220.67 208.37 221.23 208.37 222.9 208.93 224.01 210.04 224.56 211.71 224.56 212.26 224.01 213.93 222.9 215.04 221.23 215.6 222.34 215.04 223.45 213.93 224.01 212.26 224.01 211.71 223.45 210.04 222.34 208.93 221.23 208.37M220.12 215.6 218.45 215.04 217.34 213.93 216.78 212.26 216.78 208.93 217.34 206.7 217.89 205.59 219 204.48 220.67 203.92 222.34 203.92 223.45 204.48 224.01 205.59 224.01 206.15 223.45 206.7 222.9 206.15 223.45 205.59M220.12 215.6 219 215.04 217.89 213.93 217.34 212.26 217.34 208.93 217.89 206.7 218.45 205.59 219.56 204.48 220.67 203.92M220.12 215.6 221.23 215.6M620.95 215.35 622.06 214.79 623.73 213.12 623.73 224.8M620.95 224.8 625.95 224.8M623.17 213.68 623.17 224.8M633.74 213.12 632.07 213.68 630.96 215.35 630.4 218.13 630.4 219.8 630.96 222.58 632.07 224.24 633.74 224.8 632.62 224.24 632.07 223.69 631.51 222.58 630.96 219.8 630.96 218.13 631.51 215.35 632.07 214.24 632.62 213.68 633.74 213.12 634.85 213.12 636.52 213.68 637.63 215.35 638.18 218.13 638.18 219.8 637.63 222.58 636.52 224.24 634.85 224.8 635.96 224.24 636.52 223.69 637.07 222.58 637.63 219.8 637.63 218.13 637.07 215.35 636.52 214.24 635.96 213.68 634.85 213.12M633.74 224.8 634.85 224.8M243.74 479.1 247.64 479.1M245.41 468.54 245.41 479.1M245.97 479.1 245.97 467.42 239.85 475.76 248.75 475.76M252.08 478.54 252.64 479.1 253.2 478.54 252.64 477.99 252.08 478.54M252.08 478.54 253.2 478.54M252.64 477.99 252.64 479.1M257.09 477.99 257.64 477.43 258.76 477.43 261.54 479.1 263.76 479.1 264.32 478.54 264.87 477.43 264.87 476.32M257.09 479.1 257.09 477.43 257.64 475.76 258.76 474.65 262.09 472.98 263.76 471.87 264.32 470.76 264.32 469.65 263.76 468.54 263.2 467.98 262.09 467.42 259.87 467.42 258.2 467.98 257.64 468.54 257.09 469.65 257.09 470.2 257.64 470.76 258.2 470.2 257.64 469.65M258.76 477.43 261.54 478.54 263.2 478.54 264.32 477.99 264.87 477.43M259.87 474.1 262.65 472.98 264.32 471.87 264.87 470.76 264.87 469.65 264.32 468.54 263.76 467.98 262.09 467.42M269.88 469.65 270.99 469.09 272.66 467.42 272.66 479.1M269.88 479.1 274.88 479.1M272.1 467.98 272.1 479.1M279.88 481.32 280.44 480.77 281 479.66 281 478.54 280.44 477.99 279.88 478.54 280.44 479.1M279.88 478.54 281 478.54M280.44 477.99 280.44 479.1M280.44 479.1 281 478.54M646.24 479.1 650.14 479.1M647.91 468.54 647.91 479.1M648.47 479.1 648.47 467.42 642.35 475.76 651.25 475.76M654.58 478.54 655.14 479.1 655.7 478.54 655.14 477.99 654.58 478.54M654.58 478.54 655.7 478.54M655.14 477.99 655.14 479.1M659.59 477.99 660.14 477.43 661.26 477.43 664.04 479.1 666.26 479.1 666.82 478.54 667.37 477.43 667.37 476.32M659.59 479.1 659.59 477.43 660.14 475.76 661.26 474.65 664.59 472.98 666.26 471.87 666.82 470.76 666.82 469.65 666.26 468.54 665.7 467.98 664.59 467.42 662.37 467.42 660.7 467.98 660.14 468.54 659.59 469.65 659.59 470.2 660.14 470.76 660.7 470.2 660.14 469.65M661.26 477.43 664.04 478.54 665.7 478.54 666.82 477.99 667.37 477.43M662.37 474.1 665.15 472.98 666.82 471.87 667.37 470.76 667.37 469.65 666.82 468.54 666.26 467.98 664.59 467.42M672.38 469.65 673.49 469.09 675.16 467.42 675.16 479.1M672.38 479.1 677.38 479.1M674.6 467.98 674.6 479.1M682.38 481.32 682.94 480.77 683.5 479.66 683.5 478.54 682.94 477.99 682.38 478.54 682.94 479.1M682.38 478.54 683.5 478.54M682.94 477.99 682.94 479.1M682.94 479.1 683.5 478.54M230.96 692.95 231.52 693.5 230.96 694.06 230.41 693.5 230.41 692.95 230.96 691.84 231.52 691.28 233.19 690.72 235.41 690.72 237.08 691.28 237.64 692.39 237.64 694.06 237.08 695.17 235.41 695.73 233.74 695.73M230.96 700.18 231.52 699.62 230.96 699.06 230.41 699.62 230.41 700.18 230.96 701.29 231.52 701.84 233.19 702.4 235.41 702.4 237.08 701.84 237.64 701.29 238.19 700.18 238.19 698.51 237.64 697.4 236.52 696.28 235.41 695.73 236.52 695.17 237.08 694.06 237.08 692.39 236.52 691.28 235.41 690.72M235.41 702.4 236.52 701.84 237.08 701.29 237.64 700.18 237.64 698.51 237.08 696.84M242.08 701.84 242.64 702.4 243.2 701.84 242.64 701.29 242.08 701.84M242.08 701.84 243.2 701.84M242.64 701.29 242.64 702.4M247.09 701.29 247.64 700.73 248.76 700.73 251.54 702.4 253.76 702.4 254.32 701.84 254.87 700.73 254.87 699.62M247.09 702.4 247.09 700.73 247.64 699.06 248.76 697.95 252.09 696.28 253.76 695.17 254.32 694.06 254.32 692.95 253.76 691.84 253.2 691.28 252.09 690.72 249.87 690.72 248.2 691.28 247.64 691.84 247.09 692.95 247.09 693.5 247.64 694.06 248.2 693.5 247.64 692.95M248.76 700.73 251.54 701.84 253.2 701.84 254.32 701.29 254.87 700.73M249.87 697.4 252.65 696.28 254.32 695.17 254.87 694.06 254.87 692.95 254.32 691.84 253.76 691.28 252.09 690.72M258.76 700.18 259.32 699.62 258.76 699.06 258.21 699.62 258.21 700.18 258.76 701.29 259.32 701.84 260.99 702.4 262.66 702.4 264.32 701.84 265.44 700.73 265.99 699.06 265.99 697.95 265.44 696.28 264.32 695.17 262.66 694.62 260.99 694.62 259.32 695.17 258.21 696.28 259.32 690.72 264.88 690.72 262.1 691.28 259.32 691.28M262.66 694.62 263.77 695.17 264.88 696.28 265.44 697.95 265.44 699.06 264.88 700.73 263.77 701.84 262.66 702.4M269.88 704.62 270.44 704.07 271 702.96 271 701.84 270.44 701.29 269.88 701.84 270.44 702.4M269.88 701.84 271 701.84M270.44 701.29 270.44 702.4M270.44 702.4 271 701.84M633.46 692.95 634.02 693.5 633.46 694.06 632.91 693.5 632.91 692.95 633.46 691.84 634.02 691.28 635.69 690.72 637.91 690.72 639.58 691.28 640.14 692.39 640.14 694.06 639.58 695.17 637.91 695.73 636.24 695.73M633.46 700.18 634.02 699.62 633.46 699.06 632.91 699.62 632.91 700.18 633.46 701.29 634.02 701.84 635.69 702.4 637.91 702.4 639.58 701.84 640.14 701.29 640.69 700.18 640.69 698.51 640.14 697.4 639.02 696.28 637.91 695.73 639.02 695.17 639.58 694.06 639.58 692.39 639.02 691.28 637.91 690.72M637.91 702.4 639.02 701.84 639.58 701.29 640.14 700.18 640.14 698.51 639.58 696.84M644.58 701.84 645.14 702.4 645.7 701.84 645.14 701.29 644.58 701.84M644.58 701.84 645.7 701.84M645.14 701.29 645.14 702.4M649.59 690.72 649.59 694.06M649.59 692.95 650.14 691.84 651.26 690.72 652.37 690.72 655.15 692.39 652.37 691.28 651.26 691.28 650.14 691.84M652.92 702.4 652.92 699.62 653.48 697.95 654.04 696.84 656.82 694.06 654.59 696.84 654.04 697.95 653.48 699.62 653.48 702.4M655.15 692.39 656.26 692.39 656.82 691.84 657.37 690.72 657.37 692.39 656.82 694.06M661.26 700.18 661.82 699.62 661.26 699.06 660.71 699.62 660.71 700.18 661.26 701.29 661.82 701.84 663.49 702.4 665.16 702.4 666.82 701.84 667.94 700.73 668.49 699.06 668.49 697.95 667.94 696.28 666.82 695.17 665.16 694.62 663.49 694.62 661.82 695.17 660.71 696.28 661.82 690.72 667.38 690.72 664.6 691.28 661.82 691.28M665.16 694.62 666.27 695.17 667.38 696.28 667.94 697.95 667.94 699.06 667.38 700.73 666.27 701.84 665.16 702.4M672.38 704.62 672.94 704.07 673.5 702.96 673.5 701.84 672.94 701.29 672.38 701.84 672.94 702.4M672.38 701.84 673.5 701.84M672.94 701.29 672.94 702.4M672.94 702.4 673.5 701.84"/>
<path fill="none" stroke="#ff0000" stroke-width="1" stroke-linecap="round" stroke-linejoin="round" d="M242.91 206.15 243.47 206.7 242.91 207.26 242.36 206.7 242.36 206.15 242.91 205.04 243.47 204.48 245.14 203.92 247.36 203.92 249.03 204.48 249.58 205.59 249.58 207.26 249.03 208.37 247.36 208.93 245.69 208.93M242.91 213.38 243.47 212.82 242.91 212.26 242.36 212.82 242.36 213.38 242.91 214.49 243.47 215.04 245.14 215.6 247.36 215.6 249.03 215.04 249.58 214.49 250.14 213.38 250.14 211.71 249.58 210.6 248.47 209.48 247.36 208.93 248.47 208.37 249.03 207.26 249.03 205.59 248.47 204.48 247.36 203.92M247.36 215.6 248.47 215.04 249.03 214.49 249.58 213.38 249.58 211.71 249.03 210.04M656.53 222.58 657.09 222.02 656.53 221.46 655.98 222.02 655.98 222.58 656.53 223.69 657.09 224.24 658.76 224.8 660.42 224.8 662.09 224.24 663.2 223.13 663.76 221.46 663.76 220.35 663.2 218.68 662.09 217.57 660.42 217.02 658.76 217.02 657.09 217.57 655.98 218.68 657.09 213.12 662.65 213.12 659.87 213.68 657.09 213.68M660.42 217.02 661.54 217.57 662.65 218.68 663.2 220.35 663.2 221.46 662.65 223.13 661.54 224.24 660.42 224.8M306.02 479.1 309.91 479.1M307.68 468.54 307.68 479.1M308.24 479.1 308.24 467.42 302.12 475.76 311.02 475.76M314.36 478.54 314.91 479.1 315.47 478.54 314.91 477.99 314.36 478.54M314.36 478.54 315.47 478.54M314.91 477.99 314.91 479.1M319.92 476.88 320.47 476.32 319.92 475.76 319.36 476.32 319.36 476.88 319.92 477.99 320.47 478.54 322.14 479.1 323.81 479.1 325.48 478.54 326.59 477.43 327.14 475.76 327.14 474.65 326.59 472.98 325.48 471.87 323.81 471.32 322.14 471.32 320.47 471.87 319.36 472.98 320.47 467.42 326.03 467.42 323.25 467.98 320.47 467.98M323.81 471.32 324.92 471.87 326.03 472.98 326.59 474.65 326.59 475.76 326.03 477.43 324.92 478.54 323.81 479.1M332.15 469.65 333.26 469.09 334.93 467.42 334.93 479.1M332.15 479.1 337.15 479.1M334.37 467.98 334.37 479.1M708.52 479.1 712.41 479.1M710.18 468.54 710.18 479.1M710.74 479.1 710.74 467.42 704.62 475.76 713.52 475.76M716.86 478.54 717.41 479.1 717.97 478.54 717.41 477.99 716.86 478.54M716.86 478.54 717.97 478.54M717.41 477.99 717.41 479.1M722.42 476.88 722.97 476.32 722.42 475.76 721.86 476.32 721.86 476.88 722.42 477.99 722.97 478.54 724.64 479.1 726.31 479.1 727.98 478.54 729.09 477.43 729.64 475.76 729.64 474.65 729.09 472.98 727.98 471.87 726.31 471.32 724.64 471.32 722.97 471.87 721.86 472.98 722.97 467.42 728.53 467.42 725.75 467.98 722.97 467.98M726.31 471.32 727.42 471.87 728.53 472.98 729.09 474.65 729.09 475.76 728.53 477.43 727.42 478.54 726.31 479.1M734.65 469.65 735.76 469.09 737.43 467.42 737.43 479.1M734.65 479.1 739.65 479.1M736.87 467.98 736.87 479.1M293.24 692.95 293.79 693.5 293.24 694.06 292.68 693.5 292.68 692.95 293.24 691.84 293.79 691.28 295.46 690.72 297.68 690.72 299.35 691.28 299.91 692.39 299.91 694.06 299.35 695.17 297.68 695.73 296.02 695.73M293.24 700.18 293.79 699.62 293.24 699.06 292.68 699.62 292.68 700.18 293.24 701.29 293.79 701.84 295.46 702.4 297.68 702.4 299.35 701.84 299.91 701.29 300.46 700.18 300.46 698.51 299.91 697.4 298.8 696.28 297.68 695.73 298.8 695.17 299.35 694.06 299.35 692.39 298.8 691.28 297.68 690.72M297.68 702.4 298.8 701.84 299.35 701.29 299.91 700.18 299.91 698.51 299.35 696.84M304.36 701.84 304.91 702.4 305.47 701.84 304.91 701.29 304.36 701.84M304.36 701.84 305.47 701.84M304.91 701.29 304.91 702.4M309.92 700.18 310.47 699.62 309.92 699.06 309.36 699.62 309.36 700.18 309.92 701.29 310.47 701.84 312.14 702.4 313.81 702.4 315.48 701.84 316.59 700.73 317.14 699.06 317.14 697.95 316.59 696.28 315.48 695.17 313.81 694.62 312.14 694.62 310.47 695.17 309.36 696.28 310.47 690.72 316.03 690.72 313.25 691.28 310.47 691.28M313.81 694.62 314.92 695.17 316.03 696.28 316.59 697.95 316.59 699.06 316.03 700.73 314.92 701.84 313.81 702.4M321.04 700.18 321.59 699.62 321.04 699.06 320.48 699.62 320.48 700.18 321.04 701.29 321.59 701.84 323.26 702.4 324.93 702.4 326.6 701.84 327.71 700.73 328.26 699.06 328.26 697.95 327.71 696.28 326.6 695.17 324.93 694.62 323.26 694.62 321.59 695.17 320.48 696.28 321.59 690.72 327.15 690.72 324.37 691.28 321.59 691.28M324.93 694.62 326.04 695.17 327.15 696.28 327.71 697.95 327.71 699.06 327.15 700.73 326.04 701.84 324.93 702.4M698.52 702.4 702.41 702.4M700.18 691.84 700.18 702.4M700.74 702.4 700.74 690.72 694.62 699.06 703.52 699.06M706.86 701.84 707.41 702.4 707.97 701.84 707.41 701.29 706.86 701.84M706.86 701.84 707.97 701.84M707.41 701.29 707.41 702.4M715.2 690.72 713.53 691.28 712.42 692.95 711.86 695.73 711.86 697.4 712.42 700.18 713.53 701.84 715.2 702.4 714.08 701.84 713.53 701.29 712.97 700.18 712.42 697.4 712.42 695.73 712.97 692.95 713.53 691.84 714.08 691.28 715.2 690.72 716.31 690.72 717.98 691.28 719.09 692.95 719.64 695.73 719.64 697.4 719.09 700.18 717.98 701.84 716.31 702.4 717.42 701.84 717.98 701.29 718.53 700.18 719.09 697.4 719.09 695.73 718.53 692.95 717.98 691.84 717.42 691.28 716.31 690.72M715.2 702.4 716.31 702.4M723.54 700.18 724.09 699.62 723.54 699.06 722.98 699.62 722.98 700.18 723.54 701.29 724.09 701.84 725.76 702.4 727.43 702.4 729.1 701.84 730.21 700.73 730.76 699.06 730.76 697.95 730.21 696.28 729.1 695.17 727.43 694.62 725.76 694.62 724.09 695.17 722.98 696.28 724.09 690.72 729.65 690.72 726.87 691.28 724.09 691.28M727.43 694.62 728.54 695.17 729.65 696.28 730.21 697.95 730.21 699.06 729.65 700.73 728.54 701.84 727.43 702.4"/>
</g>
</svg>
</body></html>
